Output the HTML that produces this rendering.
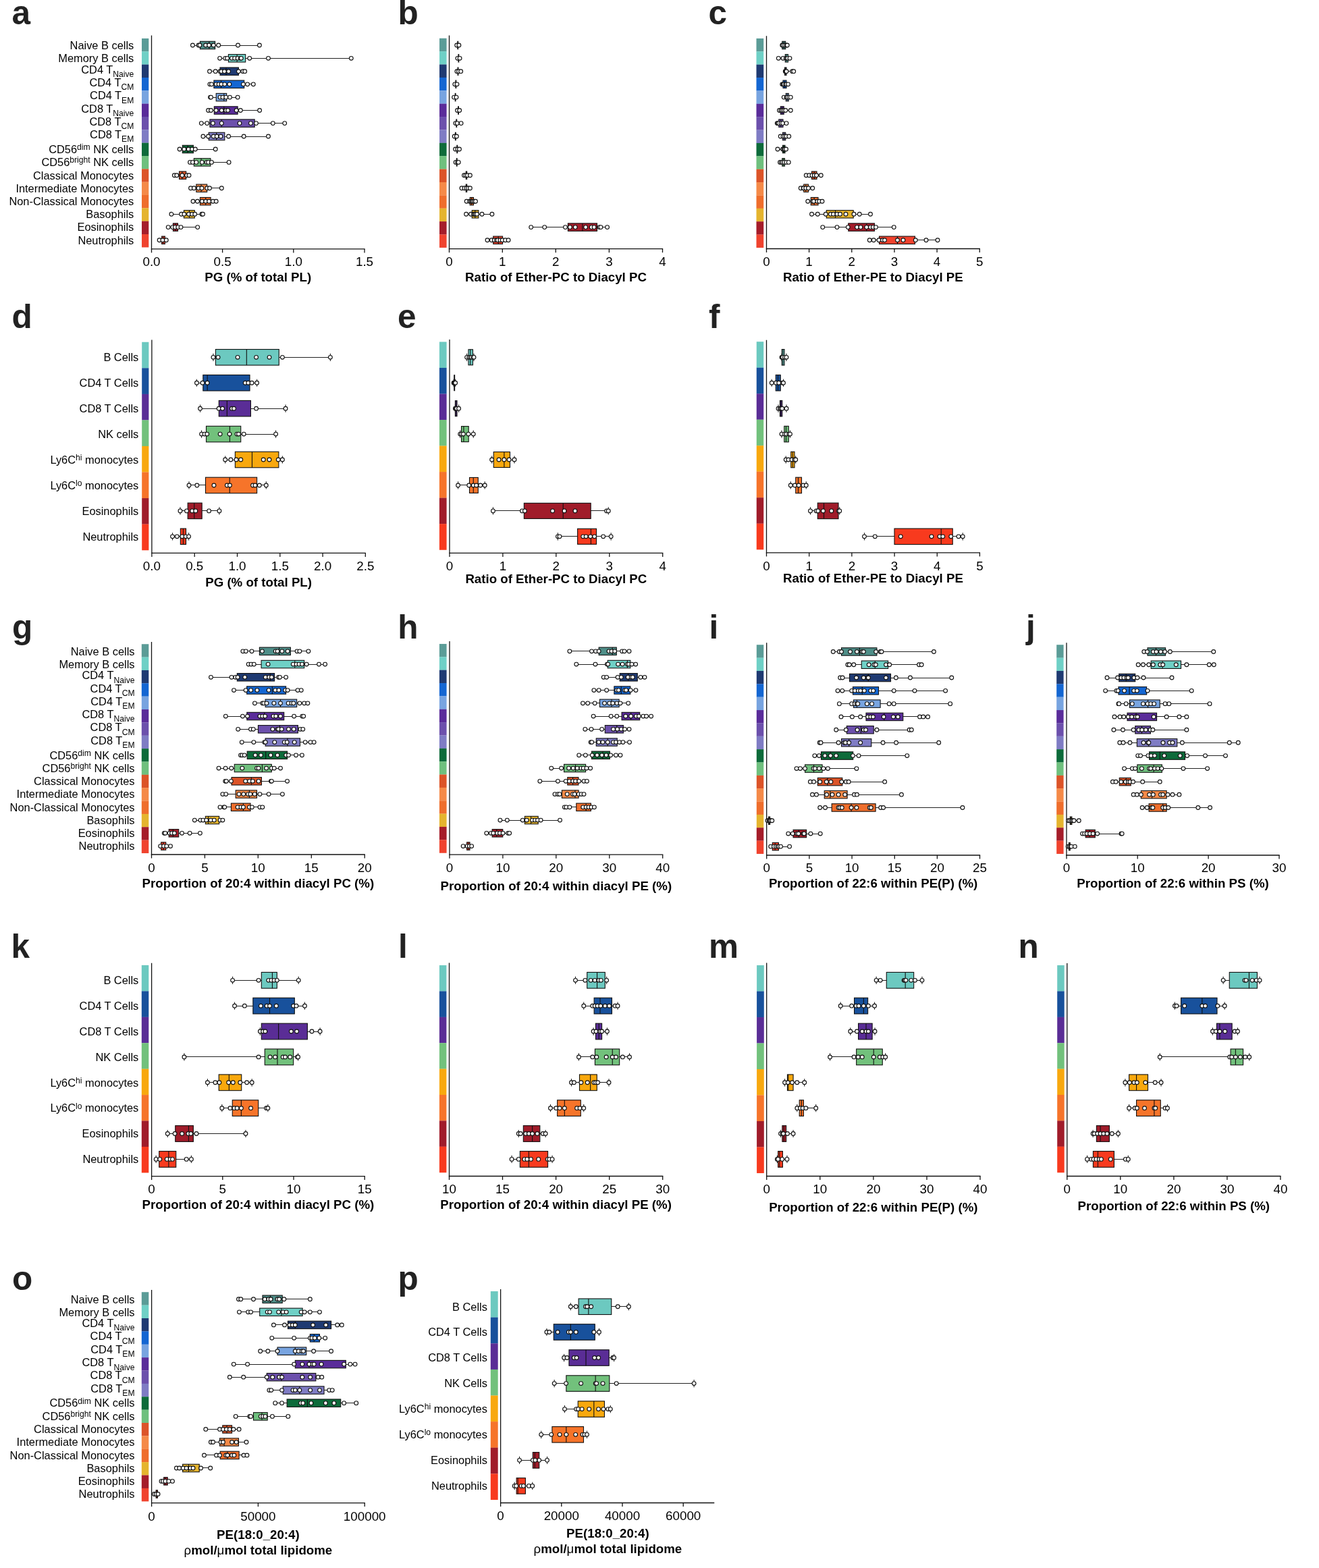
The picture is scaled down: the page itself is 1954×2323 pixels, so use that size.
<!DOCTYPE html><html><head><meta charset="utf-8"><title>Figure</title><style>html,body{margin:0;padding:0;background:#fff;}svg{display:block;}</style></head><body>
<svg width="1954" height="2323" viewBox="0 0 1954 2323" font-family='"Liberation Sans", Arial, Helvetica, sans-serif' fill="#000">
<rect width="1954" height="2323" fill="#fff"/>
<text x="17.50" y="36.20" font-size="49.5" font-weight="bold" fill="#222">a</text>
<rect x="210.00" y="56.95" width="10.30" height="19.44" fill="#5b9c97"/>
<rect x="210.00" y="76.29" width="10.30" height="19.44" fill="#6fd0c6"/>
<rect x="210.00" y="95.62" width="10.30" height="19.44" fill="#1f3a72"/>
<rect x="210.00" y="114.96" width="10.30" height="19.44" fill="#1466d2"/>
<rect x="210.00" y="134.30" width="10.30" height="19.44" fill="#78a4e0"/>
<rect x="210.00" y="153.64" width="10.30" height="19.44" fill="#5a2c9a"/>
<rect x="210.00" y="172.97" width="10.30" height="19.44" fill="#6c50ac"/>
<rect x="210.00" y="192.31" width="10.30" height="19.44" fill="#7f7cc4"/>
<rect x="210.00" y="211.65" width="10.30" height="19.44" fill="#0d6b3a"/>
<rect x="210.00" y="230.99" width="10.30" height="19.44" fill="#6fc07e"/>
<rect x="210.00" y="250.32" width="10.30" height="19.44" fill="#dc5428"/>
<rect x="210.00" y="269.66" width="10.30" height="19.44" fill="#f58a48"/>
<rect x="210.00" y="289.00" width="10.30" height="19.44" fill="#ef6e2c"/>
<rect x="210.00" y="308.34" width="10.30" height="19.44" fill="#e5b42e"/>
<rect x="210.00" y="327.67" width="10.30" height="19.44" fill="#a51d2a"/>
<rect x="210.00" y="347.01" width="10.30" height="19.44" fill="#f0432e"/>
<line x1="224.50" y1="52.50" x2="224.50" y2="369.55" stroke="#111" stroke-width="1.3"/>
<line x1="223.85" y1="368.90" x2="540.65" y2="368.90" stroke="#111" stroke-width="1.3"/>
<line x1="224.50" y1="368.90" x2="224.50" y2="374.40" stroke="#111" stroke-width="1.3"/>
<text x="224.50" y="394.30" font-size="18.8" text-anchor="middle">0.0</text>
<line x1="329.60" y1="368.90" x2="329.60" y2="374.40" stroke="#111" stroke-width="1.3"/>
<text x="329.60" y="394.30" font-size="18.8" text-anchor="middle">0.5</text>
<line x1="434.80" y1="368.90" x2="434.80" y2="374.40" stroke="#111" stroke-width="1.3"/>
<text x="434.80" y="394.30" font-size="18.8" text-anchor="middle">1.0</text>
<line x1="540.00" y1="368.90" x2="540.00" y2="374.40" stroke="#111" stroke-width="1.3"/>
<text x="540.00" y="394.30" font-size="18.8" text-anchor="middle">1.5</text>
<text x="382.25" y="416.70" font-size="18.7" font-weight="bold" text-anchor="middle">PG (% of total PL)</text>
<text x="198.30" y="72.80" font-size="16.40" text-anchor="end"><tspan>Naive B cells</tspan></text>
<text x="198.30" y="92.10" font-size="16.40" text-anchor="end"><tspan>Memory B cells</tspan></text>
<text x="198.30" y="108.70" font-size="16.40" text-anchor="end"><tspan>CD4 T</tspan><tspan font-size="12.14" dy="5.41">Naive</tspan></text>
<text x="198.30" y="127.80" font-size="16.40" text-anchor="end"><tspan>CD4 T</tspan><tspan font-size="12.14" dy="5.41">CM</tspan></text>
<text x="198.30" y="147.10" font-size="16.40" text-anchor="end"><tspan>CD4 T</tspan><tspan font-size="12.14" dy="5.41">EM</tspan></text>
<text x="198.30" y="166.50" font-size="16.40" text-anchor="end"><tspan>CD8 T</tspan><tspan font-size="12.14" dy="5.41">Naive</tspan></text>
<text x="198.30" y="185.60" font-size="16.40" text-anchor="end"><tspan>CD8 T</tspan><tspan font-size="12.14" dy="5.41">CM</tspan></text>
<text x="198.30" y="205.00" font-size="16.40" text-anchor="end"><tspan>CD8 T</tspan><tspan font-size="12.14" dy="5.41">EM</tspan></text>
<text x="198.30" y="226.80" font-size="16.40" text-anchor="end"><tspan>CD56</tspan><tspan font-size="12.14" dy="-4.92">dim</tspan><tspan dy="4.92"> NK cells</tspan></text>
<text x="198.30" y="246.20" font-size="16.40" text-anchor="end"><tspan>CD56</tspan><tspan font-size="12.14" dy="-4.92">bright</tspan><tspan dy="4.92"> NK cells</tspan></text>
<text x="198.30" y="265.50" font-size="16.40" text-anchor="end"><tspan>Classical Monocytes</tspan></text>
<text x="198.30" y="284.60" font-size="16.40" text-anchor="end"><tspan>Intermediate Monocytes</tspan></text>
<text x="198.30" y="304.00" font-size="16.40" text-anchor="end"><tspan>Non-Classical Monocytes</tspan></text>
<text x="198.30" y="323.10" font-size="16.40" text-anchor="end"><tspan>Basophils</tspan></text>
<text x="198.30" y="342.40" font-size="16.40" text-anchor="end"><tspan>Eosinophils</tspan></text>
<text x="198.30" y="361.60" font-size="16.40" text-anchor="end"><tspan>Neutrophils</tspan></text>
<line x1="285.40" y1="67.50" x2="384.40" y2="67.50" stroke="#222" stroke-width="1.1"/>
<rect x="296.40" y="61.30" width="22.20" height="11.40" fill="#4f8e88" stroke="#111" stroke-width="1.1"/>
<line x1="309.90" y1="61.30" x2="309.90" y2="72.70" stroke="#111" stroke-width="1.1"/>
<circle cx="285.40" cy="67.00" r="2.85" fill="#fff" stroke="#111" stroke-width="1.15"/>
<circle cx="294.10" cy="67.00" r="2.85" fill="#fff" stroke="#111" stroke-width="1.15"/>
<circle cx="296.00" cy="67.00" r="2.85" fill="#fff" stroke="#111" stroke-width="1.15"/>
<circle cx="304.70" cy="67.00" r="2.85" fill="#fff" stroke="#111" stroke-width="1.15"/>
<circle cx="309.60" cy="67.00" r="2.85" fill="#fff" stroke="#111" stroke-width="1.15"/>
<circle cx="316.30" cy="67.00" r="2.85" fill="#fff" stroke="#111" stroke-width="1.15"/>
<circle cx="323.70" cy="67.00" r="2.85" fill="#fff" stroke="#111" stroke-width="1.15"/>
<circle cx="352.50" cy="67.00" r="2.85" fill="#fff" stroke="#111" stroke-width="1.15"/>
<circle cx="384.40" cy="67.00" r="2.85" fill="#fff" stroke="#111" stroke-width="1.15"/>
<line x1="325.60" y1="86.50" x2="520.30" y2="86.50" stroke="#222" stroke-width="1.1"/>
<rect x="338.40" y="80.60" width="25.30" height="11.40" fill="#6fd0c6" stroke="#111" stroke-width="1.1"/>
<line x1="351.10" y1="80.60" x2="351.10" y2="92.00" stroke="#111" stroke-width="1.1"/>
<circle cx="325.60" cy="86.30" r="2.85" fill="#fff" stroke="#111" stroke-width="1.15"/>
<circle cx="333.70" cy="86.30" r="2.85" fill="#fff" stroke="#111" stroke-width="1.15"/>
<circle cx="336.60" cy="86.30" r="2.85" fill="#fff" stroke="#111" stroke-width="1.15"/>
<circle cx="343.40" cy="86.30" r="2.85" fill="#fff" stroke="#111" stroke-width="1.15"/>
<circle cx="347.60" cy="86.30" r="2.85" fill="#fff" stroke="#111" stroke-width="1.15"/>
<circle cx="352.10" cy="86.30" r="2.85" fill="#fff" stroke="#111" stroke-width="1.15"/>
<circle cx="356.30" cy="86.30" r="2.85" fill="#fff" stroke="#111" stroke-width="1.15"/>
<circle cx="357.30" cy="86.30" r="2.85" fill="#fff" stroke="#111" stroke-width="1.15"/>
<circle cx="369.70" cy="86.30" r="2.85" fill="#fff" stroke="#111" stroke-width="1.15"/>
<circle cx="397.50" cy="86.30" r="2.85" fill="#fff" stroke="#111" stroke-width="1.15"/>
<circle cx="520.30" cy="86.30" r="2.85" fill="#fff" stroke="#111" stroke-width="1.15"/>
<line x1="310.50" y1="105.50" x2="362.70" y2="105.50" stroke="#222" stroke-width="1.1"/>
<rect x="326.00" y="100.00" width="27.40" height="11.40" fill="#1f3a72" stroke="#111" stroke-width="1.1"/>
<line x1="335.00" y1="100.00" x2="335.00" y2="111.40" stroke="#111" stroke-width="1.1"/>
<circle cx="310.50" cy="105.70" r="2.85" fill="#fff" stroke="#111" stroke-width="1.15"/>
<circle cx="319.20" cy="105.70" r="2.85" fill="#fff" stroke="#111" stroke-width="1.15"/>
<circle cx="326.00" cy="105.70" r="2.85" fill="#fff" stroke="#111" stroke-width="1.15"/>
<circle cx="327.90" cy="105.70" r="2.85" fill="#fff" stroke="#111" stroke-width="1.15"/>
<circle cx="332.40" cy="105.70" r="2.85" fill="#fff" stroke="#111" stroke-width="1.15"/>
<circle cx="338.60" cy="105.70" r="2.85" fill="#fff" stroke="#111" stroke-width="1.15"/>
<circle cx="353.40" cy="105.70" r="2.85" fill="#fff" stroke="#111" stroke-width="1.15"/>
<circle cx="359.80" cy="105.70" r="2.85" fill="#fff" stroke="#111" stroke-width="1.15"/>
<circle cx="362.70" cy="105.70" r="2.85" fill="#fff" stroke="#111" stroke-width="1.15"/>
<line x1="310.90" y1="124.50" x2="375.30" y2="124.50" stroke="#222" stroke-width="1.1"/>
<rect x="316.90" y="119.10" width="44.80" height="11.40" fill="#1466d2" stroke="#111" stroke-width="1.1"/>
<line x1="327.50" y1="119.10" x2="327.50" y2="130.50" stroke="#111" stroke-width="1.1"/>
<circle cx="310.90" cy="124.80" r="2.85" fill="#fff" stroke="#111" stroke-width="1.15"/>
<circle cx="313.40" cy="124.80" r="2.85" fill="#fff" stroke="#111" stroke-width="1.15"/>
<circle cx="320.20" cy="124.80" r="2.85" fill="#fff" stroke="#111" stroke-width="1.15"/>
<circle cx="324.10" cy="124.80" r="2.85" fill="#fff" stroke="#111" stroke-width="1.15"/>
<circle cx="327.90" cy="124.80" r="2.85" fill="#fff" stroke="#111" stroke-width="1.15"/>
<circle cx="332.80" cy="124.80" r="2.85" fill="#fff" stroke="#111" stroke-width="1.15"/>
<circle cx="339.90" cy="124.80" r="2.85" fill="#fff" stroke="#111" stroke-width="1.15"/>
<circle cx="360.40" cy="124.80" r="2.85" fill="#fff" stroke="#111" stroke-width="1.15"/>
<circle cx="366.60" cy="124.80" r="2.85" fill="#fff" stroke="#111" stroke-width="1.15"/>
<circle cx="375.30" cy="124.80" r="2.85" fill="#fff" stroke="#111" stroke-width="1.15"/>
<line x1="311.50" y1="144.50" x2="352.10" y2="144.50" stroke="#222" stroke-width="1.1"/>
<rect x="320.20" y="138.40" width="15.50" height="11.40" fill="#78a4e0" stroke="#111" stroke-width="1.1"/>
<line x1="331.80" y1="138.40" x2="331.80" y2="149.80" stroke="#111" stroke-width="1.1"/>
<circle cx="311.50" cy="144.10" r="2.85" fill="#fff" stroke="#111" stroke-width="1.15"/>
<circle cx="312.50" cy="144.10" r="2.85" fill="#fff" stroke="#111" stroke-width="1.15"/>
<circle cx="326.00" cy="144.10" r="2.85" fill="#fff" stroke="#111" stroke-width="1.15"/>
<circle cx="329.90" cy="144.10" r="2.85" fill="#fff" stroke="#111" stroke-width="1.15"/>
<circle cx="334.70" cy="144.10" r="2.85" fill="#fff" stroke="#111" stroke-width="1.15"/>
<circle cx="340.50" cy="144.10" r="2.85" fill="#fff" stroke="#111" stroke-width="1.15"/>
<circle cx="352.10" cy="144.10" r="2.85" fill="#fff" stroke="#111" stroke-width="1.15"/>
<line x1="308.60" y1="163.50" x2="384.60" y2="163.50" stroke="#222" stroke-width="1.1"/>
<rect x="317.30" y="157.80" width="34.80" height="11.40" fill="#5a2c9a" stroke="#111" stroke-width="1.1"/>
<line x1="331.80" y1="157.80" x2="331.80" y2="169.20" stroke="#111" stroke-width="1.1"/>
<circle cx="308.60" cy="163.50" r="2.85" fill="#fff" stroke="#111" stroke-width="1.15"/>
<circle cx="312.50" cy="163.50" r="2.85" fill="#fff" stroke="#111" stroke-width="1.15"/>
<circle cx="320.20" cy="163.50" r="2.85" fill="#fff" stroke="#111" stroke-width="1.15"/>
<circle cx="328.30" cy="163.50" r="2.85" fill="#fff" stroke="#111" stroke-width="1.15"/>
<circle cx="334.70" cy="163.50" r="2.85" fill="#fff" stroke="#111" stroke-width="1.15"/>
<circle cx="337.60" cy="163.50" r="2.85" fill="#fff" stroke="#111" stroke-width="1.15"/>
<circle cx="350.20" cy="163.50" r="2.85" fill="#fff" stroke="#111" stroke-width="1.15"/>
<circle cx="356.30" cy="163.50" r="2.85" fill="#fff" stroke="#111" stroke-width="1.15"/>
<circle cx="384.60" cy="163.50" r="2.85" fill="#fff" stroke="#111" stroke-width="1.15"/>
<line x1="298.30" y1="182.50" x2="421.70" y2="182.50" stroke="#222" stroke-width="1.1"/>
<rect x="310.90" y="176.90" width="66.30" height="11.40" fill="#6c50ac" stroke="#111" stroke-width="1.1"/>
<line x1="328.30" y1="176.90" x2="328.30" y2="188.30" stroke="#111" stroke-width="1.1"/>
<circle cx="298.30" cy="182.60" r="2.85" fill="#fff" stroke="#111" stroke-width="1.15"/>
<circle cx="306.70" cy="182.60" r="2.85" fill="#fff" stroke="#111" stroke-width="1.15"/>
<circle cx="315.40" cy="182.60" r="2.85" fill="#fff" stroke="#111" stroke-width="1.15"/>
<circle cx="328.30" cy="182.60" r="2.85" fill="#fff" stroke="#111" stroke-width="1.15"/>
<circle cx="355.00" cy="182.60" r="2.85" fill="#fff" stroke="#111" stroke-width="1.15"/>
<circle cx="371.40" cy="182.60" r="2.85" fill="#fff" stroke="#111" stroke-width="1.15"/>
<circle cx="379.50" cy="182.60" r="2.85" fill="#fff" stroke="#111" stroke-width="1.15"/>
<circle cx="404.30" cy="182.60" r="2.85" fill="#fff" stroke="#111" stroke-width="1.15"/>
<circle cx="421.70" cy="182.60" r="2.85" fill="#fff" stroke="#111" stroke-width="1.15"/>
<line x1="300.90" y1="202.50" x2="397.50" y2="202.50" stroke="#222" stroke-width="1.1"/>
<rect x="309.20" y="196.30" width="23.60" height="11.40" fill="#7f7cc4" stroke="#111" stroke-width="1.1"/>
<line x1="320.60" y1="196.30" x2="320.60" y2="207.70" stroke="#111" stroke-width="1.1"/>
<circle cx="300.90" cy="202.00" r="2.85" fill="#fff" stroke="#111" stroke-width="1.15"/>
<circle cx="308.60" cy="202.00" r="2.85" fill="#fff" stroke="#111" stroke-width="1.15"/>
<circle cx="316.30" cy="202.00" r="2.85" fill="#fff" stroke="#111" stroke-width="1.15"/>
<circle cx="321.20" cy="202.00" r="2.85" fill="#fff" stroke="#111" stroke-width="1.15"/>
<circle cx="327.00" cy="202.00" r="2.85" fill="#fff" stroke="#111" stroke-width="1.15"/>
<circle cx="338.60" cy="202.00" r="2.85" fill="#fff" stroke="#111" stroke-width="1.15"/>
<circle cx="361.20" cy="202.00" r="2.85" fill="#fff" stroke="#111" stroke-width="1.15"/>
<circle cx="397.50" cy="202.00" r="2.85" fill="#fff" stroke="#111" stroke-width="1.15"/>
<line x1="266.10" y1="221.50" x2="319.20" y2="221.50" stroke="#222" stroke-width="1.1"/>
<rect x="270.30" y="215.30" width="16.10" height="11.40" fill="#0d6b3a" stroke="#111" stroke-width="1.1"/>
<line x1="278.00" y1="215.30" x2="278.00" y2="226.70" stroke="#111" stroke-width="1.1"/>
<circle cx="266.10" cy="221.00" r="2.85" fill="#fff" stroke="#111" stroke-width="1.15"/>
<circle cx="272.80" cy="221.00" r="2.85" fill="#fff" stroke="#111" stroke-width="1.15"/>
<circle cx="279.20" cy="221.00" r="2.85" fill="#fff" stroke="#111" stroke-width="1.15"/>
<circle cx="284.40" cy="221.00" r="2.85" fill="#fff" stroke="#111" stroke-width="1.15"/>
<circle cx="289.30" cy="221.00" r="2.85" fill="#fff" stroke="#111" stroke-width="1.15"/>
<circle cx="319.20" cy="221.00" r="2.85" fill="#fff" stroke="#111" stroke-width="1.15"/>
<line x1="281.50" y1="240.50" x2="339.10" y2="240.50" stroke="#222" stroke-width="1.1"/>
<rect x="287.30" y="234.70" width="24.60" height="11.40" fill="#6fc07e" stroke="#111" stroke-width="1.1"/>
<line x1="298.00" y1="234.70" x2="298.00" y2="246.10" stroke="#111" stroke-width="1.1"/>
<circle cx="281.50" cy="240.40" r="2.85" fill="#fff" stroke="#111" stroke-width="1.15"/>
<circle cx="285.40" cy="240.40" r="2.85" fill="#fff" stroke="#111" stroke-width="1.15"/>
<circle cx="290.80" cy="240.40" r="2.85" fill="#fff" stroke="#111" stroke-width="1.15"/>
<circle cx="299.30" cy="240.40" r="2.85" fill="#fff" stroke="#111" stroke-width="1.15"/>
<circle cx="306.10" cy="240.40" r="2.85" fill="#fff" stroke="#111" stroke-width="1.15"/>
<circle cx="308.60" cy="240.40" r="2.85" fill="#fff" stroke="#111" stroke-width="1.15"/>
<circle cx="313.40" cy="240.40" r="2.85" fill="#fff" stroke="#111" stroke-width="1.15"/>
<circle cx="339.10" cy="240.40" r="2.85" fill="#fff" stroke="#111" stroke-width="1.15"/>
<line x1="258.30" y1="259.50" x2="280.00" y2="259.50" stroke="#222" stroke-width="1.1"/>
<rect x="265.50" y="254.00" width="10.20" height="11.40" fill="#dc5428" stroke="#111" stroke-width="1.1"/>
<line x1="269.90" y1="254.00" x2="269.90" y2="265.40" stroke="#111" stroke-width="1.1"/>
<circle cx="258.30" cy="259.70" r="2.85" fill="#fff" stroke="#111" stroke-width="1.15"/>
<circle cx="261.80" cy="259.70" r="2.85" fill="#fff" stroke="#111" stroke-width="1.15"/>
<circle cx="269.90" cy="259.70" r="2.85" fill="#fff" stroke="#111" stroke-width="1.15"/>
<circle cx="276.70" cy="259.70" r="2.85" fill="#fff" stroke="#111" stroke-width="1.15"/>
<circle cx="280.00" cy="259.70" r="2.85" fill="#fff" stroke="#111" stroke-width="1.15"/>
<line x1="282.50" y1="278.50" x2="328.30" y2="278.50" stroke="#222" stroke-width="1.1"/>
<rect x="290.80" y="273.10" width="15.90" height="11.40" fill="#f58a48" stroke="#111" stroke-width="1.1"/>
<line x1="298.00" y1="273.10" x2="298.00" y2="284.50" stroke="#111" stroke-width="1.1"/>
<circle cx="282.50" cy="278.80" r="2.85" fill="#fff" stroke="#111" stroke-width="1.15"/>
<circle cx="287.30" cy="278.80" r="2.85" fill="#fff" stroke="#111" stroke-width="1.15"/>
<circle cx="294.10" cy="278.80" r="2.85" fill="#fff" stroke="#111" stroke-width="1.15"/>
<circle cx="298.90" cy="278.80" r="2.85" fill="#fff" stroke="#111" stroke-width="1.15"/>
<circle cx="306.70" cy="278.80" r="2.85" fill="#fff" stroke="#111" stroke-width="1.15"/>
<circle cx="310.50" cy="278.80" r="2.85" fill="#fff" stroke="#111" stroke-width="1.15"/>
<circle cx="328.30" cy="278.80" r="2.85" fill="#fff" stroke="#111" stroke-width="1.15"/>
<line x1="286.00" y1="298.50" x2="320.20" y2="298.50" stroke="#222" stroke-width="1.1"/>
<rect x="296.40" y="292.50" width="15.70" height="11.40" fill="#ef6e2c" stroke="#111" stroke-width="1.1"/>
<line x1="304.70" y1="292.50" x2="304.70" y2="303.90" stroke="#111" stroke-width="1.1"/>
<circle cx="286.00" cy="298.20" r="2.85" fill="#fff" stroke="#111" stroke-width="1.15"/>
<circle cx="292.50" cy="298.20" r="2.85" fill="#fff" stroke="#111" stroke-width="1.15"/>
<circle cx="299.30" cy="298.20" r="2.85" fill="#fff" stroke="#111" stroke-width="1.15"/>
<circle cx="304.70" cy="298.20" r="2.85" fill="#fff" stroke="#111" stroke-width="1.15"/>
<circle cx="309.60" cy="298.20" r="2.85" fill="#fff" stroke="#111" stroke-width="1.15"/>
<circle cx="315.40" cy="298.20" r="2.85" fill="#fff" stroke="#111" stroke-width="1.15"/>
<circle cx="320.20" cy="298.20" r="2.85" fill="#fff" stroke="#111" stroke-width="1.15"/>
<line x1="253.90" y1="317.50" x2="300.50" y2="317.50" stroke="#222" stroke-width="1.1"/>
<rect x="272.40" y="311.60" width="15.90" height="11.40" fill="#e5b42e" stroke="#111" stroke-width="1.1"/>
<line x1="280.60" y1="311.60" x2="280.60" y2="323.00" stroke="#111" stroke-width="1.1"/>
<circle cx="253.90" cy="317.30" r="2.85" fill="#fff" stroke="#111" stroke-width="1.15"/>
<circle cx="268.60" cy="317.30" r="2.85" fill="#fff" stroke="#111" stroke-width="1.15"/>
<circle cx="272.80" cy="317.30" r="2.85" fill="#fff" stroke="#111" stroke-width="1.15"/>
<circle cx="279.60" cy="317.30" r="2.85" fill="#fff" stroke="#111" stroke-width="1.15"/>
<circle cx="284.40" cy="317.30" r="2.85" fill="#fff" stroke="#111" stroke-width="1.15"/>
<circle cx="288.70" cy="317.30" r="2.85" fill="#fff" stroke="#111" stroke-width="1.15"/>
<circle cx="298.90" cy="317.30" r="2.85" fill="#fff" stroke="#111" stroke-width="1.15"/>
<circle cx="300.50" cy="317.30" r="2.85" fill="#fff" stroke="#111" stroke-width="1.15"/>
<line x1="249.20" y1="336.50" x2="292.70" y2="336.50" stroke="#222" stroke-width="1.1"/>
<rect x="256.40" y="330.90" width="7.10" height="11.40" fill="#a51d2a" stroke="#111" stroke-width="1.1"/>
<line x1="259.90" y1="330.90" x2="259.90" y2="342.30" stroke="#111" stroke-width="1.1"/>
<circle cx="249.20" cy="336.60" r="2.85" fill="#fff" stroke="#111" stroke-width="1.15"/>
<circle cx="255.80" cy="336.60" r="2.85" fill="#fff" stroke="#111" stroke-width="1.15"/>
<circle cx="259.30" cy="336.60" r="2.85" fill="#fff" stroke="#111" stroke-width="1.15"/>
<circle cx="263.70" cy="336.60" r="2.85" fill="#fff" stroke="#111" stroke-width="1.15"/>
<circle cx="268.00" cy="336.60" r="2.85" fill="#fff" stroke="#111" stroke-width="1.15"/>
<circle cx="292.70" cy="336.60" r="2.85" fill="#fff" stroke="#111" stroke-width="1.15"/>
<line x1="236.10" y1="355.50" x2="246.30" y2="355.50" stroke="#222" stroke-width="1.1"/>
<rect x="239.60" y="350.10" width="4.80" height="11.40" fill="#f0432e" stroke="#111" stroke-width="1.1"/>
<line x1="241.90" y1="350.10" x2="241.90" y2="361.50" stroke="#111" stroke-width="1.1"/>
<circle cx="236.10" cy="355.80" r="2.85" fill="#fff" stroke="#111" stroke-width="1.15"/>
<circle cx="240.90" cy="355.80" r="2.85" fill="#fff" stroke="#111" stroke-width="1.15"/>
<circle cx="246.30" cy="355.80" r="2.85" fill="#fff" stroke="#111" stroke-width="1.15"/>
<text x="589.40" y="36.20" font-size="49.5" font-weight="bold" fill="#222">b</text>
<rect x="651.00" y="56.75" width="10.60" height="19.48" fill="#5b9c97"/>
<rect x="651.00" y="76.13" width="10.60" height="19.48" fill="#6fd0c6"/>
<rect x="651.00" y="95.51" width="10.60" height="19.48" fill="#1f3a72"/>
<rect x="651.00" y="114.89" width="10.60" height="19.48" fill="#1466d2"/>
<rect x="651.00" y="134.27" width="10.60" height="19.48" fill="#78a4e0"/>
<rect x="651.00" y="153.66" width="10.60" height="19.48" fill="#5a2c9a"/>
<rect x="651.00" y="173.04" width="10.60" height="19.48" fill="#6c50ac"/>
<rect x="651.00" y="192.42" width="10.60" height="19.48" fill="#7f7cc4"/>
<rect x="651.00" y="211.80" width="10.60" height="19.48" fill="#0d6b3a"/>
<rect x="651.00" y="231.18" width="10.60" height="19.48" fill="#6fc07e"/>
<rect x="651.00" y="250.56" width="10.60" height="19.48" fill="#dc5428"/>
<rect x="651.00" y="269.94" width="10.60" height="19.48" fill="#f58a48"/>
<rect x="651.00" y="289.32" width="10.60" height="19.48" fill="#ef6e2c"/>
<rect x="651.00" y="308.71" width="10.60" height="19.48" fill="#e5b42e"/>
<rect x="651.00" y="328.09" width="10.60" height="19.48" fill="#a51d2a"/>
<rect x="651.00" y="347.47" width="10.60" height="19.48" fill="#f0432e"/>
<line x1="665.50" y1="52.50" x2="665.50" y2="369.35" stroke="#111" stroke-width="1.3"/>
<line x1="664.85" y1="368.70" x2="982.15" y2="368.70" stroke="#111" stroke-width="1.3"/>
<line x1="665.50" y1="368.70" x2="665.50" y2="374.20" stroke="#111" stroke-width="1.3"/>
<text x="665.50" y="394.30" font-size="18.8" text-anchor="middle">0</text>
<line x1="744.30" y1="368.70" x2="744.30" y2="374.20" stroke="#111" stroke-width="1.3"/>
<text x="744.30" y="394.30" font-size="18.8" text-anchor="middle">1</text>
<line x1="823.30" y1="368.70" x2="823.30" y2="374.20" stroke="#111" stroke-width="1.3"/>
<text x="823.30" y="394.30" font-size="18.8" text-anchor="middle">2</text>
<line x1="902.40" y1="368.70" x2="902.40" y2="374.20" stroke="#111" stroke-width="1.3"/>
<text x="902.40" y="394.30" font-size="18.8" text-anchor="middle">3</text>
<line x1="981.50" y1="368.70" x2="981.50" y2="374.20" stroke="#111" stroke-width="1.3"/>
<text x="981.50" y="394.30" font-size="18.8" text-anchor="middle">4</text>
<text x="823.50" y="416.70" font-size="18.7" font-weight="bold" text-anchor="middle">Ratio of Ether-PC to Diacyl PC</text>
<line x1="676.70" y1="67.50" x2="679.90" y2="67.50" stroke="#222" stroke-width="1.1"/>
<rect x="677.95" y="61.30" width="0.70" height="11.40" fill="#4f8e88" stroke="#111" stroke-width="1.1"/>
<line x1="678.30" y1="61.30" x2="678.30" y2="72.70" stroke="#111" stroke-width="1.1"/>
<circle cx="676.70" cy="67.00" r="2.85" fill="#fff" stroke="#111" stroke-width="1.15"/>
<circle cx="679.90" cy="67.00" r="2.85" fill="#fff" stroke="#111" stroke-width="1.15"/>
<line x1="677.90" y1="86.50" x2="681.10" y2="86.50" stroke="#222" stroke-width="1.1"/>
<rect x="679.05" y="80.60" width="0.70" height="11.40" fill="#6fd0c6" stroke="#111" stroke-width="1.1"/>
<line x1="679.40" y1="80.60" x2="679.40" y2="92.00" stroke="#111" stroke-width="1.1"/>
<circle cx="677.90" cy="86.30" r="2.85" fill="#fff" stroke="#111" stroke-width="1.15"/>
<circle cx="681.10" cy="86.30" r="2.85" fill="#fff" stroke="#111" stroke-width="1.15"/>
<line x1="676.90" y1="105.50" x2="682.70" y2="105.50" stroke="#222" stroke-width="1.1"/>
<rect x="678.15" y="100.00" width="0.70" height="11.40" fill="#1f3a72" stroke="#111" stroke-width="1.1"/>
<line x1="678.50" y1="100.00" x2="678.50" y2="111.40" stroke="#111" stroke-width="1.1"/>
<circle cx="676.90" cy="105.70" r="2.85" fill="#fff" stroke="#111" stroke-width="1.15"/>
<circle cx="679.50" cy="105.70" r="2.85" fill="#fff" stroke="#111" stroke-width="1.15"/>
<circle cx="682.70" cy="105.70" r="2.85" fill="#fff" stroke="#111" stroke-width="1.15"/>
<line x1="673.80" y1="124.50" x2="677.00" y2="124.50" stroke="#222" stroke-width="1.1"/>
<rect x="675.05" y="119.10" width="0.70" height="11.40" fill="#1466d2" stroke="#111" stroke-width="1.1"/>
<line x1="675.40" y1="119.10" x2="675.40" y2="130.50" stroke="#111" stroke-width="1.1"/>
<circle cx="673.80" cy="124.80" r="2.85" fill="#fff" stroke="#111" stroke-width="1.15"/>
<circle cx="677.00" cy="124.80" r="2.85" fill="#fff" stroke="#111" stroke-width="1.15"/>
<line x1="672.60" y1="144.50" x2="676.00" y2="144.50" stroke="#222" stroke-width="1.1"/>
<rect x="674.25" y="138.40" width="0.70" height="11.40" fill="#78a4e0" stroke="#111" stroke-width="1.1"/>
<line x1="674.60" y1="138.40" x2="674.60" y2="149.80" stroke="#111" stroke-width="1.1"/>
<circle cx="672.60" cy="144.10" r="2.85" fill="#fff" stroke="#111" stroke-width="1.15"/>
<circle cx="676.00" cy="144.10" r="2.85" fill="#fff" stroke="#111" stroke-width="1.15"/>
<line x1="677.50" y1="163.50" x2="680.70" y2="163.50" stroke="#222" stroke-width="1.1"/>
<rect x="678.75" y="157.80" width="0.70" height="11.40" fill="#5a2c9a" stroke="#111" stroke-width="1.1"/>
<line x1="679.10" y1="157.80" x2="679.10" y2="169.20" stroke="#111" stroke-width="1.1"/>
<circle cx="677.50" cy="163.50" r="2.85" fill="#fff" stroke="#111" stroke-width="1.15"/>
<circle cx="680.70" cy="163.50" r="2.85" fill="#fff" stroke="#111" stroke-width="1.15"/>
<line x1="674.80" y1="182.50" x2="683.10" y2="182.50" stroke="#222" stroke-width="1.1"/>
<rect x="675.95" y="176.90" width="0.70" height="11.40" fill="#6c50ac" stroke="#111" stroke-width="1.1"/>
<line x1="676.30" y1="176.90" x2="676.30" y2="188.30" stroke="#111" stroke-width="1.1"/>
<circle cx="674.80" cy="182.60" r="2.85" fill="#fff" stroke="#111" stroke-width="1.15"/>
<circle cx="677.30" cy="182.60" r="2.85" fill="#fff" stroke="#111" stroke-width="1.15"/>
<circle cx="683.10" cy="182.60" r="2.85" fill="#fff" stroke="#111" stroke-width="1.15"/>
<line x1="673.20" y1="202.50" x2="676.40" y2="202.50" stroke="#222" stroke-width="1.1"/>
<rect x="674.45" y="196.30" width="0.70" height="11.40" fill="#7f7cc4" stroke="#111" stroke-width="1.1"/>
<line x1="674.80" y1="196.30" x2="674.80" y2="207.70" stroke="#111" stroke-width="1.1"/>
<circle cx="673.20" cy="202.00" r="2.85" fill="#fff" stroke="#111" stroke-width="1.15"/>
<circle cx="676.40" cy="202.00" r="2.85" fill="#fff" stroke="#111" stroke-width="1.15"/>
<line x1="674.60" y1="221.50" x2="680.50" y2="221.50" stroke="#222" stroke-width="1.1"/>
<rect x="676.95" y="215.30" width="0.70" height="11.40" fill="#0d6b3a" stroke="#111" stroke-width="1.1"/>
<line x1="677.30" y1="215.30" x2="677.30" y2="226.70" stroke="#111" stroke-width="1.1"/>
<circle cx="674.60" cy="221.00" r="2.85" fill="#fff" stroke="#111" stroke-width="1.15"/>
<circle cx="677.80" cy="221.00" r="2.85" fill="#fff" stroke="#111" stroke-width="1.15"/>
<circle cx="680.50" cy="221.00" r="2.85" fill="#fff" stroke="#111" stroke-width="1.15"/>
<line x1="675.10" y1="240.50" x2="679.20" y2="240.50" stroke="#222" stroke-width="1.1"/>
<rect x="676.35" y="234.70" width="0.70" height="11.40" fill="#6fc07e" stroke="#111" stroke-width="1.1"/>
<line x1="676.70" y1="234.70" x2="676.70" y2="246.10" stroke="#111" stroke-width="1.1"/>
<circle cx="675.10" cy="240.40" r="2.85" fill="#fff" stroke="#111" stroke-width="1.15"/>
<circle cx="677.70" cy="240.40" r="2.85" fill="#fff" stroke="#111" stroke-width="1.15"/>
<circle cx="679.20" cy="240.40" r="2.85" fill="#fff" stroke="#111" stroke-width="1.15"/>
<line x1="687.50" y1="259.50" x2="696.40" y2="259.50" stroke="#222" stroke-width="1.1"/>
<rect x="690.30" y="254.00" width="1.40" height="11.40" fill="#dc5428" stroke="#111" stroke-width="1.1"/>
<line x1="691.00" y1="254.00" x2="691.00" y2="265.40" stroke="#111" stroke-width="1.1"/>
<circle cx="687.50" cy="259.70" r="2.85" fill="#fff" stroke="#111" stroke-width="1.15"/>
<circle cx="690.00" cy="259.70" r="2.85" fill="#fff" stroke="#111" stroke-width="1.15"/>
<circle cx="692.50" cy="259.70" r="2.85" fill="#fff" stroke="#111" stroke-width="1.15"/>
<circle cx="696.40" cy="259.70" r="2.85" fill="#fff" stroke="#111" stroke-width="1.15"/>
<line x1="684.00" y1="278.50" x2="696.40" y2="278.50" stroke="#222" stroke-width="1.1"/>
<rect x="690.30" y="273.10" width="1.40" height="11.40" fill="#f58a48" stroke="#111" stroke-width="1.1"/>
<line x1="691.00" y1="273.10" x2="691.00" y2="284.50" stroke="#111" stroke-width="1.1"/>
<circle cx="684.00" cy="278.80" r="2.85" fill="#fff" stroke="#111" stroke-width="1.15"/>
<circle cx="688.00" cy="278.80" r="2.85" fill="#fff" stroke="#111" stroke-width="1.15"/>
<circle cx="691.00" cy="278.80" r="2.85" fill="#fff" stroke="#111" stroke-width="1.15"/>
<circle cx="693.50" cy="278.80" r="2.85" fill="#fff" stroke="#111" stroke-width="1.15"/>
<circle cx="696.40" cy="278.80" r="2.85" fill="#fff" stroke="#111" stroke-width="1.15"/>
<line x1="691.20" y1="298.50" x2="704.50" y2="298.50" stroke="#222" stroke-width="1.1"/>
<rect x="696.20" y="292.50" width="5.30" height="11.40" fill="#ef6e2c" stroke="#111" stroke-width="1.1"/>
<line x1="698.60" y1="292.50" x2="698.60" y2="303.90" stroke="#111" stroke-width="1.1"/>
<circle cx="691.20" cy="298.20" r="2.85" fill="#fff" stroke="#111" stroke-width="1.15"/>
<circle cx="695.60" cy="298.20" r="2.85" fill="#fff" stroke="#111" stroke-width="1.15"/>
<circle cx="697.50" cy="298.20" r="2.85" fill="#fff" stroke="#111" stroke-width="1.15"/>
<circle cx="699.00" cy="298.20" r="2.85" fill="#fff" stroke="#111" stroke-width="1.15"/>
<circle cx="700.50" cy="298.20" r="2.85" fill="#fff" stroke="#111" stroke-width="1.15"/>
<circle cx="702.50" cy="298.20" r="2.85" fill="#fff" stroke="#111" stroke-width="1.15"/>
<circle cx="704.50" cy="298.20" r="2.85" fill="#fff" stroke="#111" stroke-width="1.15"/>
<line x1="690.60" y1="317.50" x2="728.90" y2="317.50" stroke="#222" stroke-width="1.1"/>
<rect x="699.20" y="311.60" width="9.70" height="11.40" fill="#e5b42e" stroke="#111" stroke-width="1.1"/>
<line x1="703.90" y1="311.60" x2="703.90" y2="323.00" stroke="#111" stroke-width="1.1"/>
<circle cx="690.60" cy="317.30" r="2.85" fill="#fff" stroke="#111" stroke-width="1.15"/>
<circle cx="697.60" cy="317.30" r="2.85" fill="#fff" stroke="#111" stroke-width="1.15"/>
<circle cx="701.50" cy="317.30" r="2.85" fill="#fff" stroke="#111" stroke-width="1.15"/>
<circle cx="702.90" cy="317.30" r="2.85" fill="#fff" stroke="#111" stroke-width="1.15"/>
<circle cx="704.50" cy="317.30" r="2.85" fill="#fff" stroke="#111" stroke-width="1.15"/>
<circle cx="706.50" cy="317.30" r="2.85" fill="#fff" stroke="#111" stroke-width="1.15"/>
<circle cx="714.00" cy="317.30" r="2.85" fill="#fff" stroke="#111" stroke-width="1.15"/>
<circle cx="728.90" cy="317.30" r="2.85" fill="#fff" stroke="#111" stroke-width="1.15"/>
<line x1="786.70" y1="336.50" x2="899.60" y2="336.50" stroke="#222" stroke-width="1.1"/>
<rect x="841.40" y="330.90" width="43.10" height="11.40" fill="#a51d2a" stroke="#111" stroke-width="1.1"/>
<line x1="862.90" y1="330.90" x2="862.90" y2="342.30" stroke="#111" stroke-width="1.1"/>
<circle cx="786.70" cy="336.60" r="2.85" fill="#fff" stroke="#111" stroke-width="1.15"/>
<circle cx="806.70" cy="336.60" r="2.85" fill="#fff" stroke="#111" stroke-width="1.15"/>
<circle cx="837.50" cy="336.60" r="2.85" fill="#fff" stroke="#111" stroke-width="1.15"/>
<circle cx="844.40" cy="336.60" r="2.85" fill="#fff" stroke="#111" stroke-width="1.15"/>
<circle cx="852.30" cy="336.60" r="2.85" fill="#fff" stroke="#111" stroke-width="1.15"/>
<circle cx="867.60" cy="336.60" r="2.85" fill="#fff" stroke="#111" stroke-width="1.15"/>
<circle cx="876.20" cy="336.60" r="2.85" fill="#fff" stroke="#111" stroke-width="1.15"/>
<circle cx="880.10" cy="336.60" r="2.85" fill="#fff" stroke="#111" stroke-width="1.15"/>
<circle cx="888.10" cy="336.60" r="2.85" fill="#fff" stroke="#111" stroke-width="1.15"/>
<circle cx="890.00" cy="336.60" r="2.85" fill="#fff" stroke="#111" stroke-width="1.15"/>
<circle cx="899.60" cy="336.60" r="2.85" fill="#fff" stroke="#111" stroke-width="1.15"/>
<line x1="722.00" y1="355.50" x2="753.10" y2="355.50" stroke="#222" stroke-width="1.1"/>
<rect x="730.70" y="350.10" width="13.90" height="11.40" fill="#f0432e" stroke="#111" stroke-width="1.1"/>
<line x1="738.30" y1="350.10" x2="738.30" y2="361.50" stroke="#111" stroke-width="1.1"/>
<circle cx="722.00" cy="355.80" r="2.85" fill="#fff" stroke="#111" stroke-width="1.15"/>
<circle cx="728.30" cy="355.80" r="2.85" fill="#fff" stroke="#111" stroke-width="1.15"/>
<circle cx="732.30" cy="355.80" r="2.85" fill="#fff" stroke="#111" stroke-width="1.15"/>
<circle cx="735.50" cy="355.80" r="2.85" fill="#fff" stroke="#111" stroke-width="1.15"/>
<circle cx="737.30" cy="355.80" r="2.85" fill="#fff" stroke="#111" stroke-width="1.15"/>
<circle cx="741.00" cy="355.80" r="2.85" fill="#fff" stroke="#111" stroke-width="1.15"/>
<circle cx="744.20" cy="355.80" r="2.85" fill="#fff" stroke="#111" stroke-width="1.15"/>
<circle cx="748.60" cy="355.80" r="2.85" fill="#fff" stroke="#111" stroke-width="1.15"/>
<circle cx="753.10" cy="355.80" r="2.85" fill="#fff" stroke="#111" stroke-width="1.15"/>
<text x="1049.50" y="36.20" font-size="49.5" font-weight="bold" fill="#222">c</text>
<rect x="1120.50" y="56.95" width="10.75" height="19.48" fill="#5b9c97"/>
<rect x="1120.50" y="76.33" width="10.75" height="19.48" fill="#6fd0c6"/>
<rect x="1120.50" y="95.70" width="10.75" height="19.48" fill="#1f3a72"/>
<rect x="1120.50" y="115.08" width="10.75" height="19.48" fill="#1466d2"/>
<rect x="1120.50" y="134.45" width="10.75" height="19.48" fill="#78a4e0"/>
<rect x="1120.50" y="153.82" width="10.75" height="19.48" fill="#5a2c9a"/>
<rect x="1120.50" y="173.20" width="10.75" height="19.48" fill="#6c50ac"/>
<rect x="1120.50" y="192.57" width="10.75" height="19.48" fill="#7f7cc4"/>
<rect x="1120.50" y="211.95" width="10.75" height="19.48" fill="#0d6b3a"/>
<rect x="1120.50" y="231.32" width="10.75" height="19.48" fill="#6fc07e"/>
<rect x="1120.50" y="250.70" width="10.75" height="19.48" fill="#dc5428"/>
<rect x="1120.50" y="270.07" width="10.75" height="19.48" fill="#f58a48"/>
<rect x="1120.50" y="289.45" width="10.75" height="19.48" fill="#ef6e2c"/>
<rect x="1120.50" y="308.82" width="10.75" height="19.48" fill="#e5b42e"/>
<rect x="1120.50" y="328.20" width="10.75" height="19.48" fill="#a51d2a"/>
<rect x="1120.50" y="347.57" width="10.75" height="19.48" fill="#f0432e"/>
<line x1="1135.50" y1="53.25" x2="1135.50" y2="369.15" stroke="#111" stroke-width="1.3"/>
<line x1="1134.85" y1="368.50" x2="1451.90" y2="368.50" stroke="#111" stroke-width="1.3"/>
<line x1="1135.50" y1="368.50" x2="1135.50" y2="374.00" stroke="#111" stroke-width="1.3"/>
<text x="1135.50" y="394.30" font-size="18.8" text-anchor="middle">0</text>
<line x1="1198.60" y1="368.50" x2="1198.60" y2="374.00" stroke="#111" stroke-width="1.3"/>
<text x="1198.60" y="394.30" font-size="18.8" text-anchor="middle">1</text>
<line x1="1261.80" y1="368.50" x2="1261.80" y2="374.00" stroke="#111" stroke-width="1.3"/>
<text x="1261.80" y="394.30" font-size="18.8" text-anchor="middle">2</text>
<line x1="1325.00" y1="368.50" x2="1325.00" y2="374.00" stroke="#111" stroke-width="1.3"/>
<text x="1325.00" y="394.30" font-size="18.8" text-anchor="middle">3</text>
<line x1="1388.10" y1="368.50" x2="1388.10" y2="374.00" stroke="#111" stroke-width="1.3"/>
<text x="1388.10" y="394.30" font-size="18.8" text-anchor="middle">4</text>
<line x1="1451.25" y1="368.50" x2="1451.25" y2="374.00" stroke="#111" stroke-width="1.3"/>
<text x="1451.25" y="394.30" font-size="18.8" text-anchor="middle">5</text>
<text x="1293.38" y="416.70" font-size="18.7" font-weight="bold" text-anchor="middle">Ratio of Ether-PE to Diacyl PE</text>
<line x1="1158.75" y1="67.50" x2="1166.25" y2="67.50" stroke="#222" stroke-width="1.1"/>
<rect x="1158.75" y="61.30" width="5.00" height="11.40" fill="#4f8e88" stroke="#111" stroke-width="1.1"/>
<line x1="1161.25" y1="61.30" x2="1161.25" y2="72.70" stroke="#111" stroke-width="1.1"/>
<circle cx="1158.75" cy="67.00" r="2.85" fill="#fff" stroke="#111" stroke-width="1.15"/>
<circle cx="1160.00" cy="67.00" r="2.85" fill="#fff" stroke="#111" stroke-width="1.15"/>
<circle cx="1162.50" cy="67.00" r="2.85" fill="#fff" stroke="#111" stroke-width="1.15"/>
<circle cx="1165.00" cy="67.00" r="2.85" fill="#fff" stroke="#111" stroke-width="1.15"/>
<circle cx="1166.25" cy="67.00" r="2.85" fill="#fff" stroke="#111" stroke-width="1.15"/>
<line x1="1153.25" y1="86.50" x2="1170.00" y2="86.50" stroke="#222" stroke-width="1.1"/>
<rect x="1163.25" y="80.60" width="4.25" height="11.40" fill="#6fd0c6" stroke="#111" stroke-width="1.1"/>
<line x1="1165.00" y1="80.60" x2="1165.00" y2="92.00" stroke="#111" stroke-width="1.1"/>
<circle cx="1153.25" cy="86.30" r="2.85" fill="#fff" stroke="#111" stroke-width="1.15"/>
<circle cx="1160.00" cy="86.30" r="2.85" fill="#fff" stroke="#111" stroke-width="1.15"/>
<circle cx="1164.25" cy="86.30" r="2.85" fill="#fff" stroke="#111" stroke-width="1.15"/>
<circle cx="1165.75" cy="86.30" r="2.85" fill="#fff" stroke="#111" stroke-width="1.15"/>
<circle cx="1166.75" cy="86.30" r="2.85" fill="#fff" stroke="#111" stroke-width="1.15"/>
<circle cx="1170.00" cy="86.30" r="2.85" fill="#fff" stroke="#111" stroke-width="1.15"/>
<line x1="1162.50" y1="105.50" x2="1175.75" y2="105.50" stroke="#222" stroke-width="1.1"/>
<rect x="1162.50" y="100.00" width="2.50" height="11.40" fill="#1f3a72" stroke="#111" stroke-width="1.1"/>
<line x1="1163.75" y1="100.00" x2="1163.75" y2="111.40" stroke="#111" stroke-width="1.1"/>
<circle cx="1163.25" cy="105.70" r="2.85" fill="#fff" stroke="#111" stroke-width="1.15"/>
<circle cx="1164.25" cy="105.70" r="2.85" fill="#fff" stroke="#111" stroke-width="1.15"/>
<circle cx="1165.00" cy="105.70" r="2.85" fill="#fff" stroke="#111" stroke-width="1.15"/>
<circle cx="1173.75" cy="105.70" r="2.85" fill="#fff" stroke="#111" stroke-width="1.15"/>
<circle cx="1175.75" cy="105.70" r="2.85" fill="#fff" stroke="#111" stroke-width="1.15"/>
<line x1="1158.75" y1="124.50" x2="1167.50" y2="124.50" stroke="#222" stroke-width="1.1"/>
<rect x="1160.00" y="119.10" width="5.00" height="11.40" fill="#1466d2" stroke="#111" stroke-width="1.1"/>
<line x1="1162.50" y1="119.10" x2="1162.50" y2="130.50" stroke="#111" stroke-width="1.1"/>
<circle cx="1158.75" cy="124.80" r="2.85" fill="#fff" stroke="#111" stroke-width="1.15"/>
<circle cx="1160.00" cy="124.80" r="2.85" fill="#fff" stroke="#111" stroke-width="1.15"/>
<circle cx="1161.25" cy="124.80" r="2.85" fill="#fff" stroke="#111" stroke-width="1.15"/>
<circle cx="1163.75" cy="124.80" r="2.85" fill="#fff" stroke="#111" stroke-width="1.15"/>
<circle cx="1165.00" cy="124.80" r="2.85" fill="#fff" stroke="#111" stroke-width="1.15"/>
<circle cx="1167.50" cy="124.80" r="2.85" fill="#fff" stroke="#111" stroke-width="1.15"/>
<line x1="1161.25" y1="144.50" x2="1171.25" y2="144.50" stroke="#222" stroke-width="1.1"/>
<rect x="1164.25" y="138.40" width="4.00" height="11.40" fill="#78a4e0" stroke="#111" stroke-width="1.1"/>
<line x1="1166.25" y1="138.40" x2="1166.25" y2="149.80" stroke="#111" stroke-width="1.1"/>
<circle cx="1161.25" cy="144.10" r="2.85" fill="#fff" stroke="#111" stroke-width="1.15"/>
<circle cx="1165.00" cy="144.10" r="2.85" fill="#fff" stroke="#111" stroke-width="1.15"/>
<circle cx="1166.25" cy="144.10" r="2.85" fill="#fff" stroke="#111" stroke-width="1.15"/>
<circle cx="1168.75" cy="144.10" r="2.85" fill="#fff" stroke="#111" stroke-width="1.15"/>
<circle cx="1171.25" cy="144.10" r="2.85" fill="#fff" stroke="#111" stroke-width="1.15"/>
<line x1="1154.50" y1="163.50" x2="1171.25" y2="163.50" stroke="#222" stroke-width="1.1"/>
<rect x="1156.25" y="157.80" width="5.00" height="11.40" fill="#5a2c9a" stroke="#111" stroke-width="1.1"/>
<line x1="1158.75" y1="157.80" x2="1158.75" y2="169.20" stroke="#111" stroke-width="1.1"/>
<circle cx="1154.50" cy="163.50" r="2.85" fill="#fff" stroke="#111" stroke-width="1.15"/>
<circle cx="1157.00" cy="163.50" r="2.85" fill="#fff" stroke="#111" stroke-width="1.15"/>
<circle cx="1159.00" cy="163.50" r="2.85" fill="#fff" stroke="#111" stroke-width="1.15"/>
<circle cx="1161.25" cy="163.50" r="2.85" fill="#fff" stroke="#111" stroke-width="1.15"/>
<circle cx="1163.75" cy="163.50" r="2.85" fill="#fff" stroke="#111" stroke-width="1.15"/>
<circle cx="1171.25" cy="163.50" r="2.85" fill="#fff" stroke="#111" stroke-width="1.15"/>
<line x1="1151.25" y1="182.50" x2="1165.00" y2="182.50" stroke="#222" stroke-width="1.1"/>
<rect x="1153.75" y="176.90" width="6.25" height="11.40" fill="#6c50ac" stroke="#111" stroke-width="1.1"/>
<line x1="1156.75" y1="176.90" x2="1156.75" y2="188.30" stroke="#111" stroke-width="1.1"/>
<circle cx="1151.25" cy="182.60" r="2.85" fill="#fff" stroke="#111" stroke-width="1.15"/>
<circle cx="1152.50" cy="182.60" r="2.85" fill="#fff" stroke="#111" stroke-width="1.15"/>
<circle cx="1153.75" cy="182.60" r="2.85" fill="#fff" stroke="#111" stroke-width="1.15"/>
<circle cx="1157.00" cy="182.60" r="2.85" fill="#fff" stroke="#111" stroke-width="1.15"/>
<circle cx="1159.50" cy="182.60" r="2.85" fill="#fff" stroke="#111" stroke-width="1.15"/>
<circle cx="1165.00" cy="182.60" r="2.85" fill="#fff" stroke="#111" stroke-width="1.15"/>
<line x1="1156.25" y1="202.50" x2="1168.75" y2="202.50" stroke="#222" stroke-width="1.1"/>
<rect x="1159.50" y="196.30" width="4.25" height="11.40" fill="#7f7cc4" stroke="#111" stroke-width="1.1"/>
<line x1="1161.75" y1="196.30" x2="1161.75" y2="207.70" stroke="#111" stroke-width="1.1"/>
<circle cx="1156.25" cy="202.00" r="2.85" fill="#fff" stroke="#111" stroke-width="1.15"/>
<circle cx="1160.00" cy="202.00" r="2.85" fill="#fff" stroke="#111" stroke-width="1.15"/>
<circle cx="1162.50" cy="202.00" r="2.85" fill="#fff" stroke="#111" stroke-width="1.15"/>
<circle cx="1165.00" cy="202.00" r="2.85" fill="#fff" stroke="#111" stroke-width="1.15"/>
<circle cx="1168.75" cy="202.00" r="2.85" fill="#fff" stroke="#111" stroke-width="1.15"/>
<line x1="1152.00" y1="221.50" x2="1164.50" y2="221.50" stroke="#222" stroke-width="1.1"/>
<rect x="1159.50" y="215.30" width="3.50" height="11.40" fill="#0d6b3a" stroke="#111" stroke-width="1.1"/>
<line x1="1161.25" y1="215.30" x2="1161.25" y2="226.70" stroke="#111" stroke-width="1.1"/>
<circle cx="1152.00" cy="221.00" r="2.85" fill="#fff" stroke="#111" stroke-width="1.15"/>
<circle cx="1159.50" cy="221.00" r="2.85" fill="#fff" stroke="#111" stroke-width="1.15"/>
<circle cx="1161.25" cy="221.00" r="2.85" fill="#fff" stroke="#111" stroke-width="1.15"/>
<circle cx="1162.50" cy="221.00" r="2.85" fill="#fff" stroke="#111" stroke-width="1.15"/>
<circle cx="1164.50" cy="221.00" r="2.85" fill="#fff" stroke="#111" stroke-width="1.15"/>
<line x1="1155.50" y1="240.50" x2="1168.25" y2="240.50" stroke="#222" stroke-width="1.1"/>
<rect x="1158.75" y="234.70" width="3.75" height="11.40" fill="#6fc07e" stroke="#111" stroke-width="1.1"/>
<line x1="1160.50" y1="234.70" x2="1160.50" y2="246.10" stroke="#111" stroke-width="1.1"/>
<circle cx="1155.50" cy="240.40" r="2.85" fill="#fff" stroke="#111" stroke-width="1.15"/>
<circle cx="1157.50" cy="240.40" r="2.85" fill="#fff" stroke="#111" stroke-width="1.15"/>
<circle cx="1159.50" cy="240.40" r="2.85" fill="#fff" stroke="#111" stroke-width="1.15"/>
<circle cx="1162.00" cy="240.40" r="2.85" fill="#fff" stroke="#111" stroke-width="1.15"/>
<circle cx="1165.00" cy="240.40" r="2.85" fill="#fff" stroke="#111" stroke-width="1.15"/>
<circle cx="1168.25" cy="240.40" r="2.85" fill="#fff" stroke="#111" stroke-width="1.15"/>
<line x1="1194.25" y1="259.50" x2="1216.25" y2="259.50" stroke="#222" stroke-width="1.1"/>
<rect x="1202.50" y="254.00" width="7.50" height="11.40" fill="#dc5428" stroke="#111" stroke-width="1.1"/>
<line x1="1206.25" y1="254.00" x2="1206.25" y2="265.40" stroke="#111" stroke-width="1.1"/>
<circle cx="1194.25" cy="259.70" r="2.85" fill="#fff" stroke="#111" stroke-width="1.15"/>
<circle cx="1198.75" cy="259.70" r="2.85" fill="#fff" stroke="#111" stroke-width="1.15"/>
<circle cx="1203.00" cy="259.70" r="2.85" fill="#fff" stroke="#111" stroke-width="1.15"/>
<circle cx="1206.25" cy="259.70" r="2.85" fill="#fff" stroke="#111" stroke-width="1.15"/>
<circle cx="1209.50" cy="259.70" r="2.85" fill="#fff" stroke="#111" stroke-width="1.15"/>
<circle cx="1216.25" cy="259.70" r="2.85" fill="#fff" stroke="#111" stroke-width="1.15"/>
<line x1="1186.25" y1="278.50" x2="1203.75" y2="278.50" stroke="#222" stroke-width="1.1"/>
<rect x="1190.75" y="273.10" width="6.75" height="11.40" fill="#f58a48" stroke="#111" stroke-width="1.1"/>
<line x1="1193.75" y1="273.10" x2="1193.75" y2="284.50" stroke="#111" stroke-width="1.1"/>
<circle cx="1186.25" cy="278.80" r="2.85" fill="#fff" stroke="#111" stroke-width="1.15"/>
<circle cx="1190.00" cy="278.80" r="2.85" fill="#fff" stroke="#111" stroke-width="1.15"/>
<circle cx="1190.50" cy="278.80" r="2.85" fill="#fff" stroke="#111" stroke-width="1.15"/>
<circle cx="1193.75" cy="278.80" r="2.85" fill="#fff" stroke="#111" stroke-width="1.15"/>
<circle cx="1197.50" cy="278.80" r="2.85" fill="#fff" stroke="#111" stroke-width="1.15"/>
<circle cx="1203.75" cy="278.80" r="2.85" fill="#fff" stroke="#111" stroke-width="1.15"/>
<line x1="1196.75" y1="298.50" x2="1218.00" y2="298.50" stroke="#222" stroke-width="1.1"/>
<rect x="1201.25" y="292.50" width="10.75" height="11.40" fill="#ef6e2c" stroke="#111" stroke-width="1.1"/>
<line x1="1206.25" y1="292.50" x2="1206.25" y2="303.90" stroke="#111" stroke-width="1.1"/>
<circle cx="1196.75" cy="298.20" r="2.85" fill="#fff" stroke="#111" stroke-width="1.15"/>
<circle cx="1203.75" cy="298.20" r="2.85" fill="#fff" stroke="#111" stroke-width="1.15"/>
<circle cx="1205.50" cy="298.20" r="2.85" fill="#fff" stroke="#111" stroke-width="1.15"/>
<circle cx="1210.75" cy="298.20" r="2.85" fill="#fff" stroke="#111" stroke-width="1.15"/>
<circle cx="1213.75" cy="298.20" r="2.85" fill="#fff" stroke="#111" stroke-width="1.15"/>
<circle cx="1218.00" cy="298.20" r="2.85" fill="#fff" stroke="#111" stroke-width="1.15"/>
<line x1="1202.50" y1="317.50" x2="1289.50" y2="317.50" stroke="#222" stroke-width="1.1"/>
<rect x="1224.25" y="311.60" width="40.00" height="11.40" fill="#e5b42e" stroke="#111" stroke-width="1.1"/>
<line x1="1237.50" y1="311.60" x2="1237.50" y2="323.00" stroke="#111" stroke-width="1.1"/>
<circle cx="1202.50" cy="317.30" r="2.85" fill="#fff" stroke="#111" stroke-width="1.15"/>
<circle cx="1211.25" cy="317.30" r="2.85" fill="#fff" stroke="#111" stroke-width="1.15"/>
<circle cx="1223.25" cy="317.30" r="2.85" fill="#fff" stroke="#111" stroke-width="1.15"/>
<circle cx="1230.50" cy="317.30" r="2.85" fill="#fff" stroke="#111" stroke-width="1.15"/>
<circle cx="1234.50" cy="317.30" r="2.85" fill="#fff" stroke="#111" stroke-width="1.15"/>
<circle cx="1240.00" cy="317.30" r="2.85" fill="#fff" stroke="#111" stroke-width="1.15"/>
<circle cx="1244.50" cy="317.30" r="2.85" fill="#fff" stroke="#111" stroke-width="1.15"/>
<circle cx="1253.00" cy="317.30" r="2.85" fill="#fff" stroke="#111" stroke-width="1.15"/>
<circle cx="1265.00" cy="317.30" r="2.85" fill="#fff" stroke="#111" stroke-width="1.15"/>
<circle cx="1273.25" cy="317.30" r="2.85" fill="#fff" stroke="#111" stroke-width="1.15"/>
<circle cx="1289.50" cy="317.30" r="2.85" fill="#fff" stroke="#111" stroke-width="1.15"/>
<line x1="1218.75" y1="336.50" x2="1324.25" y2="336.50" stroke="#222" stroke-width="1.1"/>
<rect x="1256.75" y="330.90" width="38.75" height="11.40" fill="#a51d2a" stroke="#111" stroke-width="1.1"/>
<line x1="1283.75" y1="330.90" x2="1283.75" y2="342.30" stroke="#111" stroke-width="1.1"/>
<circle cx="1218.75" cy="336.60" r="2.85" fill="#fff" stroke="#111" stroke-width="1.15"/>
<circle cx="1240.00" cy="336.60" r="2.85" fill="#fff" stroke="#111" stroke-width="1.15"/>
<circle cx="1256.25" cy="336.60" r="2.85" fill="#fff" stroke="#111" stroke-width="1.15"/>
<circle cx="1269.50" cy="336.60" r="2.85" fill="#fff" stroke="#111" stroke-width="1.15"/>
<circle cx="1275.00" cy="336.60" r="2.85" fill="#fff" stroke="#111" stroke-width="1.15"/>
<circle cx="1283.75" cy="336.60" r="2.85" fill="#fff" stroke="#111" stroke-width="1.15"/>
<circle cx="1289.50" cy="336.60" r="2.85" fill="#fff" stroke="#111" stroke-width="1.15"/>
<circle cx="1293.25" cy="336.60" r="2.85" fill="#fff" stroke="#111" stroke-width="1.15"/>
<circle cx="1297.50" cy="336.60" r="2.85" fill="#fff" stroke="#111" stroke-width="1.15"/>
<circle cx="1324.25" cy="336.60" r="2.85" fill="#fff" stroke="#111" stroke-width="1.15"/>
<line x1="1288.25" y1="355.50" x2="1389.00" y2="355.50" stroke="#222" stroke-width="1.1"/>
<rect x="1302.50" y="350.10" width="53.00" height="11.40" fill="#f0432e" stroke="#111" stroke-width="1.1"/>
<line x1="1329.50" y1="350.10" x2="1329.50" y2="361.50" stroke="#111" stroke-width="1.1"/>
<circle cx="1288.25" cy="355.80" r="2.85" fill="#fff" stroke="#111" stroke-width="1.15"/>
<circle cx="1294.25" cy="355.80" r="2.85" fill="#fff" stroke="#111" stroke-width="1.15"/>
<circle cx="1302.00" cy="355.80" r="2.85" fill="#fff" stroke="#111" stroke-width="1.15"/>
<circle cx="1307.50" cy="355.80" r="2.85" fill="#fff" stroke="#111" stroke-width="1.15"/>
<circle cx="1310.50" cy="355.80" r="2.85" fill="#fff" stroke="#111" stroke-width="1.15"/>
<circle cx="1329.50" cy="355.80" r="2.85" fill="#fff" stroke="#111" stroke-width="1.15"/>
<circle cx="1338.00" cy="355.80" r="2.85" fill="#fff" stroke="#111" stroke-width="1.15"/>
<circle cx="1356.25" cy="355.80" r="2.85" fill="#fff" stroke="#111" stroke-width="1.15"/>
<circle cx="1372.00" cy="355.80" r="2.85" fill="#fff" stroke="#111" stroke-width="1.15"/>
<circle cx="1389.00" cy="355.80" r="2.85" fill="#fff" stroke="#111" stroke-width="1.15"/>
<text x="17.60" y="485.50" font-size="49.5" font-weight="bold" fill="#222">d</text>
<rect x="210.20" y="506.75" width="10.20" height="38.65" fill="#6cc9c0"/>
<rect x="210.20" y="545.30" width="10.20" height="38.65" fill="#18519c"/>
<rect x="210.20" y="583.85" width="10.20" height="38.65" fill="#5a2d96"/>
<rect x="210.20" y="622.40" width="10.20" height="38.65" fill="#72c17c"/>
<rect x="210.20" y="660.95" width="10.20" height="38.65" fill="#f8a80e"/>
<rect x="210.20" y="699.50" width="10.20" height="38.65" fill="#f6742a"/>
<rect x="210.20" y="738.05" width="10.20" height="38.65" fill="#a01c2a"/>
<rect x="210.20" y="776.60" width="10.20" height="38.65" fill="#f83a1e"/>
<line x1="224.90" y1="503.60" x2="224.90" y2="820.05" stroke="#111" stroke-width="1.3"/>
<line x1="224.25" y1="819.40" x2="541.95" y2="819.40" stroke="#111" stroke-width="1.3"/>
<line x1="224.90" y1="819.40" x2="224.90" y2="824.90" stroke="#111" stroke-width="1.3"/>
<text x="224.90" y="845.00" font-size="18.8" text-anchor="middle">0.0</text>
<line x1="288.20" y1="819.40" x2="288.20" y2="824.90" stroke="#111" stroke-width="1.3"/>
<text x="288.20" y="845.00" font-size="18.8" text-anchor="middle">0.5</text>
<line x1="351.50" y1="819.40" x2="351.50" y2="824.90" stroke="#111" stroke-width="1.3"/>
<text x="351.50" y="845.00" font-size="18.8" text-anchor="middle">1.0</text>
<line x1="414.80" y1="819.40" x2="414.80" y2="824.90" stroke="#111" stroke-width="1.3"/>
<text x="414.80" y="845.00" font-size="18.8" text-anchor="middle">1.5</text>
<line x1="478.10" y1="819.40" x2="478.10" y2="824.90" stroke="#111" stroke-width="1.3"/>
<text x="478.10" y="845.00" font-size="18.8" text-anchor="middle">2.0</text>
<line x1="541.30" y1="819.40" x2="541.30" y2="824.90" stroke="#111" stroke-width="1.3"/>
<text x="541.30" y="845.00" font-size="18.8" text-anchor="middle">2.5</text>
<text x="383.10" y="868.50" font-size="18.7" font-weight="bold" text-anchor="middle">PG (% of total PL)</text>
<text x="205.30" y="535.10" font-size="16.40" text-anchor="end"><tspan>B Cells</tspan></text>
<text x="205.30" y="573.03" font-size="16.40" text-anchor="end"><tspan>CD4 T Cells</tspan></text>
<text x="205.30" y="610.96" font-size="16.40" text-anchor="end"><tspan>CD8 T Cells</tspan></text>
<text x="205.30" y="648.89" font-size="16.40" text-anchor="end"><tspan>NK cells</tspan></text>
<text x="205.30" y="686.82" font-size="16.40" text-anchor="end"><tspan>Ly6C</tspan><tspan font-size="12.14" dy="-4.92">hi</tspan><tspan dy="4.92"> monocytes</tspan></text>
<text x="205.30" y="724.75" font-size="16.40" text-anchor="end"><tspan>Ly6C</tspan><tspan font-size="12.14" dy="-4.92">lo</tspan><tspan dy="4.92"> monocytes</tspan></text>
<text x="205.30" y="762.68" font-size="16.40" text-anchor="end"><tspan>Eosinophils</tspan></text>
<text x="205.30" y="800.61" font-size="16.40" text-anchor="end"><tspan>Neutrophils</tspan></text>
<line x1="315.92" y1="529.50" x2="489.39" y2="529.50" stroke="#222" stroke-width="1.1"/>
<line x1="315.92" y1="523.70" x2="315.92" y2="534.90" stroke="#222" stroke-width="1.1"/>
<line x1="489.39" y1="523.70" x2="489.39" y2="534.90" stroke="#222" stroke-width="1.1"/>
<rect x="319.39" y="517.55" width="93.88" height="23.50" fill="#6cc9c0" stroke="#111" stroke-width="1.1"/>
<line x1="365.31" y1="517.55" x2="365.31" y2="541.05" stroke="#111" stroke-width="1.1"/>
<circle cx="315.92" cy="529.30" r="2.85" fill="#fff" stroke="#111" stroke-width="1.15"/>
<circle cx="323.06" cy="529.30" r="2.85" fill="#fff" stroke="#111" stroke-width="1.15"/>
<circle cx="352.04" cy="529.30" r="2.85" fill="#fff" stroke="#111" stroke-width="1.15"/>
<circle cx="379.59" cy="529.30" r="2.85" fill="#fff" stroke="#111" stroke-width="1.15"/>
<circle cx="398.98" cy="529.30" r="2.85" fill="#fff" stroke="#111" stroke-width="1.15"/>
<circle cx="418.37" cy="529.30" r="2.85" fill="#fff" stroke="#111" stroke-width="1.15"/>
<circle cx="489.39" cy="529.30" r="2.85" fill="#fff" stroke="#111" stroke-width="1.15"/>
<line x1="291.43" y1="567.50" x2="380.61" y2="567.50" stroke="#222" stroke-width="1.1"/>
<line x1="291.43" y1="561.63" x2="291.43" y2="572.83" stroke="#222" stroke-width="1.1"/>
<line x1="380.61" y1="561.63" x2="380.61" y2="572.83" stroke="#222" stroke-width="1.1"/>
<rect x="300.82" y="555.48" width="69.18" height="23.50" fill="#18519c" stroke="#111" stroke-width="1.1"/>
<line x1="307.14" y1="555.48" x2="307.14" y2="578.98" stroke="#111" stroke-width="1.1"/>
<circle cx="291.43" cy="567.23" r="2.85" fill="#fff" stroke="#111" stroke-width="1.15"/>
<circle cx="300.00" cy="567.23" r="2.85" fill="#fff" stroke="#111" stroke-width="1.15"/>
<circle cx="307.14" cy="567.23" r="2.85" fill="#fff" stroke="#111" stroke-width="1.15"/>
<circle cx="363.27" cy="567.23" r="2.85" fill="#fff" stroke="#111" stroke-width="1.15"/>
<circle cx="367.76" cy="567.23" r="2.85" fill="#fff" stroke="#111" stroke-width="1.15"/>
<circle cx="373.06" cy="567.23" r="2.85" fill="#fff" stroke="#111" stroke-width="1.15"/>
<circle cx="380.61" cy="567.23" r="2.85" fill="#fff" stroke="#111" stroke-width="1.15"/>
<line x1="296.53" y1="605.50" x2="423.06" y2="605.50" stroke="#222" stroke-width="1.1"/>
<line x1="296.53" y1="599.56" x2="296.53" y2="610.76" stroke="#222" stroke-width="1.1"/>
<line x1="423.06" y1="599.56" x2="423.06" y2="610.76" stroke="#222" stroke-width="1.1"/>
<rect x="324.29" y="593.41" width="47.14" height="23.50" fill="#5a2d96" stroke="#111" stroke-width="1.1"/>
<line x1="336.33" y1="593.41" x2="336.33" y2="616.91" stroke="#111" stroke-width="1.1"/>
<circle cx="296.53" cy="605.16" r="2.85" fill="#fff" stroke="#111" stroke-width="1.15"/>
<circle cx="324.08" cy="605.16" r="2.85" fill="#fff" stroke="#111" stroke-width="1.15"/>
<circle cx="329.59" cy="605.16" r="2.85" fill="#fff" stroke="#111" stroke-width="1.15"/>
<circle cx="343.47" cy="605.16" r="2.85" fill="#fff" stroke="#111" stroke-width="1.15"/>
<circle cx="346.53" cy="605.16" r="2.85" fill="#fff" stroke="#111" stroke-width="1.15"/>
<circle cx="379.59" cy="605.16" r="2.85" fill="#fff" stroke="#111" stroke-width="1.15"/>
<circle cx="423.06" cy="605.16" r="2.85" fill="#fff" stroke="#111" stroke-width="1.15"/>
<line x1="298.57" y1="643.50" x2="408.57" y2="643.50" stroke="#222" stroke-width="1.1"/>
<line x1="298.57" y1="637.49" x2="298.57" y2="648.69" stroke="#222" stroke-width="1.1"/>
<line x1="408.57" y1="637.49" x2="408.57" y2="648.69" stroke="#222" stroke-width="1.1"/>
<rect x="305.51" y="631.34" width="51.22" height="23.50" fill="#72c17c" stroke="#111" stroke-width="1.1"/>
<line x1="340.41" y1="631.34" x2="340.41" y2="654.84" stroke="#111" stroke-width="1.1"/>
<circle cx="298.57" cy="643.09" r="2.85" fill="#fff" stroke="#111" stroke-width="1.15"/>
<circle cx="303.06" cy="643.09" r="2.85" fill="#fff" stroke="#111" stroke-width="1.15"/>
<circle cx="306.73" cy="643.09" r="2.85" fill="#fff" stroke="#111" stroke-width="1.15"/>
<circle cx="326.12" cy="643.09" r="2.85" fill="#fff" stroke="#111" stroke-width="1.15"/>
<circle cx="340.00" cy="643.09" r="2.85" fill="#fff" stroke="#111" stroke-width="1.15"/>
<circle cx="351.02" cy="643.09" r="2.85" fill="#fff" stroke="#111" stroke-width="1.15"/>
<circle cx="353.47" cy="643.09" r="2.85" fill="#fff" stroke="#111" stroke-width="1.15"/>
<circle cx="361.22" cy="643.09" r="2.85" fill="#fff" stroke="#111" stroke-width="1.15"/>
<circle cx="408.57" cy="643.09" r="2.85" fill="#fff" stroke="#111" stroke-width="1.15"/>
<line x1="333.67" y1="681.50" x2="418.37" y2="681.50" stroke="#222" stroke-width="1.1"/>
<line x1="333.67" y1="675.42" x2="333.67" y2="686.62" stroke="#222" stroke-width="1.1"/>
<line x1="418.37" y1="675.42" x2="418.37" y2="686.62" stroke="#222" stroke-width="1.1"/>
<rect x="348.37" y="669.27" width="64.49" height="23.50" fill="#f8a80e" stroke="#111" stroke-width="1.1"/>
<line x1="373.47" y1="669.27" x2="373.47" y2="692.77" stroke="#111" stroke-width="1.1"/>
<circle cx="333.67" cy="681.02" r="2.85" fill="#fff" stroke="#111" stroke-width="1.15"/>
<circle cx="341.84" cy="681.02" r="2.85" fill="#fff" stroke="#111" stroke-width="1.15"/>
<circle cx="350.00" cy="681.02" r="2.85" fill="#fff" stroke="#111" stroke-width="1.15"/>
<circle cx="356.73" cy="681.02" r="2.85" fill="#fff" stroke="#111" stroke-width="1.15"/>
<circle cx="390.20" cy="681.02" r="2.85" fill="#fff" stroke="#111" stroke-width="1.15"/>
<circle cx="398.98" cy="681.02" r="2.85" fill="#fff" stroke="#111" stroke-width="1.15"/>
<circle cx="412.24" cy="681.02" r="2.85" fill="#fff" stroke="#111" stroke-width="1.15"/>
<circle cx="418.37" cy="681.02" r="2.85" fill="#fff" stroke="#111" stroke-width="1.15"/>
<line x1="280.00" y1="718.50" x2="394.29" y2="718.50" stroke="#222" stroke-width="1.1"/>
<line x1="280.00" y1="713.35" x2="280.00" y2="724.55" stroke="#222" stroke-width="1.1"/>
<line x1="394.29" y1="713.35" x2="394.29" y2="724.55" stroke="#222" stroke-width="1.1"/>
<rect x="304.49" y="707.20" width="76.12" height="23.50" fill="#f6742a" stroke="#111" stroke-width="1.1"/>
<line x1="340.20" y1="707.20" x2="340.20" y2="730.70" stroke="#111" stroke-width="1.1"/>
<circle cx="280.00" cy="718.95" r="2.85" fill="#fff" stroke="#111" stroke-width="1.15"/>
<circle cx="291.84" cy="718.95" r="2.85" fill="#fff" stroke="#111" stroke-width="1.15"/>
<circle cx="316.94" cy="718.95" r="2.85" fill="#fff" stroke="#111" stroke-width="1.15"/>
<circle cx="336.33" cy="718.95" r="2.85" fill="#fff" stroke="#111" stroke-width="1.15"/>
<circle cx="340.41" cy="718.95" r="2.85" fill="#fff" stroke="#111" stroke-width="1.15"/>
<circle cx="374.49" cy="718.95" r="2.85" fill="#fff" stroke="#111" stroke-width="1.15"/>
<circle cx="377.96" cy="718.95" r="2.85" fill="#fff" stroke="#111" stroke-width="1.15"/>
<circle cx="384.29" cy="718.95" r="2.85" fill="#fff" stroke="#111" stroke-width="1.15"/>
<circle cx="394.29" cy="718.95" r="2.85" fill="#fff" stroke="#111" stroke-width="1.15"/>
<line x1="266.94" y1="756.50" x2="324.90" y2="756.50" stroke="#222" stroke-width="1.1"/>
<line x1="266.94" y1="751.28" x2="266.94" y2="762.48" stroke="#222" stroke-width="1.1"/>
<line x1="324.90" y1="751.28" x2="324.90" y2="762.48" stroke="#222" stroke-width="1.1"/>
<rect x="278.16" y="745.13" width="21.02" height="23.50" fill="#a01c2a" stroke="#111" stroke-width="1.1"/>
<line x1="287.76" y1="745.13" x2="287.76" y2="768.63" stroke="#111" stroke-width="1.1"/>
<circle cx="266.94" cy="756.88" r="2.85" fill="#fff" stroke="#111" stroke-width="1.15"/>
<circle cx="276.53" cy="756.88" r="2.85" fill="#fff" stroke="#111" stroke-width="1.15"/>
<circle cx="284.69" cy="756.88" r="2.85" fill="#fff" stroke="#111" stroke-width="1.15"/>
<circle cx="289.80" cy="756.88" r="2.85" fill="#fff" stroke="#111" stroke-width="1.15"/>
<circle cx="309.59" cy="756.88" r="2.85" fill="#fff" stroke="#111" stroke-width="1.15"/>
<circle cx="324.90" cy="756.88" r="2.85" fill="#fff" stroke="#111" stroke-width="1.15"/>
<line x1="255.51" y1="794.50" x2="279.59" y2="794.50" stroke="#222" stroke-width="1.1"/>
<line x1="255.51" y1="789.21" x2="255.51" y2="800.41" stroke="#222" stroke-width="1.1"/>
<line x1="279.59" y1="789.21" x2="279.59" y2="800.41" stroke="#222" stroke-width="1.1"/>
<rect x="267.35" y="783.06" width="8.16" height="23.50" fill="#f83a1e" stroke="#111" stroke-width="1.1"/>
<line x1="271.43" y1="783.06" x2="271.43" y2="806.56" stroke="#111" stroke-width="1.1"/>
<circle cx="255.51" cy="794.81" r="2.85" fill="#fff" stroke="#111" stroke-width="1.15"/>
<circle cx="262.24" cy="794.81" r="2.85" fill="#fff" stroke="#111" stroke-width="1.15"/>
<circle cx="269.80" cy="794.81" r="2.85" fill="#fff" stroke="#111" stroke-width="1.15"/>
<circle cx="275.10" cy="794.81" r="2.85" fill="#fff" stroke="#111" stroke-width="1.15"/>
<circle cx="279.59" cy="794.81" r="2.85" fill="#fff" stroke="#111" stroke-width="1.15"/>
<text x="589.00" y="485.50" font-size="49.5" font-weight="bold" fill="#222">e</text>
<rect x="650.90" y="506.45" width="10.70" height="38.63" fill="#6cc9c0"/>
<rect x="650.90" y="544.98" width="10.70" height="38.63" fill="#18519c"/>
<rect x="650.90" y="583.50" width="10.70" height="38.63" fill="#5a2d96"/>
<rect x="650.90" y="622.03" width="10.70" height="38.63" fill="#72c17c"/>
<rect x="650.90" y="660.55" width="10.70" height="38.63" fill="#f8a80e"/>
<rect x="650.90" y="699.08" width="10.70" height="38.63" fill="#f6742a"/>
<rect x="650.90" y="737.60" width="10.70" height="38.63" fill="#a01c2a"/>
<rect x="650.90" y="776.13" width="10.70" height="38.63" fill="#f83a1e"/>
<line x1="666.00" y1="503.10" x2="666.00" y2="820.05" stroke="#111" stroke-width="1.3"/>
<line x1="665.35" y1="819.40" x2="982.35" y2="819.40" stroke="#111" stroke-width="1.3"/>
<line x1="666.00" y1="819.40" x2="666.00" y2="824.90" stroke="#111" stroke-width="1.3"/>
<text x="666.00" y="845.00" font-size="18.8" text-anchor="middle">0</text>
<line x1="744.90" y1="819.40" x2="744.90" y2="824.90" stroke="#111" stroke-width="1.3"/>
<text x="744.90" y="845.00" font-size="18.8" text-anchor="middle">1</text>
<line x1="823.80" y1="819.40" x2="823.80" y2="824.90" stroke="#111" stroke-width="1.3"/>
<text x="823.80" y="845.00" font-size="18.8" text-anchor="middle">2</text>
<line x1="902.80" y1="819.40" x2="902.80" y2="824.90" stroke="#111" stroke-width="1.3"/>
<text x="902.80" y="845.00" font-size="18.8" text-anchor="middle">3</text>
<line x1="981.70" y1="819.40" x2="981.70" y2="824.90" stroke="#111" stroke-width="1.3"/>
<text x="981.70" y="845.00" font-size="18.8" text-anchor="middle">4</text>
<text x="823.85" y="863.70" font-size="18.7" font-weight="bold" text-anchor="middle">Ratio of Ether-PC to Diacyl PC</text>
<line x1="691.60" y1="529.50" x2="702.03" y2="529.50" stroke="#222" stroke-width="1.1"/>
<line x1="691.60" y1="523.70" x2="691.60" y2="534.90" stroke="#222" stroke-width="1.1"/>
<line x1="702.03" y1="523.70" x2="702.03" y2="534.90" stroke="#222" stroke-width="1.1"/>
<rect x="693.95" y="517.80" width="6.52" height="23.00" fill="#6cc9c0" stroke="#111" stroke-width="1.1"/>
<line x1="696.82" y1="517.80" x2="696.82" y2="540.80" stroke="#111" stroke-width="1.1"/>
<circle cx="691.60" cy="529.30" r="2.85" fill="#fff" stroke="#111" stroke-width="1.15"/>
<circle cx="694.73" cy="529.30" r="2.85" fill="#fff" stroke="#111" stroke-width="1.15"/>
<circle cx="696.82" cy="529.30" r="2.85" fill="#fff" stroke="#111" stroke-width="1.15"/>
<circle cx="698.64" cy="529.30" r="2.85" fill="#fff" stroke="#111" stroke-width="1.15"/>
<circle cx="701.25" cy="529.30" r="2.85" fill="#fff" stroke="#111" stroke-width="1.15"/>
<circle cx="702.03" cy="529.30" r="2.85" fill="#fff" stroke="#111" stroke-width="1.15"/>
<line x1="672.05" y1="567.50" x2="674.65" y2="567.50" stroke="#222" stroke-width="1.1"/>
<line x1="672.05" y1="561.63" x2="672.05" y2="572.83" stroke="#222" stroke-width="1.1"/>
<line x1="674.65" y1="561.63" x2="674.65" y2="572.83" stroke="#222" stroke-width="1.1"/>
<rect x="672.83" y="555.73" width="0.78" height="23.00" fill="#18519c" stroke="#111" stroke-width="1.1"/>
<line x1="673.22" y1="555.73" x2="673.22" y2="578.73" stroke="#111" stroke-width="1.1"/>
<circle cx="672.05" cy="567.23" r="2.85" fill="#fff" stroke="#111" stroke-width="1.15"/>
<circle cx="673.09" cy="567.23" r="2.85" fill="#fff" stroke="#111" stroke-width="1.15"/>
<circle cx="674.13" cy="567.23" r="2.85" fill="#fff" stroke="#111" stroke-width="1.15"/>
<circle cx="674.65" cy="567.23" r="2.85" fill="#fff" stroke="#111" stroke-width="1.15"/>
<line x1="674.39" y1="605.50" x2="679.61" y2="605.50" stroke="#222" stroke-width="1.1"/>
<line x1="674.39" y1="599.56" x2="674.39" y2="610.76" stroke="#222" stroke-width="1.1"/>
<line x1="679.61" y1="599.56" x2="679.61" y2="610.76" stroke="#222" stroke-width="1.1"/>
<rect x="674.39" y="593.66" width="2.61" height="23.00" fill="#5a2d96" stroke="#111" stroke-width="1.1"/>
<line x1="675.96" y1="593.66" x2="675.96" y2="616.66" stroke="#111" stroke-width="1.1"/>
<circle cx="674.39" cy="605.16" r="2.85" fill="#fff" stroke="#111" stroke-width="1.15"/>
<circle cx="675.44" cy="605.16" r="2.85" fill="#fff" stroke="#111" stroke-width="1.15"/>
<circle cx="676.48" cy="605.16" r="2.85" fill="#fff" stroke="#111" stroke-width="1.15"/>
<circle cx="679.61" cy="605.16" r="2.85" fill="#fff" stroke="#111" stroke-width="1.15"/>
<line x1="681.69" y1="643.50" x2="701.25" y2="643.50" stroke="#222" stroke-width="1.1"/>
<line x1="681.69" y1="637.49" x2="681.69" y2="648.69" stroke="#222" stroke-width="1.1"/>
<line x1="701.25" y1="637.49" x2="701.25" y2="648.69" stroke="#222" stroke-width="1.1"/>
<rect x="683.52" y="631.59" width="10.69" height="23.00" fill="#72c17c" stroke="#111" stroke-width="1.1"/>
<line x1="686.91" y1="631.59" x2="686.91" y2="654.59" stroke="#111" stroke-width="1.1"/>
<circle cx="681.69" cy="643.09" r="2.85" fill="#fff" stroke="#111" stroke-width="1.15"/>
<circle cx="683.78" cy="643.09" r="2.85" fill="#fff" stroke="#111" stroke-width="1.15"/>
<circle cx="686.39" cy="643.09" r="2.85" fill="#fff" stroke="#111" stroke-width="1.15"/>
<circle cx="693.95" cy="643.09" r="2.85" fill="#fff" stroke="#111" stroke-width="1.15"/>
<circle cx="701.25" cy="643.09" r="2.85" fill="#fff" stroke="#111" stroke-width="1.15"/>
<line x1="728.63" y1="681.50" x2="762.01" y2="681.50" stroke="#222" stroke-width="1.1"/>
<line x1="728.63" y1="675.42" x2="728.63" y2="686.62" stroke="#222" stroke-width="1.1"/>
<line x1="762.01" y1="675.42" x2="762.01" y2="686.62" stroke="#222" stroke-width="1.1"/>
<rect x="731.24" y="669.52" width="24.25" height="23.00" fill="#f8a80e" stroke="#111" stroke-width="1.1"/>
<line x1="746.88" y1="669.52" x2="746.88" y2="692.52" stroke="#111" stroke-width="1.1"/>
<circle cx="728.63" cy="681.02" r="2.85" fill="#fff" stroke="#111" stroke-width="1.15"/>
<circle cx="739.06" cy="681.02" r="2.85" fill="#fff" stroke="#111" stroke-width="1.15"/>
<circle cx="746.88" cy="681.02" r="2.85" fill="#fff" stroke="#111" stroke-width="1.15"/>
<circle cx="754.19" cy="681.02" r="2.85" fill="#fff" stroke="#111" stroke-width="1.15"/>
<circle cx="762.01" cy="681.02" r="2.85" fill="#fff" stroke="#111" stroke-width="1.15"/>
<line x1="678.57" y1="718.50" x2="718.20" y2="718.50" stroke="#222" stroke-width="1.1"/>
<line x1="678.57" y1="713.35" x2="678.57" y2="724.55" stroke="#222" stroke-width="1.1"/>
<line x1="718.20" y1="713.35" x2="718.20" y2="724.55" stroke="#222" stroke-width="1.1"/>
<rect x="695.51" y="707.45" width="12.78" height="23.00" fill="#f6742a" stroke="#111" stroke-width="1.1"/>
<line x1="701.25" y1="707.45" x2="701.25" y2="730.45" stroke="#111" stroke-width="1.1"/>
<circle cx="678.57" cy="718.95" r="2.85" fill="#fff" stroke="#111" stroke-width="1.15"/>
<circle cx="694.73" cy="718.95" r="2.85" fill="#fff" stroke="#111" stroke-width="1.15"/>
<circle cx="701.25" cy="718.95" r="2.85" fill="#fff" stroke="#111" stroke-width="1.15"/>
<circle cx="705.68" cy="718.95" r="2.85" fill="#fff" stroke="#111" stroke-width="1.15"/>
<circle cx="711.68" cy="718.95" r="2.85" fill="#fff" stroke="#111" stroke-width="1.15"/>
<circle cx="718.20" cy="718.95" r="2.85" fill="#fff" stroke="#111" stroke-width="1.15"/>
<line x1="730.46" y1="756.50" x2="901.25" y2="756.50" stroke="#222" stroke-width="1.1"/>
<line x1="730.46" y1="751.28" x2="730.46" y2="762.48" stroke="#222" stroke-width="1.1"/>
<line x1="901.25" y1="751.28" x2="901.25" y2="762.48" stroke="#222" stroke-width="1.1"/>
<rect x="776.35" y="745.38" width="98.83" height="23.00" fill="#a01c2a" stroke="#111" stroke-width="1.1"/>
<line x1="834.24" y1="745.38" x2="834.24" y2="768.38" stroke="#111" stroke-width="1.1"/>
<circle cx="730.46" cy="756.88" r="2.85" fill="#fff" stroke="#111" stroke-width="1.15"/>
<circle cx="773.48" cy="756.88" r="2.85" fill="#fff" stroke="#111" stroke-width="1.15"/>
<circle cx="777.39" cy="756.88" r="2.85" fill="#fff" stroke="#111" stroke-width="1.15"/>
<circle cx="818.59" cy="756.88" r="2.85" fill="#fff" stroke="#111" stroke-width="1.15"/>
<circle cx="836.06" cy="756.88" r="2.85" fill="#fff" stroke="#111" stroke-width="1.15"/>
<circle cx="851.97" cy="756.88" r="2.85" fill="#fff" stroke="#111" stroke-width="1.15"/>
<circle cx="898.64" cy="756.88" r="2.85" fill="#fff" stroke="#111" stroke-width="1.15"/>
<circle cx="901.25" cy="756.88" r="2.85" fill="#fff" stroke="#111" stroke-width="1.15"/>
<line x1="826.41" y1="794.50" x2="905.16" y2="794.50" stroke="#222" stroke-width="1.1"/>
<line x1="826.41" y1="789.21" x2="826.41" y2="800.41" stroke="#222" stroke-width="1.1"/>
<line x1="905.16" y1="789.21" x2="905.16" y2="800.41" stroke="#222" stroke-width="1.1"/>
<rect x="855.62" y="783.31" width="27.90" height="23.00" fill="#f83a1e" stroke="#111" stroke-width="1.1"/>
<line x1="875.44" y1="783.31" x2="875.44" y2="806.31" stroke="#111" stroke-width="1.1"/>
<circle cx="826.41" cy="794.81" r="2.85" fill="#fff" stroke="#111" stroke-width="1.15"/>
<circle cx="829.02" cy="794.81" r="2.85" fill="#fff" stroke="#111" stroke-width="1.15"/>
<circle cx="863.70" cy="794.81" r="2.85" fill="#fff" stroke="#111" stroke-width="1.15"/>
<circle cx="868.14" cy="794.81" r="2.85" fill="#fff" stroke="#111" stroke-width="1.15"/>
<circle cx="874.65" cy="794.81" r="2.85" fill="#fff" stroke="#111" stroke-width="1.15"/>
<circle cx="880.65" cy="794.81" r="2.85" fill="#fff" stroke="#111" stroke-width="1.15"/>
<circle cx="893.69" cy="794.81" r="2.85" fill="#fff" stroke="#111" stroke-width="1.15"/>
<circle cx="905.16" cy="794.81" r="2.85" fill="#fff" stroke="#111" stroke-width="1.15"/>
<text x="1050.00" y="485.50" font-size="49.5" font-weight="bold" fill="#222">f</text>
<rect x="1120.75" y="506.20" width="10.50" height="38.60" fill="#6cc9c0"/>
<rect x="1120.75" y="544.70" width="10.50" height="38.60" fill="#18519c"/>
<rect x="1120.75" y="583.20" width="10.50" height="38.60" fill="#5a2d96"/>
<rect x="1120.75" y="621.70" width="10.50" height="38.60" fill="#72c17c"/>
<rect x="1120.75" y="660.20" width="10.50" height="38.60" fill="#f8a80e"/>
<rect x="1120.75" y="698.70" width="10.50" height="38.60" fill="#f6742a"/>
<rect x="1120.75" y="737.20" width="10.50" height="38.60" fill="#a01c2a"/>
<rect x="1120.75" y="775.70" width="10.50" height="38.60" fill="#f83a1e"/>
<line x1="1135.50" y1="503.75" x2="1135.50" y2="819.55" stroke="#111" stroke-width="1.3"/>
<line x1="1134.85" y1="818.90" x2="1452.05" y2="818.90" stroke="#111" stroke-width="1.3"/>
<line x1="1135.50" y1="818.90" x2="1135.50" y2="824.40" stroke="#111" stroke-width="1.3"/>
<text x="1135.50" y="845.00" font-size="18.8" text-anchor="middle">0</text>
<line x1="1198.70" y1="818.90" x2="1198.70" y2="824.40" stroke="#111" stroke-width="1.3"/>
<text x="1198.70" y="845.00" font-size="18.8" text-anchor="middle">1</text>
<line x1="1261.90" y1="818.90" x2="1261.90" y2="824.40" stroke="#111" stroke-width="1.3"/>
<text x="1261.90" y="845.00" font-size="18.8" text-anchor="middle">2</text>
<line x1="1325.10" y1="818.90" x2="1325.10" y2="824.40" stroke="#111" stroke-width="1.3"/>
<text x="1325.10" y="845.00" font-size="18.8" text-anchor="middle">3</text>
<line x1="1388.30" y1="818.90" x2="1388.30" y2="824.40" stroke="#111" stroke-width="1.3"/>
<text x="1388.30" y="845.00" font-size="18.8" text-anchor="middle">4</text>
<line x1="1451.40" y1="818.90" x2="1451.40" y2="824.40" stroke="#111" stroke-width="1.3"/>
<text x="1451.40" y="845.00" font-size="18.8" text-anchor="middle">5</text>
<text x="1293.45" y="862.90" font-size="18.7" font-weight="bold" text-anchor="middle">Ratio of Ether-PE to Diacyl PE</text>
<line x1="1158.00" y1="529.50" x2="1165.00" y2="529.50" stroke="#222" stroke-width="1.1"/>
<line x1="1158.00" y1="523.70" x2="1158.00" y2="534.90" stroke="#222" stroke-width="1.1"/>
<line x1="1165.00" y1="523.70" x2="1165.00" y2="534.90" stroke="#222" stroke-width="1.1"/>
<rect x="1158.25" y="517.55" width="3.75" height="23.50" fill="#6cc9c0" stroke="#111" stroke-width="1.1"/>
<line x1="1160.00" y1="517.55" x2="1160.00" y2="541.05" stroke="#111" stroke-width="1.1"/>
<circle cx="1158.00" cy="529.30" r="2.85" fill="#fff" stroke="#111" stroke-width="1.15"/>
<circle cx="1159.00" cy="529.30" r="2.85" fill="#fff" stroke="#111" stroke-width="1.15"/>
<circle cx="1159.50" cy="529.30" r="2.85" fill="#fff" stroke="#111" stroke-width="1.15"/>
<circle cx="1162.50" cy="529.30" r="2.85" fill="#fff" stroke="#111" stroke-width="1.15"/>
<circle cx="1165.00" cy="529.30" r="2.85" fill="#fff" stroke="#111" stroke-width="1.15"/>
<line x1="1143.25" y1="567.50" x2="1160.50" y2="567.50" stroke="#222" stroke-width="1.1"/>
<line x1="1143.25" y1="561.63" x2="1143.25" y2="572.83" stroke="#222" stroke-width="1.1"/>
<line x1="1160.50" y1="561.63" x2="1160.50" y2="572.83" stroke="#222" stroke-width="1.1"/>
<rect x="1149.25" y="555.48" width="7.00" height="23.50" fill="#18519c" stroke="#111" stroke-width="1.1"/>
<line x1="1152.50" y1="555.48" x2="1152.50" y2="578.98" stroke="#111" stroke-width="1.1"/>
<circle cx="1143.25" cy="567.23" r="2.85" fill="#fff" stroke="#111" stroke-width="1.15"/>
<circle cx="1149.50" cy="567.23" r="2.85" fill="#fff" stroke="#111" stroke-width="1.15"/>
<circle cx="1153.75" cy="567.23" r="2.85" fill="#fff" stroke="#111" stroke-width="1.15"/>
<circle cx="1159.50" cy="567.23" r="2.85" fill="#fff" stroke="#111" stroke-width="1.15"/>
<circle cx="1160.50" cy="567.23" r="2.85" fill="#fff" stroke="#111" stroke-width="1.15"/>
<line x1="1153.00" y1="605.50" x2="1165.00" y2="605.50" stroke="#222" stroke-width="1.1"/>
<line x1="1153.00" y1="599.56" x2="1153.00" y2="610.76" stroke="#222" stroke-width="1.1"/>
<line x1="1165.00" y1="599.56" x2="1165.00" y2="610.76" stroke="#222" stroke-width="1.1"/>
<rect x="1155.50" y="593.41" width="3.25" height="23.50" fill="#5a2d96" stroke="#111" stroke-width="1.1"/>
<line x1="1157.00" y1="593.41" x2="1157.00" y2="616.91" stroke="#111" stroke-width="1.1"/>
<circle cx="1153.00" cy="605.16" r="2.85" fill="#fff" stroke="#111" stroke-width="1.15"/>
<circle cx="1155.50" cy="605.16" r="2.85" fill="#fff" stroke="#111" stroke-width="1.15"/>
<circle cx="1157.00" cy="605.16" r="2.85" fill="#fff" stroke="#111" stroke-width="1.15"/>
<circle cx="1158.75" cy="605.16" r="2.85" fill="#fff" stroke="#111" stroke-width="1.15"/>
<circle cx="1165.00" cy="605.16" r="2.85" fill="#fff" stroke="#111" stroke-width="1.15"/>
<line x1="1158.00" y1="643.50" x2="1170.50" y2="643.50" stroke="#222" stroke-width="1.1"/>
<line x1="1158.00" y1="637.49" x2="1158.00" y2="648.69" stroke="#222" stroke-width="1.1"/>
<line x1="1170.50" y1="637.49" x2="1170.50" y2="648.69" stroke="#222" stroke-width="1.1"/>
<rect x="1161.75" y="631.34" width="6.50" height="23.50" fill="#72c17c" stroke="#111" stroke-width="1.1"/>
<line x1="1164.50" y1="631.34" x2="1164.50" y2="654.84" stroke="#111" stroke-width="1.1"/>
<circle cx="1158.00" cy="643.09" r="2.85" fill="#fff" stroke="#111" stroke-width="1.15"/>
<circle cx="1162.50" cy="643.09" r="2.85" fill="#fff" stroke="#111" stroke-width="1.15"/>
<circle cx="1165.00" cy="643.09" r="2.85" fill="#fff" stroke="#111" stroke-width="1.15"/>
<circle cx="1168.75" cy="643.09" r="2.85" fill="#fff" stroke="#111" stroke-width="1.15"/>
<circle cx="1170.50" cy="643.09" r="2.85" fill="#fff" stroke="#111" stroke-width="1.15"/>
<line x1="1164.25" y1="681.50" x2="1178.75" y2="681.50" stroke="#222" stroke-width="1.1"/>
<line x1="1164.25" y1="675.42" x2="1164.25" y2="686.62" stroke="#222" stroke-width="1.1"/>
<line x1="1178.75" y1="675.42" x2="1178.75" y2="686.62" stroke="#222" stroke-width="1.1"/>
<rect x="1171.75" y="669.27" width="5.25" height="23.50" fill="#f8a80e" stroke="#111" stroke-width="1.1"/>
<line x1="1174.25" y1="669.27" x2="1174.25" y2="692.77" stroke="#111" stroke-width="1.1"/>
<circle cx="1164.25" cy="681.02" r="2.85" fill="#fff" stroke="#111" stroke-width="1.15"/>
<circle cx="1168.00" cy="681.02" r="2.85" fill="#fff" stroke="#111" stroke-width="1.15"/>
<circle cx="1173.00" cy="681.02" r="2.85" fill="#fff" stroke="#111" stroke-width="1.15"/>
<circle cx="1177.00" cy="681.02" r="2.85" fill="#fff" stroke="#111" stroke-width="1.15"/>
<circle cx="1178.75" cy="681.02" r="2.85" fill="#fff" stroke="#111" stroke-width="1.15"/>
<line x1="1171.25" y1="718.50" x2="1194.25" y2="718.50" stroke="#222" stroke-width="1.1"/>
<line x1="1171.25" y1="713.35" x2="1171.25" y2="724.55" stroke="#222" stroke-width="1.1"/>
<line x1="1194.25" y1="713.35" x2="1194.25" y2="724.55" stroke="#222" stroke-width="1.1"/>
<rect x="1178.75" y="707.20" width="8.75" height="23.50" fill="#f6742a" stroke="#111" stroke-width="1.1"/>
<line x1="1182.50" y1="707.20" x2="1182.50" y2="730.70" stroke="#111" stroke-width="1.1"/>
<circle cx="1171.25" cy="718.95" r="2.85" fill="#fff" stroke="#111" stroke-width="1.15"/>
<circle cx="1177.50" cy="718.95" r="2.85" fill="#fff" stroke="#111" stroke-width="1.15"/>
<circle cx="1183.25" cy="718.95" r="2.85" fill="#fff" stroke="#111" stroke-width="1.15"/>
<circle cx="1190.00" cy="718.95" r="2.85" fill="#fff" stroke="#111" stroke-width="1.15"/>
<circle cx="1194.25" cy="718.95" r="2.85" fill="#fff" stroke="#111" stroke-width="1.15"/>
<line x1="1200.50" y1="756.50" x2="1243.75" y2="756.50" stroke="#222" stroke-width="1.1"/>
<line x1="1200.50" y1="751.28" x2="1200.50" y2="762.48" stroke="#222" stroke-width="1.1"/>
<line x1="1243.75" y1="751.28" x2="1243.75" y2="762.48" stroke="#222" stroke-width="1.1"/>
<rect x="1211.25" y="745.13" width="30.75" height="23.50" fill="#a01c2a" stroke="#111" stroke-width="1.1"/>
<line x1="1220.50" y1="745.13" x2="1220.50" y2="768.63" stroke="#111" stroke-width="1.1"/>
<circle cx="1200.50" cy="756.88" r="2.85" fill="#fff" stroke="#111" stroke-width="1.15"/>
<circle cx="1209.25" cy="756.88" r="2.85" fill="#fff" stroke="#111" stroke-width="1.15"/>
<circle cx="1211.75" cy="756.88" r="2.85" fill="#fff" stroke="#111" stroke-width="1.15"/>
<circle cx="1219.50" cy="756.88" r="2.85" fill="#fff" stroke="#111" stroke-width="1.15"/>
<circle cx="1231.75" cy="756.88" r="2.85" fill="#fff" stroke="#111" stroke-width="1.15"/>
<circle cx="1242.50" cy="756.88" r="2.85" fill="#fff" stroke="#111" stroke-width="1.15"/>
<circle cx="1243.75" cy="756.88" r="2.85" fill="#fff" stroke="#111" stroke-width="1.15"/>
<line x1="1280.50" y1="794.50" x2="1426.25" y2="794.50" stroke="#222" stroke-width="1.1"/>
<line x1="1280.50" y1="789.21" x2="1280.50" y2="800.41" stroke="#222" stroke-width="1.1"/>
<line x1="1426.25" y1="789.21" x2="1426.25" y2="800.41" stroke="#222" stroke-width="1.1"/>
<rect x="1325.00" y="783.06" width="86.25" height="23.50" fill="#f83a1e" stroke="#111" stroke-width="1.1"/>
<line x1="1394.25" y1="783.06" x2="1394.25" y2="806.56" stroke="#111" stroke-width="1.1"/>
<circle cx="1280.50" cy="794.81" r="2.85" fill="#fff" stroke="#111" stroke-width="1.15"/>
<circle cx="1296.25" cy="794.81" r="2.85" fill="#fff" stroke="#111" stroke-width="1.15"/>
<circle cx="1334.25" cy="794.81" r="2.85" fill="#fff" stroke="#111" stroke-width="1.15"/>
<circle cx="1380.00" cy="794.81" r="2.85" fill="#fff" stroke="#111" stroke-width="1.15"/>
<circle cx="1392.00" cy="794.81" r="2.85" fill="#fff" stroke="#111" stroke-width="1.15"/>
<circle cx="1396.75" cy="794.81" r="2.85" fill="#fff" stroke="#111" stroke-width="1.15"/>
<circle cx="1408.75" cy="794.81" r="2.85" fill="#fff" stroke="#111" stroke-width="1.15"/>
<circle cx="1420.00" cy="794.81" r="2.85" fill="#fff" stroke="#111" stroke-width="1.15"/>
<circle cx="1426.25" cy="794.81" r="2.85" fill="#fff" stroke="#111" stroke-width="1.15"/>
<text x="17.90" y="945.60" font-size="49.5" font-weight="bold" fill="#222">g</text>
<rect x="209.80" y="954.25" width="10.50" height="19.46" fill="#5b9c97"/>
<rect x="209.80" y="973.61" width="10.50" height="19.46" fill="#6fd0c6"/>
<rect x="209.80" y="992.96" width="10.50" height="19.46" fill="#1f3a72"/>
<rect x="209.80" y="1012.32" width="10.50" height="19.46" fill="#1466d2"/>
<rect x="209.80" y="1031.67" width="10.50" height="19.46" fill="#78a4e0"/>
<rect x="209.80" y="1051.03" width="10.50" height="19.46" fill="#5a2c9a"/>
<rect x="209.80" y="1070.39" width="10.50" height="19.46" fill="#6c50ac"/>
<rect x="209.80" y="1089.74" width="10.50" height="19.46" fill="#7f7cc4"/>
<rect x="209.80" y="1109.10" width="10.50" height="19.46" fill="#0d6b3a"/>
<rect x="209.80" y="1128.46" width="10.50" height="19.46" fill="#6fc07e"/>
<rect x="209.80" y="1147.81" width="10.50" height="19.46" fill="#dc5428"/>
<rect x="209.80" y="1167.17" width="10.50" height="19.46" fill="#f58a48"/>
<rect x="209.80" y="1186.53" width="10.50" height="19.46" fill="#ef6e2c"/>
<rect x="209.80" y="1205.88" width="10.50" height="19.46" fill="#e5b42e"/>
<rect x="209.80" y="1225.24" width="10.50" height="19.46" fill="#a51d2a"/>
<rect x="209.80" y="1244.59" width="10.50" height="19.46" fill="#f0432e"/>
<line x1="224.50" y1="951.00" x2="224.50" y2="1266.65" stroke="#111" stroke-width="1.3"/>
<line x1="223.85" y1="1266.00" x2="540.85" y2="1266.00" stroke="#111" stroke-width="1.3"/>
<line x1="224.50" y1="1266.00" x2="224.50" y2="1271.50" stroke="#111" stroke-width="1.3"/>
<text x="224.50" y="1292.30" font-size="18.8" text-anchor="middle">0</text>
<line x1="303.40" y1="1266.00" x2="303.40" y2="1271.50" stroke="#111" stroke-width="1.3"/>
<text x="303.40" y="1292.30" font-size="18.8" text-anchor="middle">5</text>
<line x1="382.30" y1="1266.00" x2="382.30" y2="1271.50" stroke="#111" stroke-width="1.3"/>
<text x="382.30" y="1292.30" font-size="18.8" text-anchor="middle">10</text>
<line x1="461.30" y1="1266.00" x2="461.30" y2="1271.50" stroke="#111" stroke-width="1.3"/>
<text x="461.30" y="1292.30" font-size="18.8" text-anchor="middle">15</text>
<line x1="540.20" y1="1266.00" x2="540.20" y2="1271.50" stroke="#111" stroke-width="1.3"/>
<text x="540.20" y="1292.30" font-size="18.8" text-anchor="middle">20</text>
<text x="382.35" y="1314.50" font-size="18.7" font-weight="bold" text-anchor="middle">Proportion of 20:4 within diacyl PC (%)</text>
<text x="199.50" y="970.60" font-size="16.40" text-anchor="end"><tspan>Naive B cells</tspan></text>
<text x="199.50" y="989.85" font-size="16.40" text-anchor="end"><tspan>Memory B cells</tspan></text>
<text x="199.50" y="1006.30" font-size="16.40" text-anchor="end"><tspan>CD4 T</tspan><tspan font-size="12.14" dy="5.41">Naive</tspan></text>
<text x="199.50" y="1025.55" font-size="16.40" text-anchor="end"><tspan>CD4 T</tspan><tspan font-size="12.14" dy="5.41">CM</tspan></text>
<text x="199.50" y="1044.80" font-size="16.40" text-anchor="end"><tspan>CD4 T</tspan><tspan font-size="12.14" dy="5.41">EM</tspan></text>
<text x="199.50" y="1064.05" font-size="16.40" text-anchor="end"><tspan>CD8 T</tspan><tspan font-size="12.14" dy="5.41">Naive</tspan></text>
<text x="199.50" y="1083.30" font-size="16.40" text-anchor="end"><tspan>CD8 T</tspan><tspan font-size="12.14" dy="5.41">CM</tspan></text>
<text x="199.50" y="1102.55" font-size="16.40" text-anchor="end"><tspan>CD8 T</tspan><tspan font-size="12.14" dy="5.41">EM</tspan></text>
<text x="199.50" y="1124.60" font-size="16.40" text-anchor="end"><tspan>CD56</tspan><tspan font-size="12.14" dy="-4.92">dim</tspan><tspan dy="4.92"> NK cells</tspan></text>
<text x="199.50" y="1143.85" font-size="16.40" text-anchor="end"><tspan>CD56</tspan><tspan font-size="12.14" dy="-4.92">bright</tspan><tspan dy="4.92"> NK cells</tspan></text>
<text x="199.50" y="1163.10" font-size="16.40" text-anchor="end"><tspan>Classical Monocytes</tspan></text>
<text x="199.50" y="1182.35" font-size="16.40" text-anchor="end"><tspan>Intermediate Monocytes</tspan></text>
<text x="199.50" y="1201.60" font-size="16.40" text-anchor="end"><tspan>Non-Classical Monocytes</tspan></text>
<text x="199.50" y="1220.85" font-size="16.40" text-anchor="end"><tspan>Basophils</tspan></text>
<text x="199.50" y="1240.10" font-size="16.40" text-anchor="end"><tspan>Eosinophils</tspan></text>
<text x="199.50" y="1259.35" font-size="16.40" text-anchor="end"><tspan>Neutrophils</tspan></text>
<line x1="359.82" y1="964.50" x2="456.86" y2="964.50" stroke="#222" stroke-width="1.1"/>
<rect x="384.37" y="959.10" width="46.01" height="11.40" fill="#4f8e88" stroke="#111" stroke-width="1.1"/>
<line x1="413.56" y1="959.10" x2="413.56" y2="970.50" stroke="#111" stroke-width="1.1"/>
<circle cx="359.82" cy="964.80" r="2.85" fill="#fff" stroke="#111" stroke-width="1.15"/>
<circle cx="364.26" cy="964.80" r="2.85" fill="#fff" stroke="#111" stroke-width="1.15"/>
<circle cx="372.96" cy="964.80" r="2.85" fill="#fff" stroke="#111" stroke-width="1.15"/>
<circle cx="388.43" cy="964.80" r="2.85" fill="#fff" stroke="#111" stroke-width="1.15"/>
<circle cx="408.14" cy="964.80" r="2.85" fill="#fff" stroke="#111" stroke-width="1.15"/>
<circle cx="411.04" cy="964.80" r="2.85" fill="#fff" stroke="#111" stroke-width="1.15"/>
<circle cx="417.81" cy="964.80" r="2.85" fill="#fff" stroke="#111" stroke-width="1.15"/>
<circle cx="426.12" cy="964.80" r="2.85" fill="#fff" stroke="#111" stroke-width="1.15"/>
<circle cx="440.04" cy="964.80" r="2.85" fill="#fff" stroke="#111" stroke-width="1.15"/>
<circle cx="443.91" cy="964.80" r="2.85" fill="#fff" stroke="#111" stroke-width="1.15"/>
<circle cx="456.86" cy="964.80" r="2.85" fill="#fff" stroke="#111" stroke-width="1.15"/>
<line x1="368.13" y1="984.50" x2="481.60" y2="984.50" stroke="#222" stroke-width="1.1"/>
<rect x="387.07" y="978.35" width="63.60" height="11.40" fill="#6fd0c6" stroke="#111" stroke-width="1.1"/>
<line x1="436.75" y1="978.35" x2="436.75" y2="989.75" stroke="#111" stroke-width="1.1"/>
<circle cx="368.13" cy="984.05" r="2.85" fill="#fff" stroke="#111" stroke-width="1.15"/>
<circle cx="371.99" cy="984.05" r="2.85" fill="#fff" stroke="#111" stroke-width="1.15"/>
<circle cx="376.25" cy="984.05" r="2.85" fill="#fff" stroke="#111" stroke-width="1.15"/>
<circle cx="397.13" cy="984.05" r="2.85" fill="#fff" stroke="#111" stroke-width="1.15"/>
<circle cx="434.24" cy="984.05" r="2.85" fill="#fff" stroke="#111" stroke-width="1.15"/>
<circle cx="439.07" cy="984.05" r="2.85" fill="#fff" stroke="#111" stroke-width="1.15"/>
<circle cx="442.94" cy="984.05" r="2.85" fill="#fff" stroke="#111" stroke-width="1.15"/>
<circle cx="447.39" cy="984.05" r="2.85" fill="#fff" stroke="#111" stroke-width="1.15"/>
<circle cx="454.15" cy="984.05" r="2.85" fill="#fff" stroke="#111" stroke-width="1.15"/>
<circle cx="472.52" cy="984.05" r="2.85" fill="#fff" stroke="#111" stroke-width="1.15"/>
<circle cx="481.60" cy="984.05" r="2.85" fill="#fff" stroke="#111" stroke-width="1.15"/>
<line x1="312.46" y1="1003.50" x2="423.61" y2="1003.50" stroke="#222" stroke-width="1.1"/>
<rect x="351.31" y="997.60" width="55.29" height="11.40" fill="#1f3a72" stroke="#111" stroke-width="1.1"/>
<line x1="400.41" y1="997.60" x2="400.41" y2="1009.00" stroke="#111" stroke-width="1.1"/>
<circle cx="312.46" cy="1003.30" r="2.85" fill="#fff" stroke="#111" stroke-width="1.15"/>
<circle cx="343.00" cy="1003.30" r="2.85" fill="#fff" stroke="#111" stroke-width="1.15"/>
<circle cx="348.80" cy="1003.30" r="2.85" fill="#fff" stroke="#111" stroke-width="1.15"/>
<circle cx="352.08" cy="1003.30" r="2.85" fill="#fff" stroke="#111" stroke-width="1.15"/>
<circle cx="362.72" cy="1003.30" r="2.85" fill="#fff" stroke="#111" stroke-width="1.15"/>
<circle cx="393.26" cy="1003.30" r="2.85" fill="#fff" stroke="#111" stroke-width="1.15"/>
<circle cx="398.48" cy="1003.30" r="2.85" fill="#fff" stroke="#111" stroke-width="1.15"/>
<circle cx="402.34" cy="1003.30" r="2.85" fill="#fff" stroke="#111" stroke-width="1.15"/>
<circle cx="412.59" cy="1003.30" r="2.85" fill="#fff" stroke="#111" stroke-width="1.15"/>
<circle cx="414.52" cy="1003.30" r="2.85" fill="#fff" stroke="#111" stroke-width="1.15"/>
<circle cx="423.61" cy="1003.30" r="2.85" fill="#fff" stroke="#111" stroke-width="1.15"/>
<line x1="346.48" y1="1022.50" x2="446.23" y2="1022.50" stroke="#222" stroke-width="1.1"/>
<rect x="365.62" y="1016.85" width="57.99" height="11.40" fill="#1466d2" stroke="#111" stroke-width="1.1"/>
<line x1="403.31" y1="1016.85" x2="403.31" y2="1028.25" stroke="#111" stroke-width="1.1"/>
<circle cx="346.48" cy="1022.55" r="2.85" fill="#fff" stroke="#111" stroke-width="1.15"/>
<circle cx="364.07" cy="1022.55" r="2.85" fill="#fff" stroke="#111" stroke-width="1.15"/>
<circle cx="371.61" cy="1022.55" r="2.85" fill="#fff" stroke="#111" stroke-width="1.15"/>
<circle cx="380.89" cy="1022.55" r="2.85" fill="#fff" stroke="#111" stroke-width="1.15"/>
<circle cx="398.09" cy="1022.55" r="2.85" fill="#fff" stroke="#111" stroke-width="1.15"/>
<circle cx="407.76" cy="1022.55" r="2.85" fill="#fff" stroke="#111" stroke-width="1.15"/>
<circle cx="412.98" cy="1022.55" r="2.85" fill="#fff" stroke="#111" stroke-width="1.15"/>
<circle cx="422.64" cy="1022.55" r="2.85" fill="#fff" stroke="#111" stroke-width="1.15"/>
<circle cx="426.12" cy="1022.55" r="2.85" fill="#fff" stroke="#111" stroke-width="1.15"/>
<circle cx="441.01" cy="1022.55" r="2.85" fill="#fff" stroke="#111" stroke-width="1.15"/>
<circle cx="446.23" cy="1022.55" r="2.85" fill="#fff" stroke="#111" stroke-width="1.15"/>
<line x1="377.41" y1="1041.50" x2="455.89" y2="1041.50" stroke="#222" stroke-width="1.1"/>
<rect x="393.07" y="1036.10" width="46.59" height="11.40" fill="#78a4e0" stroke="#111" stroke-width="1.1"/>
<line x1="415.49" y1="1036.10" x2="415.49" y2="1047.50" stroke="#111" stroke-width="1.1"/>
<circle cx="377.41" cy="1041.80" r="2.85" fill="#fff" stroke="#111" stroke-width="1.15"/>
<circle cx="388.81" cy="1041.80" r="2.85" fill="#fff" stroke="#111" stroke-width="1.15"/>
<circle cx="390.75" cy="1041.80" r="2.85" fill="#fff" stroke="#111" stroke-width="1.15"/>
<circle cx="395.00" cy="1041.80" r="2.85" fill="#fff" stroke="#111" stroke-width="1.15"/>
<circle cx="405.82" cy="1041.80" r="2.85" fill="#fff" stroke="#111" stroke-width="1.15"/>
<circle cx="415.49" cy="1041.80" r="2.85" fill="#fff" stroke="#111" stroke-width="1.15"/>
<circle cx="427.09" cy="1041.80" r="2.85" fill="#fff" stroke="#111" stroke-width="1.15"/>
<circle cx="431.92" cy="1041.80" r="2.85" fill="#fff" stroke="#111" stroke-width="1.15"/>
<circle cx="434.82" cy="1041.80" r="2.85" fill="#fff" stroke="#111" stroke-width="1.15"/>
<circle cx="443.91" cy="1041.80" r="2.85" fill="#fff" stroke="#111" stroke-width="1.15"/>
<circle cx="450.67" cy="1041.80" r="2.85" fill="#fff" stroke="#111" stroke-width="1.15"/>
<circle cx="455.89" cy="1041.80" r="2.85" fill="#fff" stroke="#111" stroke-width="1.15"/>
<line x1="334.30" y1="1061.50" x2="449.71" y2="1061.50" stroke="#222" stroke-width="1.1"/>
<rect x="365.81" y="1055.35" width="54.90" height="11.40" fill="#5a2c9a" stroke="#111" stroke-width="1.1"/>
<line x1="391.71" y1="1055.35" x2="391.71" y2="1066.75" stroke="#111" stroke-width="1.1"/>
<circle cx="334.30" cy="1061.05" r="2.85" fill="#fff" stroke="#111" stroke-width="1.15"/>
<circle cx="359.43" cy="1061.05" r="2.85" fill="#fff" stroke="#111" stroke-width="1.15"/>
<circle cx="366.58" cy="1061.05" r="2.85" fill="#fff" stroke="#111" stroke-width="1.15"/>
<circle cx="384.95" cy="1061.05" r="2.85" fill="#fff" stroke="#111" stroke-width="1.15"/>
<circle cx="388.81" cy="1061.05" r="2.85" fill="#fff" stroke="#111" stroke-width="1.15"/>
<circle cx="392.68" cy="1061.05" r="2.85" fill="#fff" stroke="#111" stroke-width="1.15"/>
<circle cx="404.86" cy="1061.05" r="2.85" fill="#fff" stroke="#111" stroke-width="1.15"/>
<circle cx="408.72" cy="1061.05" r="2.85" fill="#fff" stroke="#111" stroke-width="1.15"/>
<circle cx="415.49" cy="1061.05" r="2.85" fill="#fff" stroke="#111" stroke-width="1.15"/>
<circle cx="435.59" cy="1061.05" r="2.85" fill="#fff" stroke="#111" stroke-width="1.15"/>
<circle cx="447.77" cy="1061.05" r="2.85" fill="#fff" stroke="#111" stroke-width="1.15"/>
<circle cx="449.71" cy="1061.05" r="2.85" fill="#fff" stroke="#111" stroke-width="1.15"/>
<line x1="352.66" y1="1080.50" x2="448.74" y2="1080.50" stroke="#222" stroke-width="1.1"/>
<rect x="382.43" y="1074.60" width="58.96" height="11.40" fill="#6c50ac" stroke="#111" stroke-width="1.1"/>
<line x1="414.33" y1="1074.60" x2="414.33" y2="1086.00" stroke="#111" stroke-width="1.1"/>
<circle cx="352.66" cy="1080.30" r="2.85" fill="#fff" stroke="#111" stroke-width="1.15"/>
<circle cx="371.42" cy="1080.30" r="2.85" fill="#fff" stroke="#111" stroke-width="1.15"/>
<circle cx="375.28" cy="1080.30" r="2.85" fill="#fff" stroke="#111" stroke-width="1.15"/>
<circle cx="403.89" cy="1080.30" r="2.85" fill="#fff" stroke="#111" stroke-width="1.15"/>
<circle cx="411.04" cy="1080.30" r="2.85" fill="#fff" stroke="#111" stroke-width="1.15"/>
<circle cx="412.59" cy="1080.30" r="2.85" fill="#fff" stroke="#111" stroke-width="1.15"/>
<circle cx="417.23" cy="1080.30" r="2.85" fill="#fff" stroke="#111" stroke-width="1.15"/>
<circle cx="427.48" cy="1080.30" r="2.85" fill="#fff" stroke="#111" stroke-width="1.15"/>
<circle cx="435.21" cy="1080.30" r="2.85" fill="#fff" stroke="#111" stroke-width="1.15"/>
<circle cx="444.87" cy="1080.30" r="2.85" fill="#fff" stroke="#111" stroke-width="1.15"/>
<circle cx="448.74" cy="1080.30" r="2.85" fill="#fff" stroke="#111" stroke-width="1.15"/>
<line x1="358.27" y1="1099.50" x2="465.17" y2="1099.50" stroke="#222" stroke-width="1.1"/>
<rect x="393.07" y="1093.85" width="51.42" height="11.40" fill="#7f7cc4" stroke="#111" stroke-width="1.1"/>
<line x1="425.93" y1="1093.85" x2="425.93" y2="1105.25" stroke="#111" stroke-width="1.1"/>
<circle cx="358.27" cy="1099.55" r="2.85" fill="#fff" stroke="#111" stroke-width="1.15"/>
<circle cx="375.86" cy="1099.55" r="2.85" fill="#fff" stroke="#111" stroke-width="1.15"/>
<circle cx="391.71" cy="1099.55" r="2.85" fill="#fff" stroke="#111" stroke-width="1.15"/>
<circle cx="393.26" cy="1099.55" r="2.85" fill="#fff" stroke="#111" stroke-width="1.15"/>
<circle cx="406.79" cy="1099.55" r="2.85" fill="#fff" stroke="#111" stroke-width="1.15"/>
<circle cx="421.29" cy="1099.55" r="2.85" fill="#fff" stroke="#111" stroke-width="1.15"/>
<circle cx="425.16" cy="1099.55" r="2.85" fill="#fff" stroke="#111" stroke-width="1.15"/>
<circle cx="436.17" cy="1099.55" r="2.85" fill="#fff" stroke="#111" stroke-width="1.15"/>
<circle cx="452.22" cy="1099.55" r="2.85" fill="#fff" stroke="#111" stroke-width="1.15"/>
<circle cx="459.95" cy="1099.55" r="2.85" fill="#fff" stroke="#111" stroke-width="1.15"/>
<circle cx="465.17" cy="1099.55" r="2.85" fill="#fff" stroke="#111" stroke-width="1.15"/>
<line x1="356.53" y1="1118.50" x2="447.39" y2="1118.50" stroke="#222" stroke-width="1.1"/>
<rect x="366.20" y="1113.10" width="59.35" height="11.40" fill="#0d6b3a" stroke="#111" stroke-width="1.1"/>
<line x1="393.65" y1="1113.10" x2="393.65" y2="1124.50" stroke="#111" stroke-width="1.1"/>
<circle cx="356.53" cy="1118.80" r="2.85" fill="#fff" stroke="#111" stroke-width="1.15"/>
<circle cx="358.85" cy="1118.80" r="2.85" fill="#fff" stroke="#111" stroke-width="1.15"/>
<circle cx="362.14" cy="1118.80" r="2.85" fill="#fff" stroke="#111" stroke-width="1.15"/>
<circle cx="378.18" cy="1118.80" r="2.85" fill="#fff" stroke="#111" stroke-width="1.15"/>
<circle cx="386.49" cy="1118.80" r="2.85" fill="#fff" stroke="#111" stroke-width="1.15"/>
<circle cx="400.99" cy="1118.80" r="2.85" fill="#fff" stroke="#111" stroke-width="1.15"/>
<circle cx="411.04" cy="1118.80" r="2.85" fill="#fff" stroke="#111" stroke-width="1.15"/>
<circle cx="423.61" cy="1118.80" r="2.85" fill="#fff" stroke="#111" stroke-width="1.15"/>
<circle cx="427.48" cy="1118.80" r="2.85" fill="#fff" stroke="#111" stroke-width="1.15"/>
<circle cx="438.49" cy="1118.80" r="2.85" fill="#fff" stroke="#111" stroke-width="1.15"/>
<circle cx="447.39" cy="1118.80" r="2.85" fill="#fff" stroke="#111" stroke-width="1.15"/>
<line x1="324.05" y1="1138.50" x2="415.49" y2="1138.50" stroke="#222" stroke-width="1.1"/>
<rect x="347.25" y="1132.35" width="55.09" height="11.40" fill="#6fc07e" stroke="#111" stroke-width="1.1"/>
<line x1="388.43" y1="1132.35" x2="388.43" y2="1143.75" stroke="#111" stroke-width="1.1"/>
<circle cx="324.05" cy="1138.05" r="2.85" fill="#fff" stroke="#111" stroke-width="1.15"/>
<circle cx="334.11" cy="1138.05" r="2.85" fill="#fff" stroke="#111" stroke-width="1.15"/>
<circle cx="342.80" cy="1138.05" r="2.85" fill="#fff" stroke="#111" stroke-width="1.15"/>
<circle cx="358.85" cy="1138.05" r="2.85" fill="#fff" stroke="#111" stroke-width="1.15"/>
<circle cx="380.50" cy="1138.05" r="2.85" fill="#fff" stroke="#111" stroke-width="1.15"/>
<circle cx="383.01" cy="1138.05" r="2.85" fill="#fff" stroke="#111" stroke-width="1.15"/>
<circle cx="394.61" cy="1138.05" r="2.85" fill="#fff" stroke="#111" stroke-width="1.15"/>
<circle cx="402.34" cy="1138.05" r="2.85" fill="#fff" stroke="#111" stroke-width="1.15"/>
<circle cx="406.21" cy="1138.05" r="2.85" fill="#fff" stroke="#111" stroke-width="1.15"/>
<circle cx="415.49" cy="1138.05" r="2.85" fill="#fff" stroke="#111" stroke-width="1.15"/>
<line x1="333.72" y1="1157.50" x2="425.54" y2="1157.50" stroke="#222" stroke-width="1.1"/>
<rect x="343.00" y="1151.60" width="44.46" height="11.40" fill="#dc5428" stroke="#111" stroke-width="1.1"/>
<line x1="372.38" y1="1151.60" x2="372.38" y2="1163.00" stroke="#111" stroke-width="1.1"/>
<circle cx="333.72" cy="1157.30" r="2.85" fill="#fff" stroke="#111" stroke-width="1.15"/>
<circle cx="335.27" cy="1157.30" r="2.85" fill="#fff" stroke="#111" stroke-width="1.15"/>
<circle cx="342.42" cy="1157.30" r="2.85" fill="#fff" stroke="#111" stroke-width="1.15"/>
<circle cx="363.68" cy="1157.30" r="2.85" fill="#fff" stroke="#111" stroke-width="1.15"/>
<circle cx="369.48" cy="1157.30" r="2.85" fill="#fff" stroke="#111" stroke-width="1.15"/>
<circle cx="374.31" cy="1157.30" r="2.85" fill="#fff" stroke="#111" stroke-width="1.15"/>
<circle cx="383.01" cy="1157.30" r="2.85" fill="#fff" stroke="#111" stroke-width="1.15"/>
<circle cx="401.38" cy="1157.30" r="2.85" fill="#fff" stroke="#111" stroke-width="1.15"/>
<circle cx="402.34" cy="1157.30" r="2.85" fill="#fff" stroke="#111" stroke-width="1.15"/>
<circle cx="425.54" cy="1157.30" r="2.85" fill="#fff" stroke="#111" stroke-width="1.15"/>
<line x1="329.85" y1="1176.50" x2="418.39" y2="1176.50" stroke="#222" stroke-width="1.1"/>
<rect x="349.18" y="1170.85" width="31.32" height="11.40" fill="#f58a48" stroke="#111" stroke-width="1.1"/>
<line x1="369.48" y1="1170.85" x2="369.48" y2="1182.25" stroke="#111" stroke-width="1.1"/>
<circle cx="329.85" cy="1176.55" r="2.85" fill="#fff" stroke="#111" stroke-width="1.15"/>
<circle cx="334.69" cy="1176.55" r="2.85" fill="#fff" stroke="#111" stroke-width="1.15"/>
<circle cx="354.02" cy="1176.55" r="2.85" fill="#fff" stroke="#111" stroke-width="1.15"/>
<circle cx="360.78" cy="1176.55" r="2.85" fill="#fff" stroke="#111" stroke-width="1.15"/>
<circle cx="367.55" cy="1176.55" r="2.85" fill="#fff" stroke="#111" stroke-width="1.15"/>
<circle cx="370.84" cy="1176.55" r="2.85" fill="#fff" stroke="#111" stroke-width="1.15"/>
<circle cx="377.21" cy="1176.55" r="2.85" fill="#fff" stroke="#111" stroke-width="1.15"/>
<circle cx="384.95" cy="1176.55" r="2.85" fill="#fff" stroke="#111" stroke-width="1.15"/>
<circle cx="398.09" cy="1176.55" r="2.85" fill="#fff" stroke="#111" stroke-width="1.15"/>
<circle cx="418.39" cy="1176.55" r="2.85" fill="#fff" stroke="#111" stroke-width="1.15"/>
<line x1="325.99" y1="1195.50" x2="388.81" y2="1195.50" stroke="#222" stroke-width="1.1"/>
<rect x="342.42" y="1190.10" width="28.61" height="11.40" fill="#ef6e2c" stroke="#111" stroke-width="1.1"/>
<line x1="360.40" y1="1190.10" x2="360.40" y2="1201.50" stroke="#111" stroke-width="1.1"/>
<circle cx="325.99" cy="1195.80" r="2.85" fill="#fff" stroke="#111" stroke-width="1.15"/>
<circle cx="331.79" cy="1195.80" r="2.85" fill="#fff" stroke="#111" stroke-width="1.15"/>
<circle cx="332.75" cy="1195.80" r="2.85" fill="#fff" stroke="#111" stroke-width="1.15"/>
<circle cx="352.08" cy="1195.80" r="2.85" fill="#fff" stroke="#111" stroke-width="1.15"/>
<circle cx="356.92" cy="1195.80" r="2.85" fill="#fff" stroke="#111" stroke-width="1.15"/>
<circle cx="360.40" cy="1195.80" r="2.85" fill="#fff" stroke="#111" stroke-width="1.15"/>
<circle cx="369.48" cy="1195.80" r="2.85" fill="#fff" stroke="#111" stroke-width="1.15"/>
<circle cx="373.35" cy="1195.80" r="2.85" fill="#fff" stroke="#111" stroke-width="1.15"/>
<circle cx="384.95" cy="1195.80" r="2.85" fill="#fff" stroke="#111" stroke-width="1.15"/>
<circle cx="388.81" cy="1195.80" r="2.85" fill="#fff" stroke="#111" stroke-width="1.15"/>
<line x1="288.29" y1="1215.50" x2="329.85" y2="1215.50" stroke="#222" stroke-width="1.1"/>
<rect x="304.34" y="1209.35" width="20.30" height="11.40" fill="#e5b42e" stroke="#111" stroke-width="1.1"/>
<line x1="308.59" y1="1209.35" x2="308.59" y2="1220.75" stroke="#111" stroke-width="1.1"/>
<circle cx="288.29" cy="1215.05" r="2.85" fill="#fff" stroke="#111" stroke-width="1.15"/>
<circle cx="296.99" cy="1215.05" r="2.85" fill="#fff" stroke="#111" stroke-width="1.15"/>
<circle cx="300.86" cy="1215.05" r="2.85" fill="#fff" stroke="#111" stroke-width="1.15"/>
<circle cx="305.69" cy="1215.05" r="2.85" fill="#fff" stroke="#111" stroke-width="1.15"/>
<circle cx="312.07" cy="1215.05" r="2.85" fill="#fff" stroke="#111" stroke-width="1.15"/>
<circle cx="317.29" cy="1215.05" r="2.85" fill="#fff" stroke="#111" stroke-width="1.15"/>
<circle cx="325.99" cy="1215.05" r="2.85" fill="#fff" stroke="#111" stroke-width="1.15"/>
<circle cx="329.85" cy="1215.05" r="2.85" fill="#fff" stroke="#111" stroke-width="1.15"/>
<line x1="243.25" y1="1234.50" x2="296.41" y2="1234.50" stroke="#222" stroke-width="1.1"/>
<rect x="250.21" y="1228.60" width="14.50" height="11.40" fill="#a51d2a" stroke="#111" stroke-width="1.1"/>
<line x1="256.39" y1="1228.60" x2="256.39" y2="1240.00" stroke="#111" stroke-width="1.1"/>
<circle cx="243.25" cy="1234.30" r="2.85" fill="#fff" stroke="#111" stroke-width="1.15"/>
<circle cx="244.80" cy="1234.30" r="2.85" fill="#fff" stroke="#111" stroke-width="1.15"/>
<circle cx="251.18" cy="1234.30" r="2.85" fill="#fff" stroke="#111" stroke-width="1.15"/>
<circle cx="254.46" cy="1234.30" r="2.85" fill="#fff" stroke="#111" stroke-width="1.15"/>
<circle cx="258.33" cy="1234.30" r="2.85" fill="#fff" stroke="#111" stroke-width="1.15"/>
<circle cx="269.54" cy="1234.30" r="2.85" fill="#fff" stroke="#111" stroke-width="1.15"/>
<circle cx="281.14" cy="1234.30" r="2.85" fill="#fff" stroke="#111" stroke-width="1.15"/>
<circle cx="296.41" cy="1234.30" r="2.85" fill="#fff" stroke="#111" stroke-width="1.15"/>
<line x1="237.64" y1="1253.50" x2="252.53" y2="1253.50" stroke="#222" stroke-width="1.1"/>
<rect x="238.61" y="1247.85" width="7.15" height="11.40" fill="#f0432e" stroke="#111" stroke-width="1.1"/>
<line x1="241.90" y1="1247.85" x2="241.90" y2="1259.25" stroke="#111" stroke-width="1.1"/>
<circle cx="237.64" cy="1253.55" r="2.85" fill="#fff" stroke="#111" stroke-width="1.15"/>
<circle cx="242.48" cy="1253.55" r="2.85" fill="#fff" stroke="#111" stroke-width="1.15"/>
<circle cx="246.73" cy="1253.55" r="2.85" fill="#fff" stroke="#111" stroke-width="1.15"/>
<circle cx="252.53" cy="1253.55" r="2.85" fill="#fff" stroke="#111" stroke-width="1.15"/>
<text x="589.20" y="945.60" font-size="49.5" font-weight="bold" fill="#222">h</text>
<rect x="650.90" y="953.95" width="10.70" height="19.46" fill="#5b9c97"/>
<rect x="650.90" y="973.31" width="10.70" height="19.46" fill="#6fd0c6"/>
<rect x="650.90" y="992.66" width="10.70" height="19.46" fill="#1f3a72"/>
<rect x="650.90" y="1012.02" width="10.70" height="19.46" fill="#1466d2"/>
<rect x="650.90" y="1031.38" width="10.70" height="19.46" fill="#78a4e0"/>
<rect x="650.90" y="1050.73" width="10.70" height="19.46" fill="#5a2c9a"/>
<rect x="650.90" y="1070.09" width="10.70" height="19.46" fill="#6c50ac"/>
<rect x="650.90" y="1089.44" width="10.70" height="19.46" fill="#7f7cc4"/>
<rect x="650.90" y="1108.80" width="10.70" height="19.46" fill="#0d6b3a"/>
<rect x="650.90" y="1128.16" width="10.70" height="19.46" fill="#6fc07e"/>
<rect x="650.90" y="1147.51" width="10.70" height="19.46" fill="#dc5428"/>
<rect x="650.90" y="1166.87" width="10.70" height="19.46" fill="#f58a48"/>
<rect x="650.90" y="1186.23" width="10.70" height="19.46" fill="#ef6e2c"/>
<rect x="650.90" y="1205.58" width="10.70" height="19.46" fill="#e5b42e"/>
<rect x="650.90" y="1224.94" width="10.70" height="19.46" fill="#a51d2a"/>
<rect x="650.90" y="1244.29" width="10.70" height="19.46" fill="#f0432e"/>
<line x1="666.00" y1="950.00" x2="666.00" y2="1266.85" stroke="#111" stroke-width="1.3"/>
<line x1="665.35" y1="1266.20" x2="982.35" y2="1266.20" stroke="#111" stroke-width="1.3"/>
<line x1="666.00" y1="1266.20" x2="666.00" y2="1271.70" stroke="#111" stroke-width="1.3"/>
<text x="666.00" y="1292.30" font-size="18.8" text-anchor="middle">0</text>
<line x1="744.90" y1="1266.20" x2="744.90" y2="1271.70" stroke="#111" stroke-width="1.3"/>
<text x="744.90" y="1292.30" font-size="18.8" text-anchor="middle">10</text>
<line x1="823.80" y1="1266.20" x2="823.80" y2="1271.70" stroke="#111" stroke-width="1.3"/>
<text x="823.80" y="1292.30" font-size="18.8" text-anchor="middle">20</text>
<line x1="902.80" y1="1266.20" x2="902.80" y2="1271.70" stroke="#111" stroke-width="1.3"/>
<text x="902.80" y="1292.30" font-size="18.8" text-anchor="middle">30</text>
<line x1="981.70" y1="1266.20" x2="981.70" y2="1271.70" stroke="#111" stroke-width="1.3"/>
<text x="981.70" y="1292.30" font-size="18.8" text-anchor="middle">40</text>
<text x="823.85" y="1319.10" font-size="18.7" font-weight="bold" text-anchor="middle">Proportion of 20:4 within diacyl PE (%)</text>
<line x1="843.89" y1="964.50" x2="932.02" y2="964.50" stroke="#222" stroke-width="1.1"/>
<rect x="887.17" y="959.10" width="26.08" height="11.40" fill="#4f8e88" stroke="#111" stroke-width="1.1"/>
<line x1="907.25" y1="959.10" x2="907.25" y2="970.50" stroke="#111" stroke-width="1.1"/>
<circle cx="843.89" cy="964.80" r="2.85" fill="#fff" stroke="#111" stroke-width="1.15"/>
<circle cx="876.48" cy="964.80" r="2.85" fill="#fff" stroke="#111" stroke-width="1.15"/>
<circle cx="882.48" cy="964.80" r="2.85" fill="#fff" stroke="#111" stroke-width="1.15"/>
<circle cx="887.17" cy="964.80" r="2.85" fill="#fff" stroke="#111" stroke-width="1.15"/>
<circle cx="902.03" cy="964.80" r="2.85" fill="#fff" stroke="#111" stroke-width="1.15"/>
<circle cx="905.95" cy="964.80" r="2.85" fill="#fff" stroke="#111" stroke-width="1.15"/>
<circle cx="910.64" cy="964.80" r="2.85" fill="#fff" stroke="#111" stroke-width="1.15"/>
<circle cx="921.59" cy="964.80" r="2.85" fill="#fff" stroke="#111" stroke-width="1.15"/>
<circle cx="924.98" cy="964.80" r="2.85" fill="#fff" stroke="#111" stroke-width="1.15"/>
<circle cx="932.02" cy="964.80" r="2.85" fill="#fff" stroke="#111" stroke-width="1.15"/>
<line x1="853.79" y1="984.50" x2="941.67" y2="984.50" stroke="#222" stroke-width="1.1"/>
<rect x="900.21" y="978.35" width="33.64" height="11.40" fill="#6fd0c6" stroke="#111" stroke-width="1.1"/>
<line x1="929.41" y1="978.35" x2="929.41" y2="989.75" stroke="#111" stroke-width="1.1"/>
<circle cx="853.79" cy="984.05" r="2.85" fill="#fff" stroke="#111" stroke-width="1.15"/>
<circle cx="881.96" cy="984.05" r="2.85" fill="#fff" stroke="#111" stroke-width="1.15"/>
<circle cx="899.43" cy="984.05" r="2.85" fill="#fff" stroke="#111" stroke-width="1.15"/>
<circle cx="900.73" cy="984.05" r="2.85" fill="#fff" stroke="#111" stroke-width="1.15"/>
<circle cx="915.59" cy="984.05" r="2.85" fill="#fff" stroke="#111" stroke-width="1.15"/>
<circle cx="922.11" cy="984.05" r="2.85" fill="#fff" stroke="#111" stroke-width="1.15"/>
<circle cx="929.41" cy="984.05" r="2.85" fill="#fff" stroke="#111" stroke-width="1.15"/>
<circle cx="931.50" cy="984.05" r="2.85" fill="#fff" stroke="#111" stroke-width="1.15"/>
<circle cx="935.93" cy="984.05" r="2.85" fill="#fff" stroke="#111" stroke-width="1.15"/>
<circle cx="941.67" cy="984.05" r="2.85" fill="#fff" stroke="#111" stroke-width="1.15"/>
<line x1="894.21" y1="1003.50" x2="954.97" y2="1003.50" stroke="#222" stroke-width="1.1"/>
<rect x="918.20" y="997.60" width="26.08" height="11.40" fill="#1f3a72" stroke="#111" stroke-width="1.1"/>
<line x1="930.72" y1="997.60" x2="930.72" y2="1009.00" stroke="#111" stroke-width="1.1"/>
<circle cx="894.21" cy="1003.30" r="2.85" fill="#fff" stroke="#111" stroke-width="1.15"/>
<circle cx="898.64" cy="1003.30" r="2.85" fill="#fff" stroke="#111" stroke-width="1.15"/>
<circle cx="915.07" cy="1003.30" r="2.85" fill="#fff" stroke="#111" stroke-width="1.15"/>
<circle cx="920.29" cy="1003.30" r="2.85" fill="#fff" stroke="#111" stroke-width="1.15"/>
<circle cx="930.20" cy="1003.30" r="2.85" fill="#fff" stroke="#111" stroke-width="1.15"/>
<circle cx="935.15" cy="1003.30" r="2.85" fill="#fff" stroke="#111" stroke-width="1.15"/>
<circle cx="937.24" cy="1003.30" r="2.85" fill="#fff" stroke="#111" stroke-width="1.15"/>
<circle cx="948.97" cy="1003.30" r="2.85" fill="#fff" stroke="#111" stroke-width="1.15"/>
<circle cx="954.97" cy="1003.30" r="2.85" fill="#fff" stroke="#111" stroke-width="1.15"/>
<line x1="879.87" y1="1022.50" x2="941.93" y2="1022.50" stroke="#222" stroke-width="1.1"/>
<rect x="909.86" y="1016.85" width="23.99" height="11.40" fill="#1466d2" stroke="#111" stroke-width="1.1"/>
<line x1="920.29" y1="1016.85" x2="920.29" y2="1028.25" stroke="#111" stroke-width="1.1"/>
<circle cx="879.87" cy="1022.55" r="2.85" fill="#fff" stroke="#111" stroke-width="1.15"/>
<circle cx="887.17" cy="1022.55" r="2.85" fill="#fff" stroke="#111" stroke-width="1.15"/>
<circle cx="898.64" cy="1022.55" r="2.85" fill="#fff" stroke="#111" stroke-width="1.15"/>
<circle cx="913.77" cy="1022.55" r="2.85" fill="#fff" stroke="#111" stroke-width="1.15"/>
<circle cx="916.38" cy="1022.55" r="2.85" fill="#fff" stroke="#111" stroke-width="1.15"/>
<circle cx="925.50" cy="1022.55" r="2.85" fill="#fff" stroke="#111" stroke-width="1.15"/>
<circle cx="927.59" cy="1022.55" r="2.85" fill="#fff" stroke="#111" stroke-width="1.15"/>
<circle cx="934.11" cy="1022.55" r="2.85" fill="#fff" stroke="#111" stroke-width="1.15"/>
<circle cx="941.93" cy="1022.55" r="2.85" fill="#fff" stroke="#111" stroke-width="1.15"/>
<line x1="863.44" y1="1041.50" x2="930.72" y2="1041.50" stroke="#222" stroke-width="1.1"/>
<rect x="888.47" y="1036.10" width="28.68" height="11.40" fill="#78a4e0" stroke="#111" stroke-width="1.1"/>
<line x1="905.95" y1="1036.10" x2="905.95" y2="1047.50" stroke="#111" stroke-width="1.1"/>
<circle cx="863.44" cy="1041.80" r="2.85" fill="#fff" stroke="#111" stroke-width="1.15"/>
<circle cx="870.74" cy="1041.80" r="2.85" fill="#fff" stroke="#111" stroke-width="1.15"/>
<circle cx="881.17" cy="1041.80" r="2.85" fill="#fff" stroke="#111" stroke-width="1.15"/>
<circle cx="895.51" cy="1041.80" r="2.85" fill="#fff" stroke="#111" stroke-width="1.15"/>
<circle cx="902.82" cy="1041.80" r="2.85" fill="#fff" stroke="#111" stroke-width="1.15"/>
<circle cx="907.77" cy="1041.80" r="2.85" fill="#fff" stroke="#111" stroke-width="1.15"/>
<circle cx="913.77" cy="1041.80" r="2.85" fill="#fff" stroke="#111" stroke-width="1.15"/>
<circle cx="918.98" cy="1041.80" r="2.85" fill="#fff" stroke="#111" stroke-width="1.15"/>
<circle cx="930.72" cy="1041.80" r="2.85" fill="#fff" stroke="#111" stroke-width="1.15"/>
<line x1="879.09" y1="1061.50" x2="964.62" y2="1061.50" stroke="#222" stroke-width="1.1"/>
<rect x="921.07" y="1055.35" width="26.60" height="11.40" fill="#5a2c9a" stroke="#111" stroke-width="1.1"/>
<line x1="934.63" y1="1055.35" x2="934.63" y2="1066.75" stroke="#111" stroke-width="1.1"/>
<circle cx="879.09" cy="1061.05" r="2.85" fill="#fff" stroke="#111" stroke-width="1.15"/>
<circle cx="905.16" cy="1061.05" r="2.85" fill="#fff" stroke="#111" stroke-width="1.15"/>
<circle cx="913.77" cy="1061.05" r="2.85" fill="#fff" stroke="#111" stroke-width="1.15"/>
<circle cx="926.81" cy="1061.05" r="2.85" fill="#fff" stroke="#111" stroke-width="1.15"/>
<circle cx="934.63" cy="1061.05" r="2.85" fill="#fff" stroke="#111" stroke-width="1.15"/>
<circle cx="942.45" cy="1061.05" r="2.85" fill="#fff" stroke="#111" stroke-width="1.15"/>
<circle cx="946.36" cy="1061.05" r="2.85" fill="#fff" stroke="#111" stroke-width="1.15"/>
<circle cx="952.88" cy="1061.05" r="2.85" fill="#fff" stroke="#111" stroke-width="1.15"/>
<circle cx="957.57" cy="1061.05" r="2.85" fill="#fff" stroke="#111" stroke-width="1.15"/>
<circle cx="964.62" cy="1061.05" r="2.85" fill="#fff" stroke="#111" stroke-width="1.15"/>
<line x1="866.83" y1="1080.50" x2="932.02" y2="1080.50" stroke="#222" stroke-width="1.1"/>
<rect x="896.30" y="1074.60" width="27.12" height="11.40" fill="#6c50ac" stroke="#111" stroke-width="1.1"/>
<line x1="913.77" y1="1074.60" x2="913.77" y2="1086.00" stroke="#111" stroke-width="1.1"/>
<circle cx="866.83" cy="1080.30" r="2.85" fill="#fff" stroke="#111" stroke-width="1.15"/>
<circle cx="875.96" cy="1080.30" r="2.85" fill="#fff" stroke="#111" stroke-width="1.15"/>
<circle cx="891.60" cy="1080.30" r="2.85" fill="#fff" stroke="#111" stroke-width="1.15"/>
<circle cx="908.55" cy="1080.30" r="2.85" fill="#fff" stroke="#111" stroke-width="1.15"/>
<circle cx="914.55" cy="1080.30" r="2.85" fill="#fff" stroke="#111" stroke-width="1.15"/>
<circle cx="920.29" cy="1080.30" r="2.85" fill="#fff" stroke="#111" stroke-width="1.15"/>
<circle cx="925.50" cy="1080.30" r="2.85" fill="#fff" stroke="#111" stroke-width="1.15"/>
<circle cx="932.02" cy="1080.30" r="2.85" fill="#fff" stroke="#111" stroke-width="1.15"/>
<line x1="875.18" y1="1099.50" x2="932.54" y2="1099.50" stroke="#222" stroke-width="1.1"/>
<rect x="883.26" y="1093.85" width="31.03" height="11.40" fill="#7f7cc4" stroke="#111" stroke-width="1.1"/>
<line x1="900.21" y1="1093.85" x2="900.21" y2="1105.25" stroke="#111" stroke-width="1.1"/>
<circle cx="875.18" cy="1099.55" r="2.85" fill="#fff" stroke="#111" stroke-width="1.15"/>
<circle cx="876.74" cy="1099.55" r="2.85" fill="#fff" stroke="#111" stroke-width="1.15"/>
<circle cx="886.91" cy="1099.55" r="2.85" fill="#fff" stroke="#111" stroke-width="1.15"/>
<circle cx="892.91" cy="1099.55" r="2.85" fill="#fff" stroke="#111" stroke-width="1.15"/>
<circle cx="900.21" cy="1099.55" r="2.85" fill="#fff" stroke="#111" stroke-width="1.15"/>
<circle cx="908.55" cy="1099.55" r="2.85" fill="#fff" stroke="#111" stroke-width="1.15"/>
<circle cx="912.46" cy="1099.55" r="2.85" fill="#fff" stroke="#111" stroke-width="1.15"/>
<circle cx="917.68" cy="1099.55" r="2.85" fill="#fff" stroke="#111" stroke-width="1.15"/>
<circle cx="922.89" cy="1099.55" r="2.85" fill="#fff" stroke="#111" stroke-width="1.15"/>
<circle cx="932.54" cy="1099.55" r="2.85" fill="#fff" stroke="#111" stroke-width="1.15"/>
<line x1="857.71" y1="1118.50" x2="918.98" y2="1118.50" stroke="#222" stroke-width="1.1"/>
<rect x="876.48" y="1113.10" width="26.86" height="11.40" fill="#0d6b3a" stroke="#111" stroke-width="1.1"/>
<line x1="892.91" y1="1113.10" x2="892.91" y2="1124.50" stroke="#111" stroke-width="1.1"/>
<circle cx="857.71" cy="1118.80" r="2.85" fill="#fff" stroke="#111" stroke-width="1.15"/>
<circle cx="867.35" cy="1118.80" r="2.85" fill="#fff" stroke="#111" stroke-width="1.15"/>
<circle cx="877.26" cy="1118.80" r="2.85" fill="#fff" stroke="#111" stroke-width="1.15"/>
<circle cx="884.56" cy="1118.80" r="2.85" fill="#fff" stroke="#111" stroke-width="1.15"/>
<circle cx="891.60" cy="1118.80" r="2.85" fill="#fff" stroke="#111" stroke-width="1.15"/>
<circle cx="898.12" cy="1118.80" r="2.85" fill="#fff" stroke="#111" stroke-width="1.15"/>
<circle cx="904.64" cy="1118.80" r="2.85" fill="#fff" stroke="#111" stroke-width="1.15"/>
<circle cx="912.46" cy="1118.80" r="2.85" fill="#fff" stroke="#111" stroke-width="1.15"/>
<circle cx="918.98" cy="1118.80" r="2.85" fill="#fff" stroke="#111" stroke-width="1.15"/>
<line x1="816.77" y1="1138.50" x2="874.65" y2="1138.50" stroke="#222" stroke-width="1.1"/>
<rect x="835.54" y="1132.35" width="32.07" height="11.40" fill="#6fc07e" stroke="#111" stroke-width="1.1"/>
<line x1="852.49" y1="1132.35" x2="852.49" y2="1143.75" stroke="#111" stroke-width="1.1"/>
<circle cx="816.77" cy="1138.05" r="2.85" fill="#fff" stroke="#111" stroke-width="1.15"/>
<circle cx="831.63" cy="1138.05" r="2.85" fill="#fff" stroke="#111" stroke-width="1.15"/>
<circle cx="842.58" cy="1138.05" r="2.85" fill="#fff" stroke="#111" stroke-width="1.15"/>
<circle cx="849.10" cy="1138.05" r="2.85" fill="#fff" stroke="#111" stroke-width="1.15"/>
<circle cx="855.10" cy="1138.05" r="2.85" fill="#fff" stroke="#111" stroke-width="1.15"/>
<circle cx="860.83" cy="1138.05" r="2.85" fill="#fff" stroke="#111" stroke-width="1.15"/>
<circle cx="864.22" cy="1138.05" r="2.85" fill="#fff" stroke="#111" stroke-width="1.15"/>
<circle cx="868.92" cy="1138.05" r="2.85" fill="#fff" stroke="#111" stroke-width="1.15"/>
<circle cx="874.65" cy="1138.05" r="2.85" fill="#fff" stroke="#111" stroke-width="1.15"/>
<line x1="799.82" y1="1157.50" x2="869.44" y2="1157.50" stroke="#222" stroke-width="1.1"/>
<rect x="840.76" y="1151.60" width="16.17" height="11.40" fill="#dc5428" stroke="#111" stroke-width="1.1"/>
<line x1="848.58" y1="1151.60" x2="848.58" y2="1163.00" stroke="#111" stroke-width="1.1"/>
<circle cx="799.82" cy="1157.30" r="2.85" fill="#fff" stroke="#111" stroke-width="1.15"/>
<circle cx="826.41" cy="1157.30" r="2.85" fill="#fff" stroke="#111" stroke-width="1.15"/>
<circle cx="838.15" cy="1157.30" r="2.85" fill="#fff" stroke="#111" stroke-width="1.15"/>
<circle cx="843.36" cy="1157.30" r="2.85" fill="#fff" stroke="#111" stroke-width="1.15"/>
<circle cx="848.58" cy="1157.30" r="2.85" fill="#fff" stroke="#111" stroke-width="1.15"/>
<circle cx="852.49" cy="1157.30" r="2.85" fill="#fff" stroke="#111" stroke-width="1.15"/>
<circle cx="857.71" cy="1157.30" r="2.85" fill="#fff" stroke="#111" stroke-width="1.15"/>
<circle cx="865.01" cy="1157.30" r="2.85" fill="#fff" stroke="#111" stroke-width="1.15"/>
<circle cx="869.44" cy="1157.30" r="2.85" fill="#fff" stroke="#111" stroke-width="1.15"/>
<line x1="821.98" y1="1176.50" x2="865.01" y2="1176.50" stroke="#222" stroke-width="1.1"/>
<rect x="832.41" y="1170.85" width="24.77" height="11.40" fill="#f58a48" stroke="#111" stroke-width="1.1"/>
<line x1="851.97" y1="1170.85" x2="851.97" y2="1182.25" stroke="#111" stroke-width="1.1"/>
<circle cx="821.98" cy="1176.55" r="2.85" fill="#fff" stroke="#111" stroke-width="1.15"/>
<circle cx="826.41" cy="1176.55" r="2.85" fill="#fff" stroke="#111" stroke-width="1.15"/>
<circle cx="829.02" cy="1176.55" r="2.85" fill="#fff" stroke="#111" stroke-width="1.15"/>
<circle cx="840.23" cy="1176.55" r="2.85" fill="#fff" stroke="#111" stroke-width="1.15"/>
<circle cx="848.58" cy="1176.55" r="2.85" fill="#fff" stroke="#111" stroke-width="1.15"/>
<circle cx="851.19" cy="1176.55" r="2.85" fill="#fff" stroke="#111" stroke-width="1.15"/>
<circle cx="857.18" cy="1176.55" r="2.85" fill="#fff" stroke="#111" stroke-width="1.15"/>
<circle cx="861.10" cy="1176.55" r="2.85" fill="#fff" stroke="#111" stroke-width="1.15"/>
<circle cx="865.01" cy="1176.55" r="2.85" fill="#fff" stroke="#111" stroke-width="1.15"/>
<line x1="836.32" y1="1195.50" x2="880.39" y2="1195.50" stroke="#222" stroke-width="1.1"/>
<rect x="853.79" y="1190.10" width="21.64" height="11.40" fill="#ef6e2c" stroke="#111" stroke-width="1.1"/>
<line x1="868.14" y1="1190.10" x2="868.14" y2="1201.50" stroke="#111" stroke-width="1.1"/>
<circle cx="836.32" cy="1195.80" r="2.85" fill="#fff" stroke="#111" stroke-width="1.15"/>
<circle cx="838.93" cy="1195.80" r="2.85" fill="#fff" stroke="#111" stroke-width="1.15"/>
<circle cx="843.89" cy="1195.80" r="2.85" fill="#fff" stroke="#111" stroke-width="1.15"/>
<circle cx="863.70" cy="1195.80" r="2.85" fill="#fff" stroke="#111" stroke-width="1.15"/>
<circle cx="868.14" cy="1195.80" r="2.85" fill="#fff" stroke="#111" stroke-width="1.15"/>
<circle cx="872.05" cy="1195.80" r="2.85" fill="#fff" stroke="#111" stroke-width="1.15"/>
<circle cx="875.96" cy="1195.80" r="2.85" fill="#fff" stroke="#111" stroke-width="1.15"/>
<circle cx="880.39" cy="1195.80" r="2.85" fill="#fff" stroke="#111" stroke-width="1.15"/>
<line x1="740.89" y1="1215.50" x2="829.54" y2="1215.50" stroke="#222" stroke-width="1.1"/>
<rect x="777.39" y="1209.35" width="19.82" height="11.40" fill="#e5b42e" stroke="#111" stroke-width="1.1"/>
<line x1="786.52" y1="1209.35" x2="786.52" y2="1220.75" stroke="#111" stroke-width="1.1"/>
<circle cx="740.89" cy="1215.05" r="2.85" fill="#fff" stroke="#111" stroke-width="1.15"/>
<circle cx="751.32" cy="1215.05" r="2.85" fill="#fff" stroke="#111" stroke-width="1.15"/>
<circle cx="774.26" cy="1215.05" r="2.85" fill="#fff" stroke="#111" stroke-width="1.15"/>
<circle cx="779.48" cy="1215.05" r="2.85" fill="#fff" stroke="#111" stroke-width="1.15"/>
<circle cx="780.26" cy="1215.05" r="2.85" fill="#fff" stroke="#111" stroke-width="1.15"/>
<circle cx="788.60" cy="1215.05" r="2.85" fill="#fff" stroke="#111" stroke-width="1.15"/>
<circle cx="792.52" cy="1215.05" r="2.85" fill="#fff" stroke="#111" stroke-width="1.15"/>
<circle cx="796.43" cy="1215.05" r="2.85" fill="#fff" stroke="#111" stroke-width="1.15"/>
<circle cx="801.12" cy="1215.05" r="2.85" fill="#fff" stroke="#111" stroke-width="1.15"/>
<circle cx="829.54" cy="1215.05" r="2.85" fill="#fff" stroke="#111" stroke-width="1.15"/>
<line x1="720.81" y1="1234.50" x2="754.71" y2="1234.50" stroke="#222" stroke-width="1.1"/>
<rect x="729.15" y="1228.60" width="15.65" height="11.40" fill="#a51d2a" stroke="#111" stroke-width="1.1"/>
<line x1="735.67" y1="1228.60" x2="735.67" y2="1240.00" stroke="#111" stroke-width="1.1"/>
<circle cx="720.81" cy="1234.30" r="2.85" fill="#fff" stroke="#111" stroke-width="1.15"/>
<circle cx="727.33" cy="1234.30" r="2.85" fill="#fff" stroke="#111" stroke-width="1.15"/>
<circle cx="730.72" cy="1234.30" r="2.85" fill="#fff" stroke="#111" stroke-width="1.15"/>
<circle cx="736.45" cy="1234.30" r="2.85" fill="#fff" stroke="#111" stroke-width="1.15"/>
<circle cx="740.37" cy="1234.30" r="2.85" fill="#fff" stroke="#111" stroke-width="1.15"/>
<circle cx="745.06" cy="1234.30" r="2.85" fill="#fff" stroke="#111" stroke-width="1.15"/>
<circle cx="752.62" cy="1234.30" r="2.85" fill="#fff" stroke="#111" stroke-width="1.15"/>
<circle cx="754.71" cy="1234.30" r="2.85" fill="#fff" stroke="#111" stroke-width="1.15"/>
<line x1="686.13" y1="1253.50" x2="698.64" y2="1253.50" stroke="#222" stroke-width="1.1"/>
<rect x="691.60" y="1247.85" width="4.43" height="11.40" fill="#f0432e" stroke="#111" stroke-width="1.1"/>
<line x1="693.95" y1="1247.85" x2="693.95" y2="1259.25" stroke="#111" stroke-width="1.1"/>
<circle cx="686.13" cy="1253.55" r="2.85" fill="#fff" stroke="#111" stroke-width="1.15"/>
<circle cx="692.13" cy="1253.55" r="2.85" fill="#fff" stroke="#111" stroke-width="1.15"/>
<circle cx="695.25" cy="1253.55" r="2.85" fill="#fff" stroke="#111" stroke-width="1.15"/>
<circle cx="698.64" cy="1253.55" r="2.85" fill="#fff" stroke="#111" stroke-width="1.15"/>
<text x="1050.40" y="945.60" font-size="49.5" font-weight="bold" fill="#222">i</text>
<rect x="1120.80" y="955.25" width="10.50" height="19.46" fill="#5b9c97"/>
<rect x="1120.80" y="974.61" width="10.50" height="19.46" fill="#6fd0c6"/>
<rect x="1120.80" y="993.96" width="10.50" height="19.46" fill="#1f3a72"/>
<rect x="1120.80" y="1013.32" width="10.50" height="19.46" fill="#1466d2"/>
<rect x="1120.80" y="1032.67" width="10.50" height="19.46" fill="#78a4e0"/>
<rect x="1120.80" y="1052.03" width="10.50" height="19.46" fill="#5a2c9a"/>
<rect x="1120.80" y="1071.39" width="10.50" height="19.46" fill="#6c50ac"/>
<rect x="1120.80" y="1090.74" width="10.50" height="19.46" fill="#7f7cc4"/>
<rect x="1120.80" y="1110.10" width="10.50" height="19.46" fill="#0d6b3a"/>
<rect x="1120.80" y="1129.46" width="10.50" height="19.46" fill="#6fc07e"/>
<rect x="1120.80" y="1148.81" width="10.50" height="19.46" fill="#dc5428"/>
<rect x="1120.80" y="1168.17" width="10.50" height="19.46" fill="#f58a48"/>
<rect x="1120.80" y="1187.53" width="10.50" height="19.46" fill="#ef6e2c"/>
<rect x="1120.80" y="1206.88" width="10.50" height="19.46" fill="#e5b42e"/>
<rect x="1120.80" y="1226.24" width="10.50" height="19.46" fill="#a51d2a"/>
<rect x="1120.80" y="1245.59" width="10.50" height="19.46" fill="#f0432e"/>
<line x1="1135.70" y1="952.20" x2="1135.70" y2="1267.65" stroke="#111" stroke-width="1.3"/>
<line x1="1135.05" y1="1267.00" x2="1452.15" y2="1267.00" stroke="#111" stroke-width="1.3"/>
<line x1="1135.70" y1="1267.00" x2="1135.70" y2="1272.50" stroke="#111" stroke-width="1.3"/>
<text x="1135.70" y="1292.40" font-size="18.8" text-anchor="middle">0</text>
<line x1="1198.90" y1="1267.00" x2="1198.90" y2="1272.50" stroke="#111" stroke-width="1.3"/>
<text x="1198.90" y="1292.40" font-size="18.8" text-anchor="middle">5</text>
<line x1="1262.10" y1="1267.00" x2="1262.10" y2="1272.50" stroke="#111" stroke-width="1.3"/>
<text x="1262.10" y="1292.40" font-size="18.8" text-anchor="middle">10</text>
<line x1="1325.30" y1="1267.00" x2="1325.30" y2="1272.50" stroke="#111" stroke-width="1.3"/>
<text x="1325.30" y="1292.40" font-size="18.8" text-anchor="middle">15</text>
<line x1="1388.40" y1="1267.00" x2="1388.40" y2="1272.50" stroke="#111" stroke-width="1.3"/>
<text x="1388.40" y="1292.40" font-size="18.8" text-anchor="middle">20</text>
<line x1="1451.50" y1="1267.00" x2="1451.50" y2="1272.50" stroke="#111" stroke-width="1.3"/>
<text x="1451.50" y="1292.40" font-size="18.8" text-anchor="middle">25</text>
<text x="1293.60" y="1314.60" font-size="18.7" font-weight="bold" text-anchor="middle">Proportion of 22:6 within PE(P) (%)</text>
<line x1="1234.26" y1="965.50" x2="1383.42" y2="965.50" stroke="#222" stroke-width="1.1"/>
<rect x="1246.52" y="959.75" width="52.41" height="11.40" fill="#4f8e88" stroke="#111" stroke-width="1.1"/>
<line x1="1273.38" y1="959.75" x2="1273.38" y2="971.15" stroke="#111" stroke-width="1.1"/>
<circle cx="1234.26" cy="965.45" r="2.85" fill="#fff" stroke="#111" stroke-width="1.15"/>
<circle cx="1243.39" cy="965.45" r="2.85" fill="#fff" stroke="#111" stroke-width="1.15"/>
<circle cx="1246.52" cy="965.45" r="2.85" fill="#fff" stroke="#111" stroke-width="1.15"/>
<circle cx="1259.56" cy="965.45" r="2.85" fill="#fff" stroke="#111" stroke-width="1.15"/>
<circle cx="1269.47" cy="965.45" r="2.85" fill="#fff" stroke="#111" stroke-width="1.15"/>
<circle cx="1277.29" cy="965.45" r="2.85" fill="#fff" stroke="#111" stroke-width="1.15"/>
<circle cx="1279.37" cy="965.45" r="2.85" fill="#fff" stroke="#111" stroke-width="1.15"/>
<circle cx="1297.63" cy="965.45" r="2.85" fill="#fff" stroke="#111" stroke-width="1.15"/>
<circle cx="1304.15" cy="965.45" r="2.85" fill="#fff" stroke="#111" stroke-width="1.15"/>
<circle cx="1305.97" cy="965.45" r="2.85" fill="#fff" stroke="#111" stroke-width="1.15"/>
<circle cx="1383.42" cy="965.45" r="2.85" fill="#fff" stroke="#111" stroke-width="1.15"/>
<line x1="1255.91" y1="984.50" x2="1365.16" y2="984.50" stroke="#222" stroke-width="1.1"/>
<rect x="1276.25" y="979.05" width="39.37" height="11.40" fill="#6fd0c6" stroke="#111" stroke-width="1.1"/>
<line x1="1296.32" y1="979.05" x2="1296.32" y2="990.45" stroke="#111" stroke-width="1.1"/>
<circle cx="1255.91" cy="984.75" r="2.85" fill="#fff" stroke="#111" stroke-width="1.15"/>
<circle cx="1258.25" cy="984.75" r="2.85" fill="#fff" stroke="#111" stroke-width="1.15"/>
<circle cx="1264.77" cy="984.75" r="2.85" fill="#fff" stroke="#111" stroke-width="1.15"/>
<circle cx="1287.20" cy="984.75" r="2.85" fill="#fff" stroke="#111" stroke-width="1.15"/>
<circle cx="1295.02" cy="984.75" r="2.85" fill="#fff" stroke="#111" stroke-width="1.15"/>
<circle cx="1297.37" cy="984.75" r="2.85" fill="#fff" stroke="#111" stroke-width="1.15"/>
<circle cx="1312.49" cy="984.75" r="2.85" fill="#fff" stroke="#111" stroke-width="1.15"/>
<circle cx="1317.71" cy="984.75" r="2.85" fill="#fff" stroke="#111" stroke-width="1.15"/>
<circle cx="1361.51" cy="984.75" r="2.85" fill="#fff" stroke="#111" stroke-width="1.15"/>
<circle cx="1365.16" cy="984.75" r="2.85" fill="#fff" stroke="#111" stroke-width="1.15"/>
<line x1="1244.69" y1="1004.50" x2="1409.75" y2="1004.50" stroke="#222" stroke-width="1.1"/>
<rect x="1258.51" y="998.34" width="61.02" height="11.40" fill="#1f3a72" stroke="#111" stroke-width="1.1"/>
<line x1="1286.41" y1="998.34" x2="1286.41" y2="1009.74" stroke="#111" stroke-width="1.1"/>
<circle cx="1244.69" cy="1004.04" r="2.85" fill="#fff" stroke="#111" stroke-width="1.15"/>
<circle cx="1248.08" cy="1004.04" r="2.85" fill="#fff" stroke="#111" stroke-width="1.15"/>
<circle cx="1268.68" cy="1004.04" r="2.85" fill="#fff" stroke="#111" stroke-width="1.15"/>
<circle cx="1279.37" cy="1004.04" r="2.85" fill="#fff" stroke="#111" stroke-width="1.15"/>
<circle cx="1285.11" cy="1004.04" r="2.85" fill="#fff" stroke="#111" stroke-width="1.15"/>
<circle cx="1286.41" cy="1004.04" r="2.85" fill="#fff" stroke="#111" stroke-width="1.15"/>
<circle cx="1312.49" cy="1004.04" r="2.85" fill="#fff" stroke="#111" stroke-width="1.15"/>
<circle cx="1327.35" cy="1004.04" r="2.85" fill="#fff" stroke="#111" stroke-width="1.15"/>
<circle cx="1348.47" cy="1004.04" r="2.85" fill="#fff" stroke="#111" stroke-width="1.15"/>
<circle cx="1409.75" cy="1004.04" r="2.85" fill="#fff" stroke="#111" stroke-width="1.15"/>
<line x1="1241.04" y1="1023.50" x2="1400.63" y2="1023.50" stroke="#222" stroke-width="1.1"/>
<rect x="1263.47" y="1017.64" width="38.07" height="11.40" fill="#1466d2" stroke="#111" stroke-width="1.1"/>
<line x1="1277.29" y1="1017.64" x2="1277.29" y2="1029.04" stroke="#111" stroke-width="1.1"/>
<circle cx="1241.04" cy="1023.34" r="2.85" fill="#fff" stroke="#111" stroke-width="1.15"/>
<circle cx="1247.82" cy="1023.34" r="2.85" fill="#fff" stroke="#111" stroke-width="1.15"/>
<circle cx="1261.64" cy="1023.34" r="2.85" fill="#fff" stroke="#111" stroke-width="1.15"/>
<circle cx="1266.34" cy="1023.34" r="2.85" fill="#fff" stroke="#111" stroke-width="1.15"/>
<circle cx="1271.29" cy="1023.34" r="2.85" fill="#fff" stroke="#111" stroke-width="1.15"/>
<circle cx="1274.68" cy="1023.34" r="2.85" fill="#fff" stroke="#111" stroke-width="1.15"/>
<circle cx="1280.42" cy="1023.34" r="2.85" fill="#fff" stroke="#111" stroke-width="1.15"/>
<circle cx="1289.80" cy="1023.34" r="2.85" fill="#fff" stroke="#111" stroke-width="1.15"/>
<circle cx="1293.72" cy="1023.34" r="2.85" fill="#fff" stroke="#111" stroke-width="1.15"/>
<circle cx="1324.22" cy="1023.34" r="2.85" fill="#fff" stroke="#111" stroke-width="1.15"/>
<circle cx="1354.99" cy="1023.34" r="2.85" fill="#fff" stroke="#111" stroke-width="1.15"/>
<circle cx="1400.63" cy="1023.34" r="2.85" fill="#fff" stroke="#111" stroke-width="1.15"/>
<line x1="1243.39" y1="1042.50" x2="1407.67" y2="1042.50" stroke="#222" stroke-width="1.1"/>
<rect x="1264.51" y="1036.93" width="39.63" height="11.40" fill="#78a4e0" stroke="#111" stroke-width="1.1"/>
<line x1="1269.47" y1="1036.93" x2="1269.47" y2="1048.33" stroke="#111" stroke-width="1.1"/>
<circle cx="1243.39" cy="1042.63" r="2.85" fill="#fff" stroke="#111" stroke-width="1.15"/>
<circle cx="1261.64" cy="1042.63" r="2.85" fill="#fff" stroke="#111" stroke-width="1.15"/>
<circle cx="1266.34" cy="1042.63" r="2.85" fill="#fff" stroke="#111" stroke-width="1.15"/>
<circle cx="1269.47" cy="1042.63" r="2.85" fill="#fff" stroke="#111" stroke-width="1.15"/>
<circle cx="1270.77" cy="1042.63" r="2.85" fill="#fff" stroke="#111" stroke-width="1.15"/>
<circle cx="1284.33" cy="1042.63" r="2.85" fill="#fff" stroke="#111" stroke-width="1.15"/>
<circle cx="1291.63" cy="1042.63" r="2.85" fill="#fff" stroke="#111" stroke-width="1.15"/>
<circle cx="1317.18" cy="1042.63" r="2.85" fill="#fff" stroke="#111" stroke-width="1.15"/>
<circle cx="1324.22" cy="1042.63" r="2.85" fill="#fff" stroke="#111" stroke-width="1.15"/>
<circle cx="1407.67" cy="1042.63" r="2.85" fill="#fff" stroke="#111" stroke-width="1.15"/>
<line x1="1246.00" y1="1061.50" x2="1374.55" y2="1061.50" stroke="#222" stroke-width="1.1"/>
<rect x="1283.02" y="1056.23" width="54.76" height="11.40" fill="#5a2c9a" stroke="#111" stroke-width="1.1"/>
<line x1="1309.88" y1="1056.23" x2="1309.88" y2="1067.63" stroke="#111" stroke-width="1.1"/>
<circle cx="1246.00" cy="1061.93" r="2.85" fill="#fff" stroke="#111" stroke-width="1.15"/>
<circle cx="1262.43" cy="1061.93" r="2.85" fill="#fff" stroke="#111" stroke-width="1.15"/>
<circle cx="1274.68" cy="1061.93" r="2.85" fill="#fff" stroke="#111" stroke-width="1.15"/>
<circle cx="1285.63" cy="1061.93" r="2.85" fill="#fff" stroke="#111" stroke-width="1.15"/>
<circle cx="1289.80" cy="1061.93" r="2.85" fill="#fff" stroke="#111" stroke-width="1.15"/>
<circle cx="1293.46" cy="1061.93" r="2.85" fill="#fff" stroke="#111" stroke-width="1.15"/>
<circle cx="1309.10" cy="1061.93" r="2.85" fill="#fff" stroke="#111" stroke-width="1.15"/>
<circle cx="1323.44" cy="1061.93" r="2.85" fill="#fff" stroke="#111" stroke-width="1.15"/>
<circle cx="1330.22" cy="1061.93" r="2.85" fill="#fff" stroke="#111" stroke-width="1.15"/>
<circle cx="1362.56" cy="1061.93" r="2.85" fill="#fff" stroke="#111" stroke-width="1.15"/>
<circle cx="1367.77" cy="1061.93" r="2.85" fill="#fff" stroke="#111" stroke-width="1.15"/>
<circle cx="1374.55" cy="1061.93" r="2.85" fill="#fff" stroke="#111" stroke-width="1.15"/>
<line x1="1238.70" y1="1081.50" x2="1350.30" y2="1081.50" stroke="#222" stroke-width="1.1"/>
<rect x="1254.34" y="1075.53" width="39.90" height="11.40" fill="#6c50ac" stroke="#111" stroke-width="1.1"/>
<line x1="1275.46" y1="1075.53" x2="1275.46" y2="1086.93" stroke="#111" stroke-width="1.1"/>
<circle cx="1238.70" cy="1081.23" r="2.85" fill="#fff" stroke="#111" stroke-width="1.15"/>
<circle cx="1253.30" cy="1081.23" r="2.85" fill="#fff" stroke="#111" stroke-width="1.15"/>
<circle cx="1269.99" cy="1081.23" r="2.85" fill="#fff" stroke="#111" stroke-width="1.15"/>
<circle cx="1279.37" cy="1081.23" r="2.85" fill="#fff" stroke="#111" stroke-width="1.15"/>
<circle cx="1282.50" cy="1081.23" r="2.85" fill="#fff" stroke="#111" stroke-width="1.15"/>
<circle cx="1298.93" cy="1081.23" r="2.85" fill="#fff" stroke="#111" stroke-width="1.15"/>
<circle cx="1347.17" cy="1081.23" r="2.85" fill="#fff" stroke="#111" stroke-width="1.15"/>
<circle cx="1350.30" cy="1081.23" r="2.85" fill="#fff" stroke="#111" stroke-width="1.15"/>
<line x1="1214.19" y1="1100.50" x2="1390.72" y2="1100.50" stroke="#222" stroke-width="1.1"/>
<rect x="1246.52" y="1094.56" width="44.33" height="11.40" fill="#7f7cc4" stroke="#111" stroke-width="1.1"/>
<line x1="1257.73" y1="1094.56" x2="1257.73" y2="1105.96" stroke="#111" stroke-width="1.1"/>
<circle cx="1214.19" cy="1100.26" r="2.85" fill="#fff" stroke="#111" stroke-width="1.15"/>
<circle cx="1216.01" cy="1100.26" r="2.85" fill="#fff" stroke="#111" stroke-width="1.15"/>
<circle cx="1242.09" cy="1100.26" r="2.85" fill="#fff" stroke="#111" stroke-width="1.15"/>
<circle cx="1250.69" cy="1100.26" r="2.85" fill="#fff" stroke="#111" stroke-width="1.15"/>
<circle cx="1252.52" cy="1100.26" r="2.85" fill="#fff" stroke="#111" stroke-width="1.15"/>
<circle cx="1257.73" cy="1100.26" r="2.85" fill="#fff" stroke="#111" stroke-width="1.15"/>
<circle cx="1274.68" cy="1100.26" r="2.85" fill="#fff" stroke="#111" stroke-width="1.15"/>
<circle cx="1308.06" cy="1100.26" r="2.85" fill="#fff" stroke="#111" stroke-width="1.15"/>
<circle cx="1327.61" cy="1100.26" r="2.85" fill="#fff" stroke="#111" stroke-width="1.15"/>
<circle cx="1390.72" cy="1100.26" r="2.85" fill="#fff" stroke="#111" stroke-width="1.15"/>
<line x1="1206.88" y1="1119.50" x2="1343.78" y2="1119.50" stroke="#222" stroke-width="1.1"/>
<rect x="1216.53" y="1113.86" width="47.20" height="11.40" fill="#0d6b3a" stroke="#111" stroke-width="1.1"/>
<line x1="1230.35" y1="1113.86" x2="1230.35" y2="1125.26" stroke="#111" stroke-width="1.1"/>
<circle cx="1206.88" cy="1119.56" r="2.85" fill="#fff" stroke="#111" stroke-width="1.15"/>
<circle cx="1213.40" cy="1119.56" r="2.85" fill="#fff" stroke="#111" stroke-width="1.15"/>
<circle cx="1222.01" cy="1119.56" r="2.85" fill="#fff" stroke="#111" stroke-width="1.15"/>
<circle cx="1230.35" cy="1119.56" r="2.85" fill="#fff" stroke="#111" stroke-width="1.15"/>
<circle cx="1238.70" cy="1119.56" r="2.85" fill="#fff" stroke="#111" stroke-width="1.15"/>
<circle cx="1263.47" cy="1119.56" r="2.85" fill="#fff" stroke="#111" stroke-width="1.15"/>
<circle cx="1272.07" cy="1119.56" r="2.85" fill="#fff" stroke="#111" stroke-width="1.15"/>
<circle cx="1343.78" cy="1119.56" r="2.85" fill="#fff" stroke="#111" stroke-width="1.15"/>
<line x1="1180.03" y1="1138.50" x2="1268.94" y2="1138.50" stroke="#222" stroke-width="1.1"/>
<rect x="1192.54" y="1132.89" width="25.55" height="11.40" fill="#6fc07e" stroke="#111" stroke-width="1.1"/>
<line x1="1205.58" y1="1132.89" x2="1205.58" y2="1144.29" stroke="#111" stroke-width="1.1"/>
<circle cx="1180.03" cy="1138.59" r="2.85" fill="#fff" stroke="#111" stroke-width="1.15"/>
<circle cx="1185.50" cy="1138.59" r="2.85" fill="#fff" stroke="#111" stroke-width="1.15"/>
<circle cx="1192.54" cy="1138.59" r="2.85" fill="#fff" stroke="#111" stroke-width="1.15"/>
<circle cx="1205.06" cy="1138.59" r="2.85" fill="#fff" stroke="#111" stroke-width="1.15"/>
<circle cx="1207.41" cy="1138.59" r="2.85" fill="#fff" stroke="#111" stroke-width="1.15"/>
<circle cx="1213.40" cy="1138.59" r="2.85" fill="#fff" stroke="#111" stroke-width="1.15"/>
<circle cx="1219.92" cy="1138.59" r="2.85" fill="#fff" stroke="#111" stroke-width="1.15"/>
<circle cx="1226.44" cy="1138.59" r="2.85" fill="#fff" stroke="#111" stroke-width="1.15"/>
<circle cx="1268.94" cy="1138.59" r="2.85" fill="#fff" stroke="#111" stroke-width="1.15"/>
<line x1="1200.37" y1="1158.50" x2="1310.66" y2="1158.50" stroke="#222" stroke-width="1.1"/>
<rect x="1211.32" y="1152.45" width="36.51" height="11.40" fill="#dc5428" stroke="#111" stroke-width="1.1"/>
<line x1="1225.92" y1="1152.45" x2="1225.92" y2="1163.85" stroke="#111" stroke-width="1.1"/>
<circle cx="1200.37" cy="1158.15" r="2.85" fill="#fff" stroke="#111" stroke-width="1.15"/>
<circle cx="1205.58" cy="1158.15" r="2.85" fill="#fff" stroke="#111" stroke-width="1.15"/>
<circle cx="1214.71" cy="1158.15" r="2.85" fill="#fff" stroke="#111" stroke-width="1.15"/>
<circle cx="1224.35" cy="1158.15" r="2.85" fill="#fff" stroke="#111" stroke-width="1.15"/>
<circle cx="1230.87" cy="1158.15" r="2.85" fill="#fff" stroke="#111" stroke-width="1.15"/>
<circle cx="1246.78" cy="1158.15" r="2.85" fill="#fff" stroke="#111" stroke-width="1.15"/>
<circle cx="1253.30" cy="1158.15" r="2.85" fill="#fff" stroke="#111" stroke-width="1.15"/>
<circle cx="1257.21" cy="1158.15" r="2.85" fill="#fff" stroke="#111" stroke-width="1.15"/>
<circle cx="1310.66" cy="1158.15" r="2.85" fill="#fff" stroke="#111" stroke-width="1.15"/>
<line x1="1203.49" y1="1177.50" x2="1335.44" y2="1177.50" stroke="#222" stroke-width="1.1"/>
<rect x="1221.23" y="1171.48" width="33.90" height="11.40" fill="#f58a48" stroke="#111" stroke-width="1.1"/>
<line x1="1229.83" y1="1171.48" x2="1229.83" y2="1182.88" stroke="#111" stroke-width="1.1"/>
<circle cx="1203.49" cy="1177.18" r="2.85" fill="#fff" stroke="#111" stroke-width="1.15"/>
<circle cx="1209.49" cy="1177.18" r="2.85" fill="#fff" stroke="#111" stroke-width="1.15"/>
<circle cx="1224.62" cy="1177.18" r="2.85" fill="#fff" stroke="#111" stroke-width="1.15"/>
<circle cx="1232.96" cy="1177.18" r="2.85" fill="#fff" stroke="#111" stroke-width="1.15"/>
<circle cx="1242.09" cy="1177.18" r="2.85" fill="#fff" stroke="#111" stroke-width="1.15"/>
<circle cx="1251.73" cy="1177.18" r="2.85" fill="#fff" stroke="#111" stroke-width="1.15"/>
<circle cx="1265.55" cy="1177.18" r="2.85" fill="#fff" stroke="#111" stroke-width="1.15"/>
<circle cx="1269.47" cy="1177.18" r="2.85" fill="#fff" stroke="#111" stroke-width="1.15"/>
<circle cx="1335.44" cy="1177.18" r="2.85" fill="#fff" stroke="#111" stroke-width="1.15"/>
<line x1="1214.71" y1="1196.50" x2="1425.92" y2="1196.50" stroke="#222" stroke-width="1.1"/>
<rect x="1232.18" y="1190.78" width="64.93" height="11.40" fill="#ef6e2c" stroke="#111" stroke-width="1.1"/>
<line x1="1261.12" y1="1190.78" x2="1261.12" y2="1202.18" stroke="#111" stroke-width="1.1"/>
<circle cx="1214.71" cy="1196.48" r="2.85" fill="#fff" stroke="#111" stroke-width="1.15"/>
<circle cx="1222.53" cy="1196.48" r="2.85" fill="#fff" stroke="#111" stroke-width="1.15"/>
<circle cx="1242.09" cy="1196.48" r="2.85" fill="#fff" stroke="#111" stroke-width="1.15"/>
<circle cx="1244.17" cy="1196.48" r="2.85" fill="#fff" stroke="#111" stroke-width="1.15"/>
<circle cx="1247.30" cy="1196.48" r="2.85" fill="#fff" stroke="#111" stroke-width="1.15"/>
<circle cx="1261.12" cy="1196.48" r="2.85" fill="#fff" stroke="#111" stroke-width="1.15"/>
<circle cx="1268.94" cy="1196.48" r="2.85" fill="#fff" stroke="#111" stroke-width="1.15"/>
<circle cx="1288.24" cy="1196.48" r="2.85" fill="#fff" stroke="#111" stroke-width="1.15"/>
<circle cx="1290.33" cy="1196.48" r="2.85" fill="#fff" stroke="#111" stroke-width="1.15"/>
<circle cx="1304.67" cy="1196.48" r="2.85" fill="#fff" stroke="#111" stroke-width="1.15"/>
<circle cx="1308.58" cy="1196.48" r="2.85" fill="#fff" stroke="#111" stroke-width="1.15"/>
<circle cx="1425.92" cy="1196.48" r="2.85" fill="#fff" stroke="#111" stroke-width="1.15"/>
<line x1="1137.00" y1="1215.50" x2="1143.78" y2="1215.50" stroke="#222" stroke-width="1.1"/>
<rect x="1138.57" y="1210.08" width="2.09" height="11.40" fill="#e5b42e" stroke="#111" stroke-width="1.1"/>
<line x1="1139.61" y1="1210.08" x2="1139.61" y2="1221.48" stroke="#111" stroke-width="1.1"/>
<circle cx="1137.00" cy="1215.78" r="2.85" fill="#fff" stroke="#111" stroke-width="1.15"/>
<circle cx="1139.09" cy="1215.78" r="2.85" fill="#fff" stroke="#111" stroke-width="1.15"/>
<circle cx="1140.39" cy="1215.78" r="2.85" fill="#fff" stroke="#111" stroke-width="1.15"/>
<circle cx="1141.69" cy="1215.78" r="2.85" fill="#fff" stroke="#111" stroke-width="1.15"/>
<circle cx="1143.78" cy="1215.78" r="2.85" fill="#fff" stroke="#111" stroke-width="1.15"/>
<line x1="1167.77" y1="1235.50" x2="1215.23" y2="1235.50" stroke="#222" stroke-width="1.1"/>
<rect x="1175.07" y="1229.37" width="19.56" height="11.40" fill="#a51d2a" stroke="#111" stroke-width="1.1"/>
<line x1="1183.42" y1="1229.37" x2="1183.42" y2="1240.77" stroke="#111" stroke-width="1.1"/>
<circle cx="1167.77" cy="1235.07" r="2.85" fill="#fff" stroke="#111" stroke-width="1.15"/>
<circle cx="1174.29" cy="1235.07" r="2.85" fill="#fff" stroke="#111" stroke-width="1.15"/>
<circle cx="1180.81" cy="1235.07" r="2.85" fill="#fff" stroke="#111" stroke-width="1.15"/>
<circle cx="1182.89" cy="1235.07" r="2.85" fill="#fff" stroke="#111" stroke-width="1.15"/>
<circle cx="1189.93" cy="1235.07" r="2.85" fill="#fff" stroke="#111" stroke-width="1.15"/>
<circle cx="1191.24" cy="1235.07" r="2.85" fill="#fff" stroke="#111" stroke-width="1.15"/>
<circle cx="1200.89" cy="1235.07" r="2.85" fill="#fff" stroke="#111" stroke-width="1.15"/>
<circle cx="1215.23" cy="1235.07" r="2.85" fill="#fff" stroke="#111" stroke-width="1.15"/>
<line x1="1141.69" y1="1254.50" x2="1169.60" y2="1254.50" stroke="#222" stroke-width="1.1"/>
<rect x="1144.30" y="1248.41" width="9.13" height="11.40" fill="#f0432e" stroke="#111" stroke-width="1.1"/>
<line x1="1148.21" y1="1248.41" x2="1148.21" y2="1259.81" stroke="#111" stroke-width="1.1"/>
<circle cx="1141.69" cy="1254.11" r="2.85" fill="#fff" stroke="#111" stroke-width="1.15"/>
<circle cx="1146.39" cy="1254.11" r="2.85" fill="#fff" stroke="#111" stroke-width="1.15"/>
<circle cx="1149.52" cy="1254.11" r="2.85" fill="#fff" stroke="#111" stroke-width="1.15"/>
<circle cx="1152.13" cy="1254.11" r="2.85" fill="#fff" stroke="#111" stroke-width="1.15"/>
<circle cx="1153.95" cy="1254.11" r="2.85" fill="#fff" stroke="#111" stroke-width="1.15"/>
<circle cx="1156.56" cy="1254.11" r="2.85" fill="#fff" stroke="#111" stroke-width="1.15"/>
<circle cx="1169.60" cy="1254.11" r="2.85" fill="#fff" stroke="#111" stroke-width="1.15"/>
<text x="1520.00" y="945.60" font-size="49.5" font-weight="bold" fill="#222">j</text>
<rect x="1565.20" y="955.25" width="10.40" height="19.46" fill="#5b9c97"/>
<rect x="1565.20" y="974.61" width="10.40" height="19.46" fill="#6fd0c6"/>
<rect x="1565.20" y="993.96" width="10.40" height="19.46" fill="#1f3a72"/>
<rect x="1565.20" y="1013.32" width="10.40" height="19.46" fill="#1466d2"/>
<rect x="1565.20" y="1032.67" width="10.40" height="19.46" fill="#78a4e0"/>
<rect x="1565.20" y="1052.03" width="10.40" height="19.46" fill="#5a2c9a"/>
<rect x="1565.20" y="1071.39" width="10.40" height="19.46" fill="#6c50ac"/>
<rect x="1565.20" y="1090.74" width="10.40" height="19.46" fill="#7f7cc4"/>
<rect x="1565.20" y="1110.10" width="10.40" height="19.46" fill="#0d6b3a"/>
<rect x="1565.20" y="1129.46" width="10.40" height="19.46" fill="#6fc07e"/>
<rect x="1565.20" y="1148.81" width="10.40" height="19.46" fill="#dc5428"/>
<rect x="1565.20" y="1168.17" width="10.40" height="19.46" fill="#f58a48"/>
<rect x="1565.20" y="1187.53" width="10.40" height="19.46" fill="#ef6e2c"/>
<rect x="1565.20" y="1206.88" width="10.40" height="19.46" fill="#e5b42e"/>
<rect x="1565.20" y="1226.24" width="10.40" height="19.46" fill="#a51d2a"/>
<rect x="1565.20" y="1245.59" width="10.40" height="19.46" fill="#f0432e"/>
<line x1="1580.00" y1="952.20" x2="1580.00" y2="1267.65" stroke="#111" stroke-width="1.3"/>
<line x1="1579.35" y1="1267.00" x2="1895.65" y2="1267.00" stroke="#111" stroke-width="1.3"/>
<line x1="1580.00" y1="1267.00" x2="1580.00" y2="1272.50" stroke="#111" stroke-width="1.3"/>
<text x="1580.00" y="1292.40" font-size="18.8" text-anchor="middle">0</text>
<line x1="1685.20" y1="1267.00" x2="1685.20" y2="1272.50" stroke="#111" stroke-width="1.3"/>
<text x="1685.20" y="1292.40" font-size="18.8" text-anchor="middle">10</text>
<line x1="1790.10" y1="1267.00" x2="1790.10" y2="1272.50" stroke="#111" stroke-width="1.3"/>
<text x="1790.10" y="1292.40" font-size="18.8" text-anchor="middle">20</text>
<line x1="1895.00" y1="1267.00" x2="1895.00" y2="1272.50" stroke="#111" stroke-width="1.3"/>
<text x="1895.00" y="1292.40" font-size="18.8" text-anchor="middle">30</text>
<text x="1737.50" y="1314.60" font-size="18.7" font-weight="bold" text-anchor="middle">Proportion of 22:6 within PS (%)</text>
<line x1="1694.78" y1="965.50" x2="1797.78" y2="965.50" stroke="#222" stroke-width="1.1"/>
<rect x="1700.00" y="959.75" width="26.60" height="11.40" fill="#4f8e88" stroke="#111" stroke-width="1.1"/>
<line x1="1712.51" y1="959.75" x2="1712.51" y2="971.15" stroke="#111" stroke-width="1.1"/>
<circle cx="1694.78" cy="965.45" r="2.85" fill="#fff" stroke="#111" stroke-width="1.15"/>
<circle cx="1699.48" cy="965.45" r="2.85" fill="#fff" stroke="#111" stroke-width="1.15"/>
<circle cx="1708.34" cy="965.45" r="2.85" fill="#fff" stroke="#111" stroke-width="1.15"/>
<circle cx="1713.04" cy="965.45" r="2.85" fill="#fff" stroke="#111" stroke-width="1.15"/>
<circle cx="1719.55" cy="965.45" r="2.85" fill="#fff" stroke="#111" stroke-width="1.15"/>
<circle cx="1725.55" cy="965.45" r="2.85" fill="#fff" stroke="#111" stroke-width="1.15"/>
<circle cx="1733.37" cy="965.45" r="2.85" fill="#fff" stroke="#111" stroke-width="1.15"/>
<circle cx="1797.78" cy="965.45" r="2.85" fill="#fff" stroke="#111" stroke-width="1.15"/>
<line x1="1686.18" y1="984.50" x2="1798.30" y2="984.50" stroke="#222" stroke-width="1.1"/>
<rect x="1705.21" y="979.05" width="44.33" height="11.40" fill="#6fd0c6" stroke="#111" stroke-width="1.1"/>
<line x1="1722.16" y1="979.05" x2="1722.16" y2="990.45" stroke="#111" stroke-width="1.1"/>
<circle cx="1686.18" cy="984.75" r="2.85" fill="#fff" stroke="#111" stroke-width="1.15"/>
<circle cx="1693.48" cy="984.75" r="2.85" fill="#fff" stroke="#111" stroke-width="1.15"/>
<circle cx="1701.82" cy="984.75" r="2.85" fill="#fff" stroke="#111" stroke-width="1.15"/>
<circle cx="1708.34" cy="984.75" r="2.85" fill="#fff" stroke="#111" stroke-width="1.15"/>
<circle cx="1718.77" cy="984.75" r="2.85" fill="#fff" stroke="#111" stroke-width="1.15"/>
<circle cx="1722.68" cy="984.75" r="2.85" fill="#fff" stroke="#111" stroke-width="1.15"/>
<circle cx="1742.24" cy="984.75" r="2.85" fill="#fff" stroke="#111" stroke-width="1.15"/>
<circle cx="1757.89" cy="984.75" r="2.85" fill="#fff" stroke="#111" stroke-width="1.15"/>
<circle cx="1791.26" cy="984.75" r="2.85" fill="#fff" stroke="#111" stroke-width="1.15"/>
<circle cx="1798.30" cy="984.75" r="2.85" fill="#fff" stroke="#111" stroke-width="1.15"/>
<line x1="1640.02" y1="1004.50" x2="1735.98" y2="1004.50" stroke="#222" stroke-width="1.1"/>
<rect x="1657.75" y="998.34" width="23.99" height="11.40" fill="#1f3a72" stroke="#111" stroke-width="1.1"/>
<line x1="1668.19" y1="998.34" x2="1668.19" y2="1009.74" stroke="#111" stroke-width="1.1"/>
<circle cx="1640.02" cy="1004.04" r="2.85" fill="#fff" stroke="#111" stroke-width="1.15"/>
<circle cx="1655.67" cy="1004.04" r="2.85" fill="#fff" stroke="#111" stroke-width="1.15"/>
<circle cx="1660.88" cy="1004.04" r="2.85" fill="#fff" stroke="#111" stroke-width="1.15"/>
<circle cx="1664.80" cy="1004.04" r="2.85" fill="#fff" stroke="#111" stroke-width="1.15"/>
<circle cx="1669.23" cy="1004.04" r="2.85" fill="#fff" stroke="#111" stroke-width="1.15"/>
<circle cx="1671.31" cy="1004.04" r="2.85" fill="#fff" stroke="#111" stroke-width="1.15"/>
<circle cx="1679.92" cy="1004.04" r="2.85" fill="#fff" stroke="#111" stroke-width="1.15"/>
<circle cx="1684.87" cy="1004.04" r="2.85" fill="#fff" stroke="#111" stroke-width="1.15"/>
<circle cx="1694.00" cy="1004.04" r="2.85" fill="#fff" stroke="#111" stroke-width="1.15"/>
<circle cx="1735.98" cy="1004.04" r="2.85" fill="#fff" stroke="#111" stroke-width="1.15"/>
<line x1="1637.68" y1="1023.50" x2="1765.19" y2="1023.50" stroke="#222" stroke-width="1.1"/>
<rect x="1656.97" y="1017.64" width="41.72" height="11.40" fill="#1466d2" stroke="#111" stroke-width="1.1"/>
<line x1="1673.14" y1="1017.64" x2="1673.14" y2="1029.04" stroke="#111" stroke-width="1.1"/>
<circle cx="1637.68" cy="1023.34" r="2.85" fill="#fff" stroke="#111" stroke-width="1.15"/>
<circle cx="1653.84" cy="1023.34" r="2.85" fill="#fff" stroke="#111" stroke-width="1.15"/>
<circle cx="1656.19" cy="1023.34" r="2.85" fill="#fff" stroke="#111" stroke-width="1.15"/>
<circle cx="1665.58" cy="1023.34" r="2.85" fill="#fff" stroke="#111" stroke-width="1.15"/>
<circle cx="1679.66" cy="1023.34" r="2.85" fill="#fff" stroke="#111" stroke-width="1.15"/>
<circle cx="1684.35" cy="1023.34" r="2.85" fill="#fff" stroke="#111" stroke-width="1.15"/>
<circle cx="1700.00" cy="1023.34" r="2.85" fill="#fff" stroke="#111" stroke-width="1.15"/>
<circle cx="1765.19" cy="1023.34" r="2.85" fill="#fff" stroke="#111" stroke-width="1.15"/>
<line x1="1656.97" y1="1042.50" x2="1792.04" y2="1042.50" stroke="#222" stroke-width="1.1"/>
<rect x="1673.40" y="1036.93" width="44.85" height="11.40" fill="#78a4e0" stroke="#111" stroke-width="1.1"/>
<line x1="1700.52" y1="1036.93" x2="1700.52" y2="1048.33" stroke="#111" stroke-width="1.1"/>
<circle cx="1656.97" cy="1042.63" r="2.85" fill="#fff" stroke="#111" stroke-width="1.15"/>
<circle cx="1657.75" cy="1042.63" r="2.85" fill="#fff" stroke="#111" stroke-width="1.15"/>
<circle cx="1668.19" cy="1042.63" r="2.85" fill="#fff" stroke="#111" stroke-width="1.15"/>
<circle cx="1677.31" cy="1042.63" r="2.85" fill="#fff" stroke="#111" stroke-width="1.15"/>
<circle cx="1693.48" cy="1042.63" r="2.85" fill="#fff" stroke="#111" stroke-width="1.15"/>
<circle cx="1700.00" cy="1042.63" r="2.85" fill="#fff" stroke="#111" stroke-width="1.15"/>
<circle cx="1704.69" cy="1042.63" r="2.85" fill="#fff" stroke="#111" stroke-width="1.15"/>
<circle cx="1709.65" cy="1042.63" r="2.85" fill="#fff" stroke="#111" stroke-width="1.15"/>
<circle cx="1726.07" cy="1042.63" r="2.85" fill="#fff" stroke="#111" stroke-width="1.15"/>
<circle cx="1731.81" cy="1042.63" r="2.85" fill="#fff" stroke="#111" stroke-width="1.15"/>
<circle cx="1792.04" cy="1042.63" r="2.85" fill="#fff" stroke="#111" stroke-width="1.15"/>
<line x1="1650.98" y1="1061.50" x2="1757.89" y2="1061.50" stroke="#222" stroke-width="1.1"/>
<rect x="1670.01" y="1056.23" width="43.55" height="11.40" fill="#5a2c9a" stroke="#111" stroke-width="1.1"/>
<line x1="1683.05" y1="1056.23" x2="1683.05" y2="1067.63" stroke="#111" stroke-width="1.1"/>
<circle cx="1650.98" cy="1061.93" r="2.85" fill="#fff" stroke="#111" stroke-width="1.15"/>
<circle cx="1659.06" cy="1061.93" r="2.85" fill="#fff" stroke="#111" stroke-width="1.15"/>
<circle cx="1664.80" cy="1061.93" r="2.85" fill="#fff" stroke="#111" stroke-width="1.15"/>
<circle cx="1671.31" cy="1061.93" r="2.85" fill="#fff" stroke="#111" stroke-width="1.15"/>
<circle cx="1676.53" cy="1061.93" r="2.85" fill="#fff" stroke="#111" stroke-width="1.15"/>
<circle cx="1682.53" cy="1061.93" r="2.85" fill="#fff" stroke="#111" stroke-width="1.15"/>
<circle cx="1685.13" cy="1061.93" r="2.85" fill="#fff" stroke="#111" stroke-width="1.15"/>
<circle cx="1709.12" cy="1061.93" r="2.85" fill="#fff" stroke="#111" stroke-width="1.15"/>
<circle cx="1728.16" cy="1061.93" r="2.85" fill="#fff" stroke="#111" stroke-width="1.15"/>
<circle cx="1746.93" cy="1061.93" r="2.85" fill="#fff" stroke="#111" stroke-width="1.15"/>
<circle cx="1757.89" cy="1061.93" r="2.85" fill="#fff" stroke="#111" stroke-width="1.15"/>
<line x1="1649.93" y1="1081.50" x2="1757.89" y2="1081.50" stroke="#222" stroke-width="1.1"/>
<rect x="1681.74" y="1075.53" width="22.69" height="11.40" fill="#6c50ac" stroke="#111" stroke-width="1.1"/>
<line x1="1691.39" y1="1075.53" x2="1691.39" y2="1086.93" stroke="#111" stroke-width="1.1"/>
<circle cx="1649.93" cy="1081.23" r="2.85" fill="#fff" stroke="#111" stroke-width="1.15"/>
<circle cx="1663.49" cy="1081.23" r="2.85" fill="#fff" stroke="#111" stroke-width="1.15"/>
<circle cx="1679.14" cy="1081.23" r="2.85" fill="#fff" stroke="#111" stroke-width="1.15"/>
<circle cx="1686.96" cy="1081.23" r="2.85" fill="#fff" stroke="#111" stroke-width="1.15"/>
<circle cx="1691.65" cy="1081.23" r="2.85" fill="#fff" stroke="#111" stroke-width="1.15"/>
<circle cx="1697.39" cy="1081.23" r="2.85" fill="#fff" stroke="#111" stroke-width="1.15"/>
<circle cx="1703.91" cy="1081.23" r="2.85" fill="#fff" stroke="#111" stroke-width="1.15"/>
<circle cx="1707.82" cy="1081.23" r="2.85" fill="#fff" stroke="#111" stroke-width="1.15"/>
<circle cx="1757.89" cy="1081.23" r="2.85" fill="#fff" stroke="#111" stroke-width="1.15"/>
<line x1="1658.80" y1="1100.50" x2="1834.29" y2="1100.50" stroke="#222" stroke-width="1.1"/>
<rect x="1684.35" y="1094.56" width="59.45" height="11.40" fill="#7f7cc4" stroke="#111" stroke-width="1.1"/>
<line x1="1701.82" y1="1094.56" x2="1701.82" y2="1105.96" stroke="#111" stroke-width="1.1"/>
<circle cx="1658.80" cy="1100.26" r="2.85" fill="#fff" stroke="#111" stroke-width="1.15"/>
<circle cx="1664.01" cy="1100.26" r="2.85" fill="#fff" stroke="#111" stroke-width="1.15"/>
<circle cx="1673.92" cy="1100.26" r="2.85" fill="#fff" stroke="#111" stroke-width="1.15"/>
<circle cx="1694.00" cy="1100.26" r="2.85" fill="#fff" stroke="#111" stroke-width="1.15"/>
<circle cx="1700.78" cy="1100.26" r="2.85" fill="#fff" stroke="#111" stroke-width="1.15"/>
<circle cx="1701.82" cy="1100.26" r="2.85" fill="#fff" stroke="#111" stroke-width="1.15"/>
<circle cx="1722.94" cy="1100.26" r="2.85" fill="#fff" stroke="#111" stroke-width="1.15"/>
<circle cx="1732.59" cy="1100.26" r="2.85" fill="#fff" stroke="#111" stroke-width="1.15"/>
<circle cx="1737.02" cy="1100.26" r="2.85" fill="#fff" stroke="#111" stroke-width="1.15"/>
<circle cx="1751.37" cy="1100.26" r="2.85" fill="#fff" stroke="#111" stroke-width="1.15"/>
<circle cx="1821.25" cy="1100.26" r="2.85" fill="#fff" stroke="#111" stroke-width="1.15"/>
<circle cx="1834.29" cy="1100.26" r="2.85" fill="#fff" stroke="#111" stroke-width="1.15"/>
<line x1="1685.66" y1="1119.50" x2="1815.51" y2="1119.50" stroke="#222" stroke-width="1.1"/>
<rect x="1702.60" y="1113.86" width="52.93" height="11.40" fill="#0d6b3a" stroke="#111" stroke-width="1.1"/>
<line x1="1718.25" y1="1113.86" x2="1718.25" y2="1125.26" stroke="#111" stroke-width="1.1"/>
<circle cx="1685.66" cy="1119.56" r="2.85" fill="#fff" stroke="#111" stroke-width="1.15"/>
<circle cx="1689.57" cy="1119.56" r="2.85" fill="#fff" stroke="#111" stroke-width="1.15"/>
<circle cx="1700.78" cy="1119.56" r="2.85" fill="#fff" stroke="#111" stroke-width="1.15"/>
<circle cx="1705.21" cy="1119.56" r="2.85" fill="#fff" stroke="#111" stroke-width="1.15"/>
<circle cx="1710.43" cy="1119.56" r="2.85" fill="#fff" stroke="#111" stroke-width="1.15"/>
<circle cx="1724.77" cy="1119.56" r="2.85" fill="#fff" stroke="#111" stroke-width="1.15"/>
<circle cx="1748.24" cy="1119.56" r="2.85" fill="#fff" stroke="#111" stroke-width="1.15"/>
<circle cx="1758.67" cy="1119.56" r="2.85" fill="#fff" stroke="#111" stroke-width="1.15"/>
<circle cx="1785.53" cy="1119.56" r="2.85" fill="#fff" stroke="#111" stroke-width="1.15"/>
<circle cx="1815.51" cy="1119.56" r="2.85" fill="#fff" stroke="#111" stroke-width="1.15"/>
<line x1="1665.58" y1="1138.50" x2="1788.65" y2="1138.50" stroke="#222" stroke-width="1.1"/>
<rect x="1684.87" y="1132.89" width="36.51" height="11.40" fill="#6fc07e" stroke="#111" stroke-width="1.1"/>
<line x1="1709.12" y1="1132.89" x2="1709.12" y2="1144.29" stroke="#111" stroke-width="1.1"/>
<circle cx="1665.58" cy="1138.59" r="2.85" fill="#fff" stroke="#111" stroke-width="1.15"/>
<circle cx="1677.31" cy="1138.59" r="2.85" fill="#fff" stroke="#111" stroke-width="1.15"/>
<circle cx="1681.74" cy="1138.59" r="2.85" fill="#fff" stroke="#111" stroke-width="1.15"/>
<circle cx="1691.39" cy="1138.59" r="2.85" fill="#fff" stroke="#111" stroke-width="1.15"/>
<circle cx="1702.60" cy="1138.59" r="2.85" fill="#fff" stroke="#111" stroke-width="1.15"/>
<circle cx="1704.69" cy="1138.59" r="2.85" fill="#fff" stroke="#111" stroke-width="1.15"/>
<circle cx="1710.43" cy="1138.59" r="2.85" fill="#fff" stroke="#111" stroke-width="1.15"/>
<circle cx="1715.12" cy="1138.59" r="2.85" fill="#fff" stroke="#111" stroke-width="1.15"/>
<circle cx="1720.86" cy="1138.59" r="2.85" fill="#fff" stroke="#111" stroke-width="1.15"/>
<circle cx="1752.93" cy="1138.59" r="2.85" fill="#fff" stroke="#111" stroke-width="1.15"/>
<circle cx="1788.65" cy="1138.59" r="2.85" fill="#fff" stroke="#111" stroke-width="1.15"/>
<line x1="1648.37" y1="1158.50" x2="1718.25" y2="1158.50" stroke="#222" stroke-width="1.1"/>
<rect x="1658.28" y="1152.45" width="16.95" height="11.40" fill="#dc5428" stroke="#111" stroke-width="1.1"/>
<line x1="1668.19" y1="1152.45" x2="1668.19" y2="1163.85" stroke="#111" stroke-width="1.1"/>
<circle cx="1648.37" cy="1158.15" r="2.85" fill="#fff" stroke="#111" stroke-width="1.15"/>
<circle cx="1653.06" cy="1158.15" r="2.85" fill="#fff" stroke="#111" stroke-width="1.15"/>
<circle cx="1660.88" cy="1158.15" r="2.85" fill="#fff" stroke="#111" stroke-width="1.15"/>
<circle cx="1667.40" cy="1158.15" r="2.85" fill="#fff" stroke="#111" stroke-width="1.15"/>
<circle cx="1671.31" cy="1158.15" r="2.85" fill="#fff" stroke="#111" stroke-width="1.15"/>
<circle cx="1673.92" cy="1158.15" r="2.85" fill="#fff" stroke="#111" stroke-width="1.15"/>
<circle cx="1678.62" cy="1158.15" r="2.85" fill="#fff" stroke="#111" stroke-width="1.15"/>
<circle cx="1692.70" cy="1158.15" r="2.85" fill="#fff" stroke="#111" stroke-width="1.15"/>
<circle cx="1718.25" cy="1158.15" r="2.85" fill="#fff" stroke="#111" stroke-width="1.15"/>
<line x1="1679.14" y1="1177.50" x2="1746.93" y2="1177.50" stroke="#222" stroke-width="1.1"/>
<rect x="1690.35" y="1171.48" width="37.81" height="11.40" fill="#f58a48" stroke="#111" stroke-width="1.1"/>
<line x1="1706.52" y1="1171.48" x2="1706.52" y2="1182.88" stroke="#111" stroke-width="1.1"/>
<circle cx="1679.14" cy="1177.18" r="2.85" fill="#fff" stroke="#111" stroke-width="1.15"/>
<circle cx="1684.35" cy="1177.18" r="2.85" fill="#fff" stroke="#111" stroke-width="1.15"/>
<circle cx="1690.35" cy="1177.18" r="2.85" fill="#fff" stroke="#111" stroke-width="1.15"/>
<circle cx="1702.60" cy="1177.18" r="2.85" fill="#fff" stroke="#111" stroke-width="1.15"/>
<circle cx="1708.34" cy="1177.18" r="2.85" fill="#fff" stroke="#111" stroke-width="1.15"/>
<circle cx="1719.55" cy="1177.18" r="2.85" fill="#fff" stroke="#111" stroke-width="1.15"/>
<circle cx="1722.68" cy="1177.18" r="2.85" fill="#fff" stroke="#111" stroke-width="1.15"/>
<circle cx="1729.98" cy="1177.18" r="2.85" fill="#fff" stroke="#111" stroke-width="1.15"/>
<circle cx="1737.02" cy="1177.18" r="2.85" fill="#fff" stroke="#111" stroke-width="1.15"/>
<circle cx="1746.93" cy="1177.18" r="2.85" fill="#fff" stroke="#111" stroke-width="1.15"/>
<line x1="1692.17" y1="1196.50" x2="1792.57" y2="1196.50" stroke="#222" stroke-width="1.1"/>
<rect x="1702.08" y="1190.78" width="26.08" height="11.40" fill="#ef6e2c" stroke="#111" stroke-width="1.1"/>
<line x1="1722.68" y1="1190.78" x2="1722.68" y2="1202.18" stroke="#111" stroke-width="1.1"/>
<circle cx="1692.17" cy="1196.48" r="2.85" fill="#fff" stroke="#111" stroke-width="1.15"/>
<circle cx="1699.22" cy="1196.48" r="2.85" fill="#fff" stroke="#111" stroke-width="1.15"/>
<circle cx="1705.99" cy="1196.48" r="2.85" fill="#fff" stroke="#111" stroke-width="1.15"/>
<circle cx="1707.82" cy="1196.48" r="2.85" fill="#fff" stroke="#111" stroke-width="1.15"/>
<circle cx="1722.68" cy="1196.48" r="2.85" fill="#fff" stroke="#111" stroke-width="1.15"/>
<circle cx="1726.07" cy="1196.48" r="2.85" fill="#fff" stroke="#111" stroke-width="1.15"/>
<circle cx="1730.77" cy="1196.48" r="2.85" fill="#fff" stroke="#111" stroke-width="1.15"/>
<circle cx="1774.83" cy="1196.48" r="2.85" fill="#fff" stroke="#111" stroke-width="1.15"/>
<circle cx="1792.57" cy="1196.48" r="2.85" fill="#fff" stroke="#111" stroke-width="1.15"/>
<line x1="1582.66" y1="1215.50" x2="1598.30" y2="1215.50" stroke="#222" stroke-width="1.1"/>
<rect x="1585.26" y="1210.08" width="2.61" height="11.40" fill="#e5b42e" stroke="#111" stroke-width="1.1"/>
<line x1="1586.57" y1="1210.08" x2="1586.57" y2="1221.48" stroke="#111" stroke-width="1.1"/>
<circle cx="1582.66" cy="1215.78" r="2.85" fill="#fff" stroke="#111" stroke-width="1.15"/>
<circle cx="1584.74" cy="1215.78" r="2.85" fill="#fff" stroke="#111" stroke-width="1.15"/>
<circle cx="1587.35" cy="1215.78" r="2.85" fill="#fff" stroke="#111" stroke-width="1.15"/>
<circle cx="1589.18" cy="1215.78" r="2.85" fill="#fff" stroke="#111" stroke-width="1.15"/>
<circle cx="1591.00" cy="1215.78" r="2.85" fill="#fff" stroke="#111" stroke-width="1.15"/>
<circle cx="1598.30" cy="1215.78" r="2.85" fill="#fff" stroke="#111" stroke-width="1.15"/>
<line x1="1603.52" y1="1235.50" x2="1662.19" y2="1235.50" stroke="#222" stroke-width="1.1"/>
<rect x="1608.21" y="1229.37" width="14.08" height="11.40" fill="#a51d2a" stroke="#111" stroke-width="1.1"/>
<line x1="1613.95" y1="1229.37" x2="1613.95" y2="1240.77" stroke="#111" stroke-width="1.1"/>
<circle cx="1603.52" cy="1235.07" r="2.85" fill="#fff" stroke="#111" stroke-width="1.15"/>
<circle cx="1606.65" cy="1235.07" r="2.85" fill="#fff" stroke="#111" stroke-width="1.15"/>
<circle cx="1610.04" cy="1235.07" r="2.85" fill="#fff" stroke="#111" stroke-width="1.15"/>
<circle cx="1614.47" cy="1235.07" r="2.85" fill="#fff" stroke="#111" stroke-width="1.15"/>
<circle cx="1619.16" cy="1235.07" r="2.85" fill="#fff" stroke="#111" stroke-width="1.15"/>
<circle cx="1625.68" cy="1235.07" r="2.85" fill="#fff" stroke="#111" stroke-width="1.15"/>
<circle cx="1660.88" cy="1235.07" r="2.85" fill="#fff" stroke="#111" stroke-width="1.15"/>
<circle cx="1662.19" cy="1235.07" r="2.85" fill="#fff" stroke="#111" stroke-width="1.15"/>
<line x1="1582.14" y1="1254.50" x2="1592.31" y2="1254.50" stroke="#222" stroke-width="1.1"/>
<rect x="1583.44" y="1248.41" width="1.83" height="11.40" fill="#f0432e" stroke="#111" stroke-width="1.1"/>
<line x1="1584.48" y1="1248.41" x2="1584.48" y2="1259.81" stroke="#111" stroke-width="1.1"/>
<circle cx="1582.14" cy="1254.11" r="2.85" fill="#fff" stroke="#111" stroke-width="1.15"/>
<circle cx="1583.96" cy="1254.11" r="2.85" fill="#fff" stroke="#111" stroke-width="1.15"/>
<circle cx="1585.79" cy="1254.11" r="2.85" fill="#fff" stroke="#111" stroke-width="1.15"/>
<circle cx="1587.09" cy="1254.11" r="2.85" fill="#fff" stroke="#111" stroke-width="1.15"/>
<circle cx="1592.31" cy="1254.11" r="2.85" fill="#fff" stroke="#111" stroke-width="1.15"/>
<text x="16.60" y="1419.10" font-size="49.5" font-weight="bold" fill="#222">k</text>
<rect x="209.80" y="1429.95" width="10.50" height="38.53" fill="#6cc9c0"/>
<rect x="209.80" y="1468.38" width="10.50" height="38.53" fill="#18519c"/>
<rect x="209.80" y="1506.80" width="10.50" height="38.53" fill="#5a2d96"/>
<rect x="209.80" y="1545.23" width="10.50" height="38.53" fill="#72c17c"/>
<rect x="209.80" y="1583.65" width="10.50" height="38.53" fill="#f8a80e"/>
<rect x="209.80" y="1622.08" width="10.50" height="38.53" fill="#f6742a"/>
<rect x="209.80" y="1660.50" width="10.50" height="38.53" fill="#a01c2a"/>
<rect x="209.80" y="1698.93" width="10.50" height="38.53" fill="#f83a1e"/>
<line x1="224.60" y1="1426.70" x2="224.60" y2="1743.25" stroke="#111" stroke-width="1.3"/>
<line x1="223.95" y1="1742.60" x2="540.85" y2="1742.60" stroke="#111" stroke-width="1.3"/>
<line x1="224.60" y1="1742.60" x2="224.60" y2="1748.10" stroke="#111" stroke-width="1.3"/>
<text x="224.60" y="1768.30" font-size="18.8" text-anchor="middle">0</text>
<line x1="329.80" y1="1742.60" x2="329.80" y2="1748.10" stroke="#111" stroke-width="1.3"/>
<text x="329.80" y="1768.30" font-size="18.8" text-anchor="middle">5</text>
<line x1="435.00" y1="1742.60" x2="435.00" y2="1748.10" stroke="#111" stroke-width="1.3"/>
<text x="435.00" y="1768.30" font-size="18.8" text-anchor="middle">10</text>
<line x1="540.20" y1="1742.60" x2="540.20" y2="1748.10" stroke="#111" stroke-width="1.3"/>
<text x="540.20" y="1768.30" font-size="18.8" text-anchor="middle">15</text>
<text x="382.40" y="1791.00" font-size="18.7" font-weight="bold" text-anchor="middle">Proportion of 20:4 within diacyl PC (%)</text>
<text x="205.30" y="1458.10" font-size="16.40" text-anchor="end"><tspan>B Cells</tspan></text>
<text x="205.30" y="1495.97" font-size="16.40" text-anchor="end"><tspan>CD4 T Cells</tspan></text>
<text x="205.30" y="1533.84" font-size="16.40" text-anchor="end"><tspan>CD8 T Cells</tspan></text>
<text x="205.30" y="1571.71" font-size="16.40" text-anchor="end"><tspan>NK Cells</tspan></text>
<text x="205.30" y="1609.58" font-size="16.40" text-anchor="end"><tspan>Ly6C</tspan><tspan font-size="12.14" dy="-4.92">hi</tspan><tspan dy="4.92"> monocytes</tspan></text>
<text x="205.30" y="1647.45" font-size="16.40" text-anchor="end"><tspan>Ly6C</tspan><tspan font-size="12.14" dy="-4.92">lo</tspan><tspan dy="4.92"> monocytes</tspan></text>
<text x="205.30" y="1685.32" font-size="16.40" text-anchor="end"><tspan>Eosinophils</tspan></text>
<text x="205.30" y="1723.19" font-size="16.40" text-anchor="end"><tspan>Neutrophils</tspan></text>
<line x1="344.58" y1="1452.50" x2="442.23" y2="1452.50" stroke="#222" stroke-width="1.1"/>
<line x1="344.58" y1="1446.70" x2="344.58" y2="1457.90" stroke="#222" stroke-width="1.1"/>
<line x1="442.23" y1="1446.70" x2="442.23" y2="1457.90" stroke="#222" stroke-width="1.1"/>
<rect x="387.32" y="1440.45" width="23.02" height="23.70" fill="#6cc9c0" stroke="#111" stroke-width="1.1"/>
<line x1="403.43" y1="1440.45" x2="403.43" y2="1464.15" stroke="#111" stroke-width="1.1"/>
<circle cx="344.58" cy="1452.30" r="2.85" fill="#fff" stroke="#111" stroke-width="1.15"/>
<circle cx="383.05" cy="1452.30" r="2.85" fill="#fff" stroke="#111" stroke-width="1.15"/>
<circle cx="397.84" cy="1452.30" r="2.85" fill="#fff" stroke="#111" stroke-width="1.15"/>
<circle cx="401.79" cy="1452.30" r="2.85" fill="#fff" stroke="#111" stroke-width="1.15"/>
<circle cx="406.06" cy="1452.30" r="2.85" fill="#fff" stroke="#111" stroke-width="1.15"/>
<circle cx="410.34" cy="1452.30" r="2.85" fill="#fff" stroke="#111" stroke-width="1.15"/>
<circle cx="442.23" cy="1452.30" r="2.85" fill="#fff" stroke="#111" stroke-width="1.15"/>
<line x1="347.54" y1="1490.50" x2="451.44" y2="1490.50" stroke="#222" stroke-width="1.1"/>
<line x1="347.54" y1="1484.57" x2="347.54" y2="1495.77" stroke="#222" stroke-width="1.1"/>
<line x1="451.44" y1="1484.57" x2="451.44" y2="1495.77" stroke="#222" stroke-width="1.1"/>
<rect x="374.83" y="1478.32" width="61.48" height="23.70" fill="#18519c" stroke="#111" stroke-width="1.1"/>
<line x1="399.49" y1="1478.32" x2="399.49" y2="1502.02" stroke="#111" stroke-width="1.1"/>
<circle cx="347.54" cy="1490.17" r="2.85" fill="#fff" stroke="#111" stroke-width="1.15"/>
<circle cx="362.33" cy="1490.17" r="2.85" fill="#fff" stroke="#111" stroke-width="1.15"/>
<circle cx="386.34" cy="1490.17" r="2.85" fill="#fff" stroke="#111" stroke-width="1.15"/>
<circle cx="395.21" cy="1490.17" r="2.85" fill="#fff" stroke="#111" stroke-width="1.15"/>
<circle cx="399.49" cy="1490.17" r="2.85" fill="#fff" stroke="#111" stroke-width="1.15"/>
<circle cx="409.35" cy="1490.17" r="2.85" fill="#fff" stroke="#111" stroke-width="1.15"/>
<circle cx="434.67" cy="1490.17" r="2.85" fill="#fff" stroke="#111" stroke-width="1.15"/>
<circle cx="438.94" cy="1490.17" r="2.85" fill="#fff" stroke="#111" stroke-width="1.15"/>
<circle cx="451.44" cy="1490.17" r="2.85" fill="#fff" stroke="#111" stroke-width="1.15"/>
<line x1="385.35" y1="1528.50" x2="474.12" y2="1528.50" stroke="#222" stroke-width="1.1"/>
<line x1="385.35" y1="1522.44" x2="385.35" y2="1533.64" stroke="#222" stroke-width="1.1"/>
<line x1="474.12" y1="1522.44" x2="474.12" y2="1533.64" stroke="#222" stroke-width="1.1"/>
<rect x="387.32" y="1516.19" width="68.06" height="23.70" fill="#5a2d96" stroke="#111" stroke-width="1.1"/>
<line x1="412.64" y1="1516.19" x2="412.64" y2="1539.89" stroke="#111" stroke-width="1.1"/>
<circle cx="385.35" cy="1528.04" r="2.85" fill="#fff" stroke="#111" stroke-width="1.15"/>
<circle cx="389.62" cy="1528.04" r="2.85" fill="#fff" stroke="#111" stroke-width="1.15"/>
<circle cx="392.91" cy="1528.04" r="2.85" fill="#fff" stroke="#111" stroke-width="1.15"/>
<circle cx="431.38" cy="1528.04" r="2.85" fill="#fff" stroke="#111" stroke-width="1.15"/>
<circle cx="439.60" cy="1528.04" r="2.85" fill="#fff" stroke="#111" stroke-width="1.15"/>
<circle cx="461.96" cy="1528.04" r="2.85" fill="#fff" stroke="#111" stroke-width="1.15"/>
<circle cx="474.12" cy="1528.04" r="2.85" fill="#fff" stroke="#111" stroke-width="1.15"/>
<line x1="272.90" y1="1565.50" x2="441.57" y2="1565.50" stroke="#222" stroke-width="1.1"/>
<line x1="272.90" y1="1560.31" x2="272.90" y2="1571.51" stroke="#222" stroke-width="1.1"/>
<line x1="441.57" y1="1560.31" x2="441.57" y2="1571.51" stroke="#222" stroke-width="1.1"/>
<rect x="392.25" y="1554.06" width="42.41" height="23.70" fill="#72c17c" stroke="#111" stroke-width="1.1"/>
<line x1="410.99" y1="1554.06" x2="410.99" y2="1577.76" stroke="#111" stroke-width="1.1"/>
<circle cx="272.90" cy="1565.91" r="2.85" fill="#fff" stroke="#111" stroke-width="1.15"/>
<circle cx="383.05" cy="1565.91" r="2.85" fill="#fff" stroke="#111" stroke-width="1.15"/>
<circle cx="400.14" cy="1565.91" r="2.85" fill="#fff" stroke="#111" stroke-width="1.15"/>
<circle cx="407.71" cy="1565.91" r="2.85" fill="#fff" stroke="#111" stroke-width="1.15"/>
<circle cx="419.21" cy="1565.91" r="2.85" fill="#fff" stroke="#111" stroke-width="1.15"/>
<circle cx="422.50" cy="1565.91" r="2.85" fill="#fff" stroke="#111" stroke-width="1.15"/>
<circle cx="429.74" cy="1565.91" r="2.85" fill="#fff" stroke="#111" stroke-width="1.15"/>
<circle cx="440.59" cy="1565.91" r="2.85" fill="#fff" stroke="#111" stroke-width="1.15"/>
<circle cx="441.57" cy="1565.91" r="2.85" fill="#fff" stroke="#111" stroke-width="1.15"/>
<line x1="307.42" y1="1603.50" x2="373.18" y2="1603.50" stroke="#222" stroke-width="1.1"/>
<line x1="307.42" y1="1598.18" x2="307.42" y2="1609.38" stroke="#222" stroke-width="1.1"/>
<line x1="373.18" y1="1598.18" x2="373.18" y2="1609.38" stroke="#222" stroke-width="1.1"/>
<rect x="324.19" y="1591.93" width="33.54" height="23.70" fill="#f8a80e" stroke="#111" stroke-width="1.1"/>
<line x1="339.32" y1="1591.93" x2="339.32" y2="1615.63" stroke="#111" stroke-width="1.1"/>
<circle cx="307.42" cy="1603.78" r="2.85" fill="#fff" stroke="#111" stroke-width="1.15"/>
<circle cx="318.93" cy="1603.78" r="2.85" fill="#fff" stroke="#111" stroke-width="1.15"/>
<circle cx="324.85" cy="1603.78" r="2.85" fill="#fff" stroke="#111" stroke-width="1.15"/>
<circle cx="338.66" cy="1603.78" r="2.85" fill="#fff" stroke="#111" stroke-width="1.15"/>
<circle cx="345.24" cy="1603.78" r="2.85" fill="#fff" stroke="#111" stroke-width="1.15"/>
<circle cx="355.76" cy="1603.78" r="2.85" fill="#fff" stroke="#111" stroke-width="1.15"/>
<circle cx="365.62" cy="1603.78" r="2.85" fill="#fff" stroke="#111" stroke-width="1.15"/>
<circle cx="373.18" cy="1603.78" r="2.85" fill="#fff" stroke="#111" stroke-width="1.15"/>
<line x1="328.80" y1="1641.50" x2="396.86" y2="1641.50" stroke="#222" stroke-width="1.1"/>
<line x1="328.80" y1="1636.05" x2="328.80" y2="1647.25" stroke="#222" stroke-width="1.1"/>
<line x1="396.86" y1="1636.05" x2="396.86" y2="1647.25" stroke="#222" stroke-width="1.1"/>
<rect x="344.25" y="1629.80" width="38.47" height="23.70" fill="#f6742a" stroke="#111" stroke-width="1.1"/>
<line x1="357.40" y1="1629.80" x2="357.40" y2="1653.50" stroke="#111" stroke-width="1.1"/>
<circle cx="328.80" cy="1641.65" r="2.85" fill="#fff" stroke="#111" stroke-width="1.15"/>
<circle cx="340.96" cy="1641.65" r="2.85" fill="#fff" stroke="#111" stroke-width="1.15"/>
<circle cx="346.88" cy="1641.65" r="2.85" fill="#fff" stroke="#111" stroke-width="1.15"/>
<circle cx="351.15" cy="1641.65" r="2.85" fill="#fff" stroke="#111" stroke-width="1.15"/>
<circle cx="357.40" cy="1641.65" r="2.85" fill="#fff" stroke="#111" stroke-width="1.15"/>
<circle cx="371.54" cy="1641.65" r="2.85" fill="#fff" stroke="#111" stroke-width="1.15"/>
<circle cx="394.56" cy="1641.65" r="2.85" fill="#fff" stroke="#111" stroke-width="1.15"/>
<circle cx="396.86" cy="1641.65" r="2.85" fill="#fff" stroke="#111" stroke-width="1.15"/>
<line x1="248.24" y1="1679.50" x2="363.98" y2="1679.50" stroke="#222" stroke-width="1.1"/>
<line x1="248.24" y1="1673.92" x2="248.24" y2="1685.12" stroke="#222" stroke-width="1.1"/>
<line x1="363.98" y1="1673.92" x2="363.98" y2="1685.12" stroke="#222" stroke-width="1.1"/>
<rect x="259.75" y="1667.67" width="26.63" height="23.70" fill="#a01c2a" stroke="#111" stroke-width="1.1"/>
<line x1="279.48" y1="1667.67" x2="279.48" y2="1691.37" stroke="#111" stroke-width="1.1"/>
<circle cx="248.24" cy="1679.52" r="2.85" fill="#fff" stroke="#111" stroke-width="1.15"/>
<circle cx="259.09" cy="1679.52" r="2.85" fill="#fff" stroke="#111" stroke-width="1.15"/>
<circle cx="269.61" cy="1679.52" r="2.85" fill="#fff" stroke="#111" stroke-width="1.15"/>
<circle cx="278.82" cy="1679.52" r="2.85" fill="#fff" stroke="#111" stroke-width="1.15"/>
<circle cx="282.76" cy="1679.52" r="2.85" fill="#fff" stroke="#111" stroke-width="1.15"/>
<circle cx="290.98" cy="1679.52" r="2.85" fill="#fff" stroke="#111" stroke-width="1.15"/>
<circle cx="363.98" cy="1679.52" r="2.85" fill="#fff" stroke="#111" stroke-width="1.15"/>
<line x1="231.14" y1="1717.50" x2="283.42" y2="1717.50" stroke="#222" stroke-width="1.1"/>
<line x1="231.14" y1="1711.79" x2="231.14" y2="1722.99" stroke="#222" stroke-width="1.1"/>
<line x1="283.42" y1="1711.79" x2="283.42" y2="1722.99" stroke="#222" stroke-width="1.1"/>
<rect x="235.75" y="1705.54" width="24.99" height="23.70" fill="#f83a1e" stroke="#111" stroke-width="1.1"/>
<line x1="249.88" y1="1705.54" x2="249.88" y2="1729.24" stroke="#111" stroke-width="1.1"/>
<circle cx="231.14" cy="1717.39" r="2.85" fill="#fff" stroke="#111" stroke-width="1.15"/>
<circle cx="236.73" cy="1717.39" r="2.85" fill="#fff" stroke="#111" stroke-width="1.15"/>
<circle cx="247.25" cy="1717.39" r="2.85" fill="#fff" stroke="#111" stroke-width="1.15"/>
<circle cx="252.19" cy="1717.39" r="2.85" fill="#fff" stroke="#111" stroke-width="1.15"/>
<circle cx="255.47" cy="1717.39" r="2.85" fill="#fff" stroke="#111" stroke-width="1.15"/>
<circle cx="276.19" cy="1717.39" r="2.85" fill="#fff" stroke="#111" stroke-width="1.15"/>
<circle cx="283.42" cy="1717.39" r="2.85" fill="#fff" stroke="#111" stroke-width="1.15"/>
<text x="590.00" y="1419.10" font-size="49.5" font-weight="bold" fill="#222">l</text>
<rect x="650.90" y="1430.05" width="10.50" height="38.49" fill="#6cc9c0"/>
<rect x="650.90" y="1468.44" width="10.50" height="38.49" fill="#18519c"/>
<rect x="650.90" y="1506.83" width="10.50" height="38.49" fill="#5a2d96"/>
<rect x="650.90" y="1545.21" width="10.50" height="38.49" fill="#72c17c"/>
<rect x="650.90" y="1583.60" width="10.50" height="38.49" fill="#f8a80e"/>
<rect x="650.90" y="1621.99" width="10.50" height="38.49" fill="#f6742a"/>
<rect x="650.90" y="1660.38" width="10.50" height="38.49" fill="#a01c2a"/>
<rect x="650.90" y="1698.76" width="10.50" height="38.49" fill="#f83a1e"/>
<line x1="665.50" y1="1426.40" x2="665.50" y2="1743.15" stroke="#111" stroke-width="1.3"/>
<line x1="664.85" y1="1742.50" x2="982.35" y2="1742.50" stroke="#111" stroke-width="1.3"/>
<line x1="665.50" y1="1742.50" x2="665.50" y2="1748.00" stroke="#111" stroke-width="1.3"/>
<text x="665.50" y="1768.30" font-size="18.8" text-anchor="middle">10</text>
<line x1="744.50" y1="1742.50" x2="744.50" y2="1748.00" stroke="#111" stroke-width="1.3"/>
<text x="744.50" y="1768.30" font-size="18.8" text-anchor="middle">15</text>
<line x1="823.60" y1="1742.50" x2="823.60" y2="1748.00" stroke="#111" stroke-width="1.3"/>
<text x="823.60" y="1768.30" font-size="18.8" text-anchor="middle">20</text>
<line x1="902.70" y1="1742.50" x2="902.70" y2="1748.00" stroke="#111" stroke-width="1.3"/>
<text x="902.70" y="1768.30" font-size="18.8" text-anchor="middle">25</text>
<line x1="981.70" y1="1742.50" x2="981.70" y2="1748.00" stroke="#111" stroke-width="1.3"/>
<text x="981.70" y="1768.30" font-size="18.8" text-anchor="middle">30</text>
<text x="823.60" y="1791.00" font-size="18.7" font-weight="bold" text-anchor="middle">Proportion of 20:4 within diacyl PE (%)</text>
<line x1="852.49" y1="1452.50" x2="898.64" y2="1452.50" stroke="#222" stroke-width="1.1"/>
<line x1="852.49" y1="1446.70" x2="852.49" y2="1457.90" stroke="#222" stroke-width="1.1"/>
<line x1="898.64" y1="1446.70" x2="898.64" y2="1457.90" stroke="#222" stroke-width="1.1"/>
<rect x="869.70" y="1440.45" width="26.60" height="23.70" fill="#6cc9c0" stroke="#111" stroke-width="1.1"/>
<line x1="884.56" y1="1440.45" x2="884.56" y2="1464.15" stroke="#111" stroke-width="1.1"/>
<circle cx="852.49" cy="1452.30" r="2.85" fill="#fff" stroke="#111" stroke-width="1.15"/>
<circle cx="866.83" cy="1452.30" r="2.85" fill="#fff" stroke="#111" stroke-width="1.15"/>
<circle cx="875.18" cy="1452.30" r="2.85" fill="#fff" stroke="#111" stroke-width="1.15"/>
<circle cx="881.17" cy="1452.30" r="2.85" fill="#fff" stroke="#111" stroke-width="1.15"/>
<circle cx="887.17" cy="1452.30" r="2.85" fill="#fff" stroke="#111" stroke-width="1.15"/>
<circle cx="890.30" cy="1452.30" r="2.85" fill="#fff" stroke="#111" stroke-width="1.15"/>
<circle cx="898.64" cy="1452.30" r="2.85" fill="#fff" stroke="#111" stroke-width="1.15"/>
<line x1="864.75" y1="1490.50" x2="915.07" y2="1490.50" stroke="#222" stroke-width="1.1"/>
<line x1="864.75" y1="1484.57" x2="864.75" y2="1495.77" stroke="#222" stroke-width="1.1"/>
<line x1="915.07" y1="1484.57" x2="915.07" y2="1495.77" stroke="#222" stroke-width="1.1"/>
<rect x="880.13" y="1478.32" width="26.34" height="23.70" fill="#18519c" stroke="#111" stroke-width="1.1"/>
<line x1="889.00" y1="1478.32" x2="889.00" y2="1502.02" stroke="#111" stroke-width="1.1"/>
<circle cx="864.75" cy="1490.17" r="2.85" fill="#fff" stroke="#111" stroke-width="1.15"/>
<circle cx="877.78" cy="1490.17" r="2.85" fill="#fff" stroke="#111" stroke-width="1.15"/>
<circle cx="881.17" cy="1490.17" r="2.85" fill="#fff" stroke="#111" stroke-width="1.15"/>
<circle cx="885.08" cy="1490.17" r="2.85" fill="#fff" stroke="#111" stroke-width="1.15"/>
<circle cx="889.78" cy="1490.17" r="2.85" fill="#fff" stroke="#111" stroke-width="1.15"/>
<circle cx="896.30" cy="1490.17" r="2.85" fill="#fff" stroke="#111" stroke-width="1.15"/>
<circle cx="902.56" cy="1490.17" r="2.85" fill="#fff" stroke="#111" stroke-width="1.15"/>
<circle cx="911.16" cy="1490.17" r="2.85" fill="#fff" stroke="#111" stroke-width="1.15"/>
<circle cx="915.07" cy="1490.17" r="2.85" fill="#fff" stroke="#111" stroke-width="1.15"/>
<line x1="879.09" y1="1528.50" x2="899.43" y2="1528.50" stroke="#222" stroke-width="1.1"/>
<line x1="879.09" y1="1522.44" x2="879.09" y2="1533.64" stroke="#222" stroke-width="1.1"/>
<line x1="899.43" y1="1522.44" x2="899.43" y2="1533.64" stroke="#222" stroke-width="1.1"/>
<rect x="882.48" y="1516.19" width="9.13" height="23.70" fill="#5a2d96" stroke="#111" stroke-width="1.1"/>
<line x1="887.17" y1="1516.19" x2="887.17" y2="1539.89" stroke="#111" stroke-width="1.1"/>
<circle cx="879.09" cy="1528.04" r="2.85" fill="#fff" stroke="#111" stroke-width="1.15"/>
<circle cx="883.00" cy="1528.04" r="2.85" fill="#fff" stroke="#111" stroke-width="1.15"/>
<circle cx="889.00" cy="1528.04" r="2.85" fill="#fff" stroke="#111" stroke-width="1.15"/>
<circle cx="891.60" cy="1528.04" r="2.85" fill="#fff" stroke="#111" stroke-width="1.15"/>
<circle cx="899.43" cy="1528.04" r="2.85" fill="#fff" stroke="#111" stroke-width="1.15"/>
<line x1="857.44" y1="1565.50" x2="932.54" y2="1565.50" stroke="#222" stroke-width="1.1"/>
<line x1="857.44" y1="1560.31" x2="857.44" y2="1571.51" stroke="#222" stroke-width="1.1"/>
<line x1="932.54" y1="1560.31" x2="932.54" y2="1571.51" stroke="#222" stroke-width="1.1"/>
<rect x="881.43" y="1554.06" width="36.25" height="23.70" fill="#72c17c" stroke="#111" stroke-width="1.1"/>
<line x1="907.25" y1="1554.06" x2="907.25" y2="1577.76" stroke="#111" stroke-width="1.1"/>
<circle cx="857.44" cy="1565.91" r="2.85" fill="#fff" stroke="#111" stroke-width="1.15"/>
<circle cx="877.78" cy="1565.91" r="2.85" fill="#fff" stroke="#111" stroke-width="1.15"/>
<circle cx="883.78" cy="1565.91" r="2.85" fill="#fff" stroke="#111" stroke-width="1.15"/>
<circle cx="898.12" cy="1565.91" r="2.85" fill="#fff" stroke="#111" stroke-width="1.15"/>
<circle cx="907.25" cy="1565.91" r="2.85" fill="#fff" stroke="#111" stroke-width="1.15"/>
<circle cx="912.46" cy="1565.91" r="2.85" fill="#fff" stroke="#111" stroke-width="1.15"/>
<circle cx="922.37" cy="1565.91" r="2.85" fill="#fff" stroke="#111" stroke-width="1.15"/>
<circle cx="932.54" cy="1565.91" r="2.85" fill="#fff" stroke="#111" stroke-width="1.15"/>
<line x1="846.49" y1="1603.50" x2="902.03" y2="1603.50" stroke="#222" stroke-width="1.1"/>
<line x1="846.49" y1="1598.18" x2="846.49" y2="1609.38" stroke="#222" stroke-width="1.1"/>
<line x1="902.03" y1="1598.18" x2="902.03" y2="1609.38" stroke="#222" stroke-width="1.1"/>
<rect x="858.49" y="1591.93" width="25.81" height="23.70" fill="#f8a80e" stroke="#111" stroke-width="1.1"/>
<line x1="874.65" y1="1591.93" x2="874.65" y2="1615.63" stroke="#111" stroke-width="1.1"/>
<circle cx="846.49" cy="1603.78" r="2.85" fill="#fff" stroke="#111" stroke-width="1.15"/>
<circle cx="850.40" cy="1603.78" r="2.85" fill="#fff" stroke="#111" stroke-width="1.15"/>
<circle cx="860.83" cy="1603.78" r="2.85" fill="#fff" stroke="#111" stroke-width="1.15"/>
<circle cx="870.22" cy="1603.78" r="2.85" fill="#fff" stroke="#111" stroke-width="1.15"/>
<circle cx="879.87" cy="1603.78" r="2.85" fill="#fff" stroke="#111" stroke-width="1.15"/>
<circle cx="882.48" cy="1603.78" r="2.85" fill="#fff" stroke="#111" stroke-width="1.15"/>
<circle cx="885.61" cy="1603.78" r="2.85" fill="#fff" stroke="#111" stroke-width="1.15"/>
<circle cx="902.03" cy="1603.78" r="2.85" fill="#fff" stroke="#111" stroke-width="1.15"/>
<line x1="815.46" y1="1641.50" x2="864.75" y2="1641.50" stroke="#222" stroke-width="1.1"/>
<line x1="815.46" y1="1636.05" x2="815.46" y2="1647.25" stroke="#222" stroke-width="1.1"/>
<line x1="864.75" y1="1636.05" x2="864.75" y2="1647.25" stroke="#222" stroke-width="1.1"/>
<rect x="825.63" y="1629.80" width="34.68" height="23.70" fill="#f6742a" stroke="#111" stroke-width="1.1"/>
<line x1="836.32" y1="1629.80" x2="836.32" y2="1653.50" stroke="#111" stroke-width="1.1"/>
<circle cx="815.46" cy="1641.65" r="2.85" fill="#fff" stroke="#111" stroke-width="1.15"/>
<circle cx="823.81" cy="1641.65" r="2.85" fill="#fff" stroke="#111" stroke-width="1.15"/>
<circle cx="829.02" cy="1641.65" r="2.85" fill="#fff" stroke="#111" stroke-width="1.15"/>
<circle cx="836.32" cy="1641.65" r="2.85" fill="#fff" stroke="#111" stroke-width="1.15"/>
<circle cx="854.58" cy="1641.65" r="2.85" fill="#fff" stroke="#111" stroke-width="1.15"/>
<circle cx="859.01" cy="1641.65" r="2.85" fill="#fff" stroke="#111" stroke-width="1.15"/>
<circle cx="864.75" cy="1641.65" r="2.85" fill="#fff" stroke="#111" stroke-width="1.15"/>
<line x1="768.27" y1="1679.50" x2="808.16" y2="1679.50" stroke="#222" stroke-width="1.1"/>
<line x1="768.27" y1="1673.92" x2="768.27" y2="1685.12" stroke="#222" stroke-width="1.1"/>
<line x1="808.16" y1="1673.92" x2="808.16" y2="1685.12" stroke="#222" stroke-width="1.1"/>
<rect x="775.31" y="1667.67" width="24.51" height="23.70" fill="#a01c2a" stroke="#111" stroke-width="1.1"/>
<line x1="788.60" y1="1667.67" x2="788.60" y2="1691.37" stroke="#111" stroke-width="1.1"/>
<circle cx="768.27" cy="1679.52" r="2.85" fill="#fff" stroke="#111" stroke-width="1.15"/>
<circle cx="771.13" cy="1679.52" r="2.85" fill="#fff" stroke="#111" stroke-width="1.15"/>
<circle cx="778.70" cy="1679.52" r="2.85" fill="#fff" stroke="#111" stroke-width="1.15"/>
<circle cx="783.39" cy="1679.52" r="2.85" fill="#fff" stroke="#111" stroke-width="1.15"/>
<circle cx="788.60" cy="1679.52" r="2.85" fill="#fff" stroke="#111" stroke-width="1.15"/>
<circle cx="795.91" cy="1679.52" r="2.85" fill="#fff" stroke="#111" stroke-width="1.15"/>
<circle cx="804.25" cy="1679.52" r="2.85" fill="#fff" stroke="#111" stroke-width="1.15"/>
<circle cx="808.16" cy="1679.52" r="2.85" fill="#fff" stroke="#111" stroke-width="1.15"/>
<line x1="758.10" y1="1717.50" x2="818.07" y2="1717.50" stroke="#222" stroke-width="1.1"/>
<line x1="758.10" y1="1711.79" x2="758.10" y2="1722.99" stroke="#222" stroke-width="1.1"/>
<line x1="818.07" y1="1711.79" x2="818.07" y2="1722.99" stroke="#222" stroke-width="1.1"/>
<rect x="770.35" y="1705.54" width="41.20" height="23.70" fill="#f83a1e" stroke="#111" stroke-width="1.1"/>
<line x1="783.39" y1="1705.54" x2="783.39" y2="1729.24" stroke="#111" stroke-width="1.1"/>
<circle cx="758.10" cy="1717.39" r="2.85" fill="#fff" stroke="#111" stroke-width="1.15"/>
<circle cx="768.27" cy="1717.39" r="2.85" fill="#fff" stroke="#111" stroke-width="1.15"/>
<circle cx="776.87" cy="1717.39" r="2.85" fill="#fff" stroke="#111" stroke-width="1.15"/>
<circle cx="780.78" cy="1717.39" r="2.85" fill="#fff" stroke="#111" stroke-width="1.15"/>
<circle cx="786.52" cy="1717.39" r="2.85" fill="#fff" stroke="#111" stroke-width="1.15"/>
<circle cx="797.73" cy="1717.39" r="2.85" fill="#fff" stroke="#111" stroke-width="1.15"/>
<circle cx="811.29" cy="1717.39" r="2.85" fill="#fff" stroke="#111" stroke-width="1.15"/>
<circle cx="813.90" cy="1717.39" r="2.85" fill="#fff" stroke="#111" stroke-width="1.15"/>
<circle cx="818.07" cy="1717.39" r="2.85" fill="#fff" stroke="#111" stroke-width="1.15"/>
<text x="1050.00" y="1419.10" font-size="49.5" font-weight="bold" fill="#222">m</text>
<rect x="1121.10" y="1430.05" width="10.70" height="38.59" fill="#6cc9c0"/>
<rect x="1121.10" y="1468.54" width="10.70" height="38.59" fill="#18519c"/>
<rect x="1121.10" y="1507.02" width="10.70" height="38.59" fill="#5a2d96"/>
<rect x="1121.10" y="1545.51" width="10.70" height="38.59" fill="#72c17c"/>
<rect x="1121.10" y="1584.00" width="10.70" height="38.59" fill="#f8a80e"/>
<rect x="1121.10" y="1622.49" width="10.70" height="38.59" fill="#f6742a"/>
<rect x="1121.10" y="1660.98" width="10.70" height="38.59" fill="#a01c2a"/>
<rect x="1121.10" y="1699.46" width="10.70" height="38.59" fill="#f83a1e"/>
<line x1="1135.70" y1="1426.40" x2="1135.70" y2="1743.15" stroke="#111" stroke-width="1.3"/>
<line x1="1135.05" y1="1742.50" x2="1452.65" y2="1742.50" stroke="#111" stroke-width="1.3"/>
<line x1="1135.70" y1="1742.50" x2="1135.70" y2="1748.00" stroke="#111" stroke-width="1.3"/>
<text x="1135.70" y="1768.30" font-size="18.8" text-anchor="middle">0</text>
<line x1="1214.80" y1="1742.50" x2="1214.80" y2="1748.00" stroke="#111" stroke-width="1.3"/>
<text x="1214.80" y="1768.30" font-size="18.8" text-anchor="middle">10</text>
<line x1="1293.90" y1="1742.50" x2="1293.90" y2="1748.00" stroke="#111" stroke-width="1.3"/>
<text x="1293.90" y="1768.30" font-size="18.8" text-anchor="middle">20</text>
<line x1="1373.00" y1="1742.50" x2="1373.00" y2="1748.00" stroke="#111" stroke-width="1.3"/>
<text x="1373.00" y="1768.30" font-size="18.8" text-anchor="middle">30</text>
<line x1="1452.00" y1="1742.50" x2="1452.00" y2="1748.00" stroke="#111" stroke-width="1.3"/>
<text x="1452.00" y="1768.30" font-size="18.8" text-anchor="middle">40</text>
<text x="1293.85" y="1794.70" font-size="18.7" font-weight="bold" text-anchor="middle">Proportion of 22:6 within PE(P) (%)</text>
<line x1="1298.15" y1="1452.50" x2="1365.95" y2="1452.50" stroke="#222" stroke-width="1.1"/>
<line x1="1298.15" y1="1446.70" x2="1298.15" y2="1457.90" stroke="#222" stroke-width="1.1"/>
<line x1="1365.95" y1="1446.70" x2="1365.95" y2="1457.90" stroke="#222" stroke-width="1.1"/>
<rect x="1313.27" y="1440.45" width="40.42" height="23.70" fill="#6cc9c0" stroke="#111" stroke-width="1.1"/>
<line x1="1341.17" y1="1440.45" x2="1341.17" y2="1464.15" stroke="#111" stroke-width="1.1"/>
<circle cx="1298.15" cy="1452.30" r="2.85" fill="#fff" stroke="#111" stroke-width="1.15"/>
<circle cx="1304.15" cy="1452.30" r="2.85" fill="#fff" stroke="#111" stroke-width="1.15"/>
<circle cx="1339.09" cy="1452.30" r="2.85" fill="#fff" stroke="#111" stroke-width="1.15"/>
<circle cx="1340.39" cy="1452.30" r="2.85" fill="#fff" stroke="#111" stroke-width="1.15"/>
<circle cx="1341.96" cy="1452.30" r="2.85" fill="#fff" stroke="#111" stroke-width="1.15"/>
<circle cx="1349.78" cy="1452.30" r="2.85" fill="#fff" stroke="#111" stroke-width="1.15"/>
<circle cx="1355.51" cy="1452.30" r="2.85" fill="#fff" stroke="#111" stroke-width="1.15"/>
<circle cx="1365.95" cy="1452.30" r="2.85" fill="#fff" stroke="#111" stroke-width="1.15"/>
<line x1="1245.22" y1="1490.50" x2="1295.54" y2="1490.50" stroke="#222" stroke-width="1.1"/>
<line x1="1245.22" y1="1484.57" x2="1245.22" y2="1495.77" stroke="#222" stroke-width="1.1"/>
<line x1="1295.54" y1="1484.57" x2="1295.54" y2="1495.77" stroke="#222" stroke-width="1.1"/>
<rect x="1265.55" y="1478.32" width="20.08" height="23.70" fill="#18519c" stroke="#111" stroke-width="1.1"/>
<line x1="1279.37" y1="1478.32" x2="1279.37" y2="1502.02" stroke="#111" stroke-width="1.1"/>
<circle cx="1245.22" cy="1490.17" r="2.85" fill="#fff" stroke="#111" stroke-width="1.15"/>
<circle cx="1261.64" cy="1490.17" r="2.85" fill="#fff" stroke="#111" stroke-width="1.15"/>
<circle cx="1268.16" cy="1490.17" r="2.85" fill="#fff" stroke="#111" stroke-width="1.15"/>
<circle cx="1272.07" cy="1490.17" r="2.85" fill="#fff" stroke="#111" stroke-width="1.15"/>
<circle cx="1279.37" cy="1490.17" r="2.85" fill="#fff" stroke="#111" stroke-width="1.15"/>
<circle cx="1286.41" cy="1490.17" r="2.85" fill="#fff" stroke="#111" stroke-width="1.15"/>
<circle cx="1295.54" cy="1490.17" r="2.85" fill="#fff" stroke="#111" stroke-width="1.15"/>
<line x1="1259.82" y1="1528.50" x2="1296.06" y2="1528.50" stroke="#222" stroke-width="1.1"/>
<line x1="1259.82" y1="1522.44" x2="1259.82" y2="1533.64" stroke="#222" stroke-width="1.1"/>
<line x1="1296.06" y1="1522.44" x2="1296.06" y2="1533.64" stroke="#222" stroke-width="1.1"/>
<rect x="1271.55" y="1516.19" width="20.60" height="23.70" fill="#5a2d96" stroke="#111" stroke-width="1.1"/>
<line x1="1283.02" y1="1516.19" x2="1283.02" y2="1539.89" stroke="#111" stroke-width="1.1"/>
<circle cx="1259.82" cy="1528.04" r="2.85" fill="#fff" stroke="#111" stroke-width="1.15"/>
<circle cx="1269.47" cy="1528.04" r="2.85" fill="#fff" stroke="#111" stroke-width="1.15"/>
<circle cx="1277.29" cy="1528.04" r="2.85" fill="#fff" stroke="#111" stroke-width="1.15"/>
<circle cx="1283.02" cy="1528.04" r="2.85" fill="#fff" stroke="#111" stroke-width="1.15"/>
<circle cx="1286.41" cy="1528.04" r="2.85" fill="#fff" stroke="#111" stroke-width="1.15"/>
<circle cx="1296.06" cy="1528.04" r="2.85" fill="#fff" stroke="#111" stroke-width="1.15"/>
<line x1="1229.57" y1="1565.50" x2="1311.71" y2="1565.50" stroke="#222" stroke-width="1.1"/>
<line x1="1229.57" y1="1560.31" x2="1229.57" y2="1571.51" stroke="#222" stroke-width="1.1"/>
<line x1="1311.71" y1="1560.31" x2="1311.71" y2="1571.51" stroke="#222" stroke-width="1.1"/>
<rect x="1268.68" y="1554.06" width="38.59" height="23.70" fill="#72c17c" stroke="#111" stroke-width="1.1"/>
<line x1="1294.24" y1="1554.06" x2="1294.24" y2="1577.76" stroke="#111" stroke-width="1.1"/>
<circle cx="1229.57" cy="1565.91" r="2.85" fill="#fff" stroke="#111" stroke-width="1.15"/>
<circle cx="1265.03" cy="1565.91" r="2.85" fill="#fff" stroke="#111" stroke-width="1.15"/>
<circle cx="1271.29" cy="1565.91" r="2.85" fill="#fff" stroke="#111" stroke-width="1.15"/>
<circle cx="1277.29" cy="1565.91" r="2.85" fill="#fff" stroke="#111" stroke-width="1.15"/>
<circle cx="1294.24" cy="1565.91" r="2.85" fill="#fff" stroke="#111" stroke-width="1.15"/>
<circle cx="1303.36" cy="1565.91" r="2.85" fill="#fff" stroke="#111" stroke-width="1.15"/>
<circle cx="1307.80" cy="1565.91" r="2.85" fill="#fff" stroke="#111" stroke-width="1.15"/>
<circle cx="1311.71" cy="1565.91" r="2.85" fill="#fff" stroke="#111" stroke-width="1.15"/>
<line x1="1162.56" y1="1603.50" x2="1191.76" y2="1603.50" stroke="#222" stroke-width="1.1"/>
<line x1="1162.56" y1="1598.18" x2="1162.56" y2="1609.38" stroke="#222" stroke-width="1.1"/>
<line x1="1191.76" y1="1598.18" x2="1191.76" y2="1609.38" stroke="#222" stroke-width="1.1"/>
<rect x="1166.47" y="1591.93" width="8.60" height="23.70" fill="#f8a80e" stroke="#111" stroke-width="1.1"/>
<line x1="1167.77" y1="1591.93" x2="1167.77" y2="1615.63" stroke="#111" stroke-width="1.1"/>
<circle cx="1162.56" cy="1603.78" r="2.85" fill="#fff" stroke="#111" stroke-width="1.15"/>
<circle cx="1167.25" cy="1603.78" r="2.85" fill="#fff" stroke="#111" stroke-width="1.15"/>
<circle cx="1173.51" cy="1603.78" r="2.85" fill="#fff" stroke="#111" stroke-width="1.15"/>
<circle cx="1180.81" cy="1603.78" r="2.85" fill="#fff" stroke="#111" stroke-width="1.15"/>
<circle cx="1191.76" cy="1603.78" r="2.85" fill="#fff" stroke="#111" stroke-width="1.15"/>
<line x1="1180.81" y1="1641.50" x2="1208.71" y2="1641.50" stroke="#222" stroke-width="1.1"/>
<line x1="1180.81" y1="1636.05" x2="1180.81" y2="1647.25" stroke="#222" stroke-width="1.1"/>
<line x1="1208.71" y1="1636.05" x2="1208.71" y2="1647.25" stroke="#222" stroke-width="1.1"/>
<rect x="1184.20" y="1629.80" width="6.26" height="23.70" fill="#f6742a" stroke="#111" stroke-width="1.1"/>
<line x1="1187.33" y1="1629.80" x2="1187.33" y2="1653.50" stroke="#111" stroke-width="1.1"/>
<circle cx="1180.81" cy="1641.65" r="2.85" fill="#fff" stroke="#111" stroke-width="1.15"/>
<circle cx="1185.50" cy="1641.65" r="2.85" fill="#fff" stroke="#111" stroke-width="1.15"/>
<circle cx="1189.15" cy="1641.65" r="2.85" fill="#fff" stroke="#111" stroke-width="1.15"/>
<circle cx="1193.85" cy="1641.65" r="2.85" fill="#fff" stroke="#111" stroke-width="1.15"/>
<circle cx="1208.71" cy="1641.65" r="2.85" fill="#fff" stroke="#111" stroke-width="1.15"/>
<line x1="1156.56" y1="1679.50" x2="1175.07" y2="1679.50" stroke="#222" stroke-width="1.1"/>
<line x1="1156.56" y1="1673.92" x2="1156.56" y2="1685.12" stroke="#222" stroke-width="1.1"/>
<line x1="1175.07" y1="1673.92" x2="1175.07" y2="1685.12" stroke="#222" stroke-width="1.1"/>
<rect x="1158.90" y="1667.67" width="5.74" height="23.70" fill="#a01c2a" stroke="#111" stroke-width="1.1"/>
<line x1="1161.25" y1="1667.67" x2="1161.25" y2="1691.37" stroke="#111" stroke-width="1.1"/>
<circle cx="1156.56" cy="1679.52" r="2.85" fill="#fff" stroke="#111" stroke-width="1.15"/>
<circle cx="1159.17" cy="1679.52" r="2.85" fill="#fff" stroke="#111" stroke-width="1.15"/>
<circle cx="1160.47" cy="1679.52" r="2.85" fill="#fff" stroke="#111" stroke-width="1.15"/>
<circle cx="1166.47" cy="1679.52" r="2.85" fill="#fff" stroke="#111" stroke-width="1.15"/>
<circle cx="1175.07" cy="1679.52" r="2.85" fill="#fff" stroke="#111" stroke-width="1.15"/>
<line x1="1151.34" y1="1717.50" x2="1165.95" y2="1717.50" stroke="#222" stroke-width="1.1"/>
<line x1="1151.34" y1="1711.79" x2="1151.34" y2="1722.99" stroke="#222" stroke-width="1.1"/>
<line x1="1165.95" y1="1711.79" x2="1165.95" y2="1722.99" stroke="#222" stroke-width="1.1"/>
<rect x="1152.65" y="1705.54" width="6.78" height="23.70" fill="#f83a1e" stroke="#111" stroke-width="1.1"/>
<line x1="1154.73" y1="1705.54" x2="1154.73" y2="1729.24" stroke="#111" stroke-width="1.1"/>
<circle cx="1151.34" cy="1717.39" r="2.85" fill="#fff" stroke="#111" stroke-width="1.15"/>
<circle cx="1152.65" cy="1717.39" r="2.85" fill="#fff" stroke="#111" stroke-width="1.15"/>
<circle cx="1158.64" cy="1717.39" r="2.85" fill="#fff" stroke="#111" stroke-width="1.15"/>
<circle cx="1165.95" cy="1717.39" r="2.85" fill="#fff" stroke="#111" stroke-width="1.15"/>
<text x="1508.50" y="1419.10" font-size="49.5" font-weight="bold" fill="#222">n</text>
<rect x="1566.20" y="1430.05" width="10.50" height="38.49" fill="#6cc9c0"/>
<rect x="1566.20" y="1468.44" width="10.50" height="38.49" fill="#18519c"/>
<rect x="1566.20" y="1506.83" width="10.50" height="38.49" fill="#5a2d96"/>
<rect x="1566.20" y="1545.21" width="10.50" height="38.49" fill="#72c17c"/>
<rect x="1566.20" y="1583.60" width="10.50" height="38.49" fill="#f8a80e"/>
<rect x="1566.20" y="1621.99" width="10.50" height="38.49" fill="#f6742a"/>
<rect x="1566.20" y="1660.38" width="10.50" height="38.49" fill="#a01c2a"/>
<rect x="1566.20" y="1698.76" width="10.50" height="38.49" fill="#f83a1e"/>
<line x1="1580.80" y1="1427.00" x2="1580.80" y2="1743.15" stroke="#111" stroke-width="1.3"/>
<line x1="1580.15" y1="1742.50" x2="1897.55" y2="1742.50" stroke="#111" stroke-width="1.3"/>
<line x1="1580.80" y1="1742.50" x2="1580.80" y2="1748.00" stroke="#111" stroke-width="1.3"/>
<text x="1580.80" y="1768.30" font-size="18.8" text-anchor="middle">0</text>
<line x1="1659.80" y1="1742.50" x2="1659.80" y2="1748.00" stroke="#111" stroke-width="1.3"/>
<text x="1659.80" y="1768.30" font-size="18.8" text-anchor="middle">10</text>
<line x1="1738.90" y1="1742.50" x2="1738.90" y2="1748.00" stroke="#111" stroke-width="1.3"/>
<text x="1738.90" y="1768.30" font-size="18.8" text-anchor="middle">20</text>
<line x1="1817.90" y1="1742.50" x2="1817.90" y2="1748.00" stroke="#111" stroke-width="1.3"/>
<text x="1817.90" y="1768.30" font-size="18.8" text-anchor="middle">30</text>
<line x1="1896.90" y1="1742.50" x2="1896.90" y2="1748.00" stroke="#111" stroke-width="1.3"/>
<text x="1896.90" y="1768.30" font-size="18.8" text-anchor="middle">40</text>
<text x="1738.85" y="1793.00" font-size="18.7" font-weight="bold" text-anchor="middle">Proportion of 22:6 within PS (%)</text>
<line x1="1812.12" y1="1452.50" x2="1866.10" y2="1452.50" stroke="#222" stroke-width="1.1"/>
<line x1="1812.12" y1="1446.70" x2="1812.12" y2="1457.90" stroke="#222" stroke-width="1.1"/>
<line x1="1866.10" y1="1446.70" x2="1866.10" y2="1457.90" stroke="#222" stroke-width="1.1"/>
<rect x="1821.25" y="1440.45" width="41.20" height="23.70" fill="#6cc9c0" stroke="#111" stroke-width="1.1"/>
<line x1="1850.45" y1="1440.45" x2="1850.45" y2="1464.15" stroke="#111" stroke-width="1.1"/>
<circle cx="1812.12" cy="1452.30" r="2.85" fill="#fff" stroke="#111" stroke-width="1.15"/>
<circle cx="1843.93" cy="1452.30" r="2.85" fill="#fff" stroke="#111" stroke-width="1.15"/>
<circle cx="1846.02" cy="1452.30" r="2.85" fill="#fff" stroke="#111" stroke-width="1.15"/>
<circle cx="1855.15" cy="1452.30" r="2.85" fill="#fff" stroke="#111" stroke-width="1.15"/>
<circle cx="1861.14" cy="1452.30" r="2.85" fill="#fff" stroke="#111" stroke-width="1.15"/>
<circle cx="1866.10" cy="1452.30" r="2.85" fill="#fff" stroke="#111" stroke-width="1.15"/>
<line x1="1740.41" y1="1490.50" x2="1814.21" y2="1490.50" stroke="#222" stroke-width="1.1"/>
<line x1="1740.41" y1="1484.57" x2="1740.41" y2="1495.77" stroke="#222" stroke-width="1.1"/>
<line x1="1814.21" y1="1484.57" x2="1814.21" y2="1495.77" stroke="#222" stroke-width="1.1"/>
<rect x="1749.54" y="1478.32" width="53.46" height="23.70" fill="#18519c" stroke="#111" stroke-width="1.1"/>
<line x1="1780.83" y1="1478.32" x2="1780.83" y2="1502.02" stroke="#111" stroke-width="1.1"/>
<circle cx="1740.41" cy="1490.17" r="2.85" fill="#fff" stroke="#111" stroke-width="1.15"/>
<circle cx="1743.02" cy="1490.17" r="2.85" fill="#fff" stroke="#111" stroke-width="1.15"/>
<circle cx="1754.76" cy="1490.17" r="2.85" fill="#fff" stroke="#111" stroke-width="1.15"/>
<circle cx="1780.83" cy="1490.17" r="2.85" fill="#fff" stroke="#111" stroke-width="1.15"/>
<circle cx="1785.53" cy="1490.17" r="2.85" fill="#fff" stroke="#111" stroke-width="1.15"/>
<circle cx="1803.78" cy="1490.17" r="2.85" fill="#fff" stroke="#111" stroke-width="1.15"/>
<circle cx="1814.21" cy="1490.17" r="2.85" fill="#fff" stroke="#111" stroke-width="1.15"/>
<line x1="1796.48" y1="1528.50" x2="1833.50" y2="1528.50" stroke="#222" stroke-width="1.1"/>
<line x1="1796.48" y1="1522.44" x2="1796.48" y2="1533.64" stroke="#222" stroke-width="1.1"/>
<line x1="1833.50" y1="1522.44" x2="1833.50" y2="1533.64" stroke="#222" stroke-width="1.1"/>
<rect x="1802.47" y="1516.19" width="22.69" height="23.70" fill="#5a2d96" stroke="#111" stroke-width="1.1"/>
<line x1="1806.91" y1="1516.19" x2="1806.91" y2="1539.89" stroke="#111" stroke-width="1.1"/>
<circle cx="1796.48" cy="1528.04" r="2.85" fill="#fff" stroke="#111" stroke-width="1.15"/>
<circle cx="1801.17" cy="1528.04" r="2.85" fill="#fff" stroke="#111" stroke-width="1.15"/>
<circle cx="1806.91" cy="1528.04" r="2.85" fill="#fff" stroke="#111" stroke-width="1.15"/>
<circle cx="1814.73" cy="1528.04" r="2.85" fill="#fff" stroke="#111" stroke-width="1.15"/>
<circle cx="1829.07" cy="1528.04" r="2.85" fill="#fff" stroke="#111" stroke-width="1.15"/>
<circle cx="1833.50" cy="1528.04" r="2.85" fill="#fff" stroke="#111" stroke-width="1.15"/>
<line x1="1718.25" y1="1565.50" x2="1850.71" y2="1565.50" stroke="#222" stroke-width="1.1"/>
<line x1="1718.25" y1="1560.31" x2="1718.25" y2="1571.51" stroke="#222" stroke-width="1.1"/>
<line x1="1850.71" y1="1560.31" x2="1850.71" y2="1571.51" stroke="#222" stroke-width="1.1"/>
<rect x="1823.07" y="1554.06" width="18.51" height="23.70" fill="#72c17c" stroke="#111" stroke-width="1.1"/>
<line x1="1830.38" y1="1554.06" x2="1830.38" y2="1577.76" stroke="#111" stroke-width="1.1"/>
<circle cx="1718.25" cy="1565.91" r="2.85" fill="#fff" stroke="#111" stroke-width="1.15"/>
<circle cx="1821.77" cy="1565.91" r="2.85" fill="#fff" stroke="#111" stroke-width="1.15"/>
<circle cx="1824.64" cy="1565.91" r="2.85" fill="#fff" stroke="#111" stroke-width="1.15"/>
<circle cx="1830.38" cy="1565.91" r="2.85" fill="#fff" stroke="#111" stroke-width="1.15"/>
<circle cx="1837.42" cy="1565.91" r="2.85" fill="#fff" stroke="#111" stroke-width="1.15"/>
<circle cx="1844.72" cy="1565.91" r="2.85" fill="#fff" stroke="#111" stroke-width="1.15"/>
<circle cx="1850.71" cy="1565.91" r="2.85" fill="#fff" stroke="#111" stroke-width="1.15"/>
<line x1="1666.88" y1="1603.50" x2="1720.08" y2="1603.50" stroke="#222" stroke-width="1.1"/>
<line x1="1666.88" y1="1598.18" x2="1666.88" y2="1609.38" stroke="#222" stroke-width="1.1"/>
<line x1="1720.08" y1="1598.18" x2="1720.08" y2="1609.38" stroke="#222" stroke-width="1.1"/>
<rect x="1672.62" y="1591.93" width="27.90" height="23.70" fill="#f8a80e" stroke="#111" stroke-width="1.1"/>
<line x1="1683.57" y1="1591.93" x2="1683.57" y2="1615.63" stroke="#111" stroke-width="1.1"/>
<circle cx="1666.88" cy="1603.78" r="2.85" fill="#fff" stroke="#111" stroke-width="1.15"/>
<circle cx="1673.40" cy="1603.78" r="2.85" fill="#fff" stroke="#111" stroke-width="1.15"/>
<circle cx="1679.92" cy="1603.78" r="2.85" fill="#fff" stroke="#111" stroke-width="1.15"/>
<circle cx="1684.35" cy="1603.78" r="2.85" fill="#fff" stroke="#111" stroke-width="1.15"/>
<circle cx="1696.87" cy="1603.78" r="2.85" fill="#fff" stroke="#111" stroke-width="1.15"/>
<circle cx="1711.21" cy="1603.78" r="2.85" fill="#fff" stroke="#111" stroke-width="1.15"/>
<circle cx="1720.08" cy="1603.78" r="2.85" fill="#fff" stroke="#111" stroke-width="1.15"/>
<line x1="1672.62" y1="1641.50" x2="1729.46" y2="1641.50" stroke="#222" stroke-width="1.1"/>
<line x1="1672.62" y1="1636.05" x2="1672.62" y2="1647.25" stroke="#222" stroke-width="1.1"/>
<line x1="1729.46" y1="1636.05" x2="1729.46" y2="1647.25" stroke="#222" stroke-width="1.1"/>
<rect x="1683.57" y="1629.80" width="35.72" height="23.70" fill="#f6742a" stroke="#111" stroke-width="1.1"/>
<line x1="1709.91" y1="1629.80" x2="1709.91" y2="1653.50" stroke="#111" stroke-width="1.1"/>
<circle cx="1672.62" cy="1641.65" r="2.85" fill="#fff" stroke="#111" stroke-width="1.15"/>
<circle cx="1681.22" cy="1641.65" r="2.85" fill="#fff" stroke="#111" stroke-width="1.15"/>
<circle cx="1684.35" cy="1641.65" r="2.85" fill="#fff" stroke="#111" stroke-width="1.15"/>
<circle cx="1695.56" cy="1641.65" r="2.85" fill="#fff" stroke="#111" stroke-width="1.15"/>
<circle cx="1709.91" cy="1641.65" r="2.85" fill="#fff" stroke="#111" stroke-width="1.15"/>
<circle cx="1711.73" cy="1641.65" r="2.85" fill="#fff" stroke="#111" stroke-width="1.15"/>
<circle cx="1726.07" cy="1641.65" r="2.85" fill="#fff" stroke="#111" stroke-width="1.15"/>
<circle cx="1729.46" cy="1641.65" r="2.85" fill="#fff" stroke="#111" stroke-width="1.15"/>
<line x1="1619.16" y1="1679.50" x2="1656.45" y2="1679.50" stroke="#222" stroke-width="1.1"/>
<line x1="1619.16" y1="1673.92" x2="1619.16" y2="1685.12" stroke="#222" stroke-width="1.1"/>
<line x1="1656.45" y1="1673.92" x2="1656.45" y2="1685.12" stroke="#222" stroke-width="1.1"/>
<rect x="1624.38" y="1667.67" width="19.04" height="23.70" fill="#a01c2a" stroke="#111" stroke-width="1.1"/>
<line x1="1630.11" y1="1667.67" x2="1630.11" y2="1691.37" stroke="#111" stroke-width="1.1"/>
<circle cx="1619.16" cy="1679.52" r="2.85" fill="#fff" stroke="#111" stroke-width="1.15"/>
<circle cx="1621.25" cy="1679.52" r="2.85" fill="#fff" stroke="#111" stroke-width="1.15"/>
<circle cx="1625.68" cy="1679.52" r="2.85" fill="#fff" stroke="#111" stroke-width="1.15"/>
<circle cx="1630.11" cy="1679.52" r="2.85" fill="#fff" stroke="#111" stroke-width="1.15"/>
<circle cx="1634.81" cy="1679.52" r="2.85" fill="#fff" stroke="#111" stroke-width="1.15"/>
<circle cx="1640.02" cy="1679.52" r="2.85" fill="#fff" stroke="#111" stroke-width="1.15"/>
<circle cx="1647.32" cy="1679.52" r="2.85" fill="#fff" stroke="#111" stroke-width="1.15"/>
<circle cx="1656.45" cy="1679.52" r="2.85" fill="#fff" stroke="#111" stroke-width="1.15"/>
<line x1="1610.56" y1="1717.50" x2="1671.31" y2="1717.50" stroke="#222" stroke-width="1.1"/>
<line x1="1610.56" y1="1711.79" x2="1610.56" y2="1722.99" stroke="#222" stroke-width="1.1"/>
<line x1="1671.31" y1="1711.79" x2="1671.31" y2="1722.99" stroke="#222" stroke-width="1.1"/>
<rect x="1619.42" y="1705.54" width="31.03" height="23.70" fill="#f83a1e" stroke="#111" stroke-width="1.1"/>
<line x1="1626.46" y1="1705.54" x2="1626.46" y2="1729.24" stroke="#111" stroke-width="1.1"/>
<circle cx="1610.56" cy="1717.39" r="2.85" fill="#fff" stroke="#111" stroke-width="1.15"/>
<circle cx="1616.56" cy="1717.39" r="2.85" fill="#fff" stroke="#111" stroke-width="1.15"/>
<circle cx="1619.95" cy="1717.39" r="2.85" fill="#fff" stroke="#111" stroke-width="1.15"/>
<circle cx="1623.86" cy="1717.39" r="2.85" fill="#fff" stroke="#111" stroke-width="1.15"/>
<circle cx="1628.29" cy="1717.39" r="2.85" fill="#fff" stroke="#111" stroke-width="1.15"/>
<circle cx="1631.42" cy="1717.39" r="2.85" fill="#fff" stroke="#111" stroke-width="1.15"/>
<circle cx="1645.24" cy="1717.39" r="2.85" fill="#fff" stroke="#111" stroke-width="1.15"/>
<circle cx="1667.40" cy="1717.39" r="2.85" fill="#fff" stroke="#111" stroke-width="1.15"/>
<circle cx="1671.31" cy="1717.39" r="2.85" fill="#fff" stroke="#111" stroke-width="1.15"/>
<text x="17.90" y="1911.00" font-size="49.5" font-weight="bold" fill="#222">o</text>
<rect x="209.80" y="1914.25" width="10.50" height="19.48" fill="#5b9c97"/>
<rect x="209.80" y="1933.62" width="10.50" height="19.48" fill="#6fd0c6"/>
<rect x="209.80" y="1953.00" width="10.50" height="19.48" fill="#1f3a72"/>
<rect x="209.80" y="1972.38" width="10.50" height="19.48" fill="#1466d2"/>
<rect x="209.80" y="1991.75" width="10.50" height="19.48" fill="#78a4e0"/>
<rect x="209.80" y="2011.12" width="10.50" height="19.48" fill="#5a2c9a"/>
<rect x="209.80" y="2030.50" width="10.50" height="19.48" fill="#6c50ac"/>
<rect x="209.80" y="2049.88" width="10.50" height="19.48" fill="#7f7cc4"/>
<rect x="209.80" y="2069.25" width="10.50" height="19.48" fill="#0d6b3a"/>
<rect x="209.80" y="2088.62" width="10.50" height="19.48" fill="#6fc07e"/>
<rect x="209.80" y="2108.00" width="10.50" height="19.48" fill="#dc5428"/>
<rect x="209.80" y="2127.38" width="10.50" height="19.48" fill="#f58a48"/>
<rect x="209.80" y="2146.75" width="10.50" height="19.48" fill="#ef6e2c"/>
<rect x="209.80" y="2166.12" width="10.50" height="19.48" fill="#e5b42e"/>
<rect x="209.80" y="2185.50" width="10.50" height="19.48" fill="#a51d2a"/>
<rect x="209.80" y="2204.88" width="10.50" height="19.48" fill="#f0432e"/>
<line x1="224.60" y1="1911.00" x2="224.60" y2="2227.25" stroke="#111" stroke-width="1.3"/>
<line x1="223.95" y1="2226.60" x2="540.85" y2="2226.60" stroke="#111" stroke-width="1.3"/>
<line x1="224.60" y1="2226.60" x2="224.60" y2="2232.10" stroke="#111" stroke-width="1.3"/>
<text x="224.60" y="2252.90" font-size="18.8" text-anchor="middle">0</text>
<line x1="382.40" y1="2226.60" x2="382.40" y2="2232.10" stroke="#111" stroke-width="1.3"/>
<text x="382.40" y="2252.90" font-size="18.8" text-anchor="middle">50000</text>
<line x1="540.20" y1="2226.60" x2="540.20" y2="2232.10" stroke="#111" stroke-width="1.3"/>
<text x="540.20" y="2252.90" font-size="18.8" text-anchor="middle">100000</text>
<text x="382.40" y="2280.20" font-size="18.7" font-weight="bold" text-anchor="middle">PE(18:0_20:4)</text>
<text x="382.40" y="2302.60" font-size="18.7" font-weight="bold" text-anchor="middle"><tspan font-weight="normal">ρ</tspan>mol/<tspan font-weight="normal">μ</tspan>mol total lipidome</text>
<text x="199.50" y="1930.57" font-size="16.40" text-anchor="end"><tspan>Naive B cells</tspan></text>
<text x="199.50" y="1949.64" font-size="16.40" text-anchor="end"><tspan>Memory B cells</tspan></text>
<text x="199.50" y="1965.91" font-size="16.40" text-anchor="end"><tspan>CD4 T</tspan><tspan font-size="12.14" dy="5.41">Naive</tspan></text>
<text x="199.50" y="1985.31" font-size="16.40" text-anchor="end"><tspan>CD4 T</tspan><tspan font-size="12.14" dy="5.41">CM</tspan></text>
<text x="199.50" y="2004.71" font-size="16.40" text-anchor="end"><tspan>CD4 T</tspan><tspan font-size="12.14" dy="5.41">EM</tspan></text>
<text x="199.50" y="2024.11" font-size="16.40" text-anchor="end"><tspan>CD8 T</tspan><tspan font-size="12.14" dy="5.41">Naive</tspan></text>
<text x="199.50" y="2043.18" font-size="16.40" text-anchor="end"><tspan>CD8 T</tspan><tspan font-size="12.14" dy="5.41">CM</tspan></text>
<text x="199.50" y="2062.58" font-size="16.40" text-anchor="end"><tspan>CD8 T</tspan><tspan font-size="12.14" dy="5.41">EM</tspan></text>
<text x="199.50" y="2084.45" font-size="16.40" text-anchor="end"><tspan>CD56</tspan><tspan font-size="12.14" dy="-4.92">dim</tspan><tspan dy="4.92"> NK cells</tspan></text>
<text x="199.50" y="2104.18" font-size="16.40" text-anchor="end"><tspan>CD56</tspan><tspan font-size="12.14" dy="-4.92">bright</tspan><tspan dy="4.92"> NK cells</tspan></text>
<text x="199.50" y="2123.25" font-size="16.40" text-anchor="end"><tspan>Classical Monocytes</tspan></text>
<text x="199.50" y="2142.32" font-size="16.40" text-anchor="end"><tspan>Intermediate Monocytes</tspan></text>
<text x="199.50" y="2161.72" font-size="16.40" text-anchor="end"><tspan>Non-Classical Monocytes</tspan></text>
<text x="199.50" y="2180.79" font-size="16.40" text-anchor="end"><tspan>Basophils</tspan></text>
<text x="199.50" y="2200.19" font-size="16.40" text-anchor="end"><tspan>Eosinophils</tspan></text>
<text x="199.50" y="2219.26" font-size="16.40" text-anchor="end"><tspan>Neutrophils</tspan></text>
<line x1="353.46" y1="1924.50" x2="459.33" y2="1924.50" stroke="#222" stroke-width="1.1"/>
<rect x="388.97" y="1919.07" width="29.26" height="11.40" fill="#4f8e88" stroke="#111" stroke-width="1.1"/>
<line x1="400.47" y1="1919.07" x2="400.47" y2="1930.47" stroke="#111" stroke-width="1.1"/>
<circle cx="353.46" cy="1924.77" r="2.85" fill="#fff" stroke="#111" stroke-width="1.15"/>
<circle cx="356.74" cy="1924.77" r="2.85" fill="#fff" stroke="#111" stroke-width="1.15"/>
<circle cx="375.48" cy="1924.77" r="2.85" fill="#fff" stroke="#111" stroke-width="1.15"/>
<circle cx="392.25" cy="1924.77" r="2.85" fill="#fff" stroke="#111" stroke-width="1.15"/>
<circle cx="397.84" cy="1924.77" r="2.85" fill="#fff" stroke="#111" stroke-width="1.15"/>
<circle cx="401.13" cy="1924.77" r="2.85" fill="#fff" stroke="#111" stroke-width="1.15"/>
<circle cx="410.99" cy="1924.77" r="2.85" fill="#fff" stroke="#111" stroke-width="1.15"/>
<circle cx="413.63" cy="1924.77" r="2.85" fill="#fff" stroke="#111" stroke-width="1.15"/>
<circle cx="420.86" cy="1924.77" r="2.85" fill="#fff" stroke="#111" stroke-width="1.15"/>
<circle cx="459.33" cy="1924.77" r="2.85" fill="#fff" stroke="#111" stroke-width="1.15"/>
<line x1="354.44" y1="1943.50" x2="473.47" y2="1943.50" stroke="#222" stroke-width="1.1"/>
<rect x="384.69" y="1938.14" width="63.46" height="11.40" fill="#6fd0c6" stroke="#111" stroke-width="1.1"/>
<line x1="416.91" y1="1938.14" x2="416.91" y2="1949.54" stroke="#111" stroke-width="1.1"/>
<circle cx="354.44" cy="1943.84" r="2.85" fill="#fff" stroke="#111" stroke-width="1.15"/>
<circle cx="367.59" cy="1943.84" r="2.85" fill="#fff" stroke="#111" stroke-width="1.15"/>
<circle cx="371.54" cy="1943.84" r="2.85" fill="#fff" stroke="#111" stroke-width="1.15"/>
<circle cx="396.20" cy="1943.84" r="2.85" fill="#fff" stroke="#111" stroke-width="1.15"/>
<circle cx="399.49" cy="1943.84" r="2.85" fill="#fff" stroke="#111" stroke-width="1.15"/>
<circle cx="412.64" cy="1943.84" r="2.85" fill="#fff" stroke="#111" stroke-width="1.15"/>
<circle cx="419.21" cy="1943.84" r="2.85" fill="#fff" stroke="#111" stroke-width="1.15"/>
<circle cx="424.15" cy="1943.84" r="2.85" fill="#fff" stroke="#111" stroke-width="1.15"/>
<circle cx="446.18" cy="1943.84" r="2.85" fill="#fff" stroke="#111" stroke-width="1.15"/>
<circle cx="451.11" cy="1943.84" r="2.85" fill="#fff" stroke="#111" stroke-width="1.15"/>
<circle cx="459.33" cy="1943.84" r="2.85" fill="#fff" stroke="#111" stroke-width="1.15"/>
<circle cx="473.47" cy="1943.84" r="2.85" fill="#fff" stroke="#111" stroke-width="1.15"/>
<line x1="405.41" y1="1962.50" x2="506.35" y2="1962.50" stroke="#222" stroke-width="1.1"/>
<rect x="426.45" y="1957.21" width="64.12" height="11.40" fill="#1f3a72" stroke="#111" stroke-width="1.1"/>
<line x1="437.30" y1="1957.21" x2="437.30" y2="1968.61" stroke="#111" stroke-width="1.1"/>
<circle cx="405.41" cy="1962.91" r="2.85" fill="#fff" stroke="#111" stroke-width="1.15"/>
<circle cx="421.52" cy="1962.91" r="2.85" fill="#fff" stroke="#111" stroke-width="1.15"/>
<circle cx="429.08" cy="1962.91" r="2.85" fill="#fff" stroke="#111" stroke-width="1.15"/>
<circle cx="433.35" cy="1962.91" r="2.85" fill="#fff" stroke="#111" stroke-width="1.15"/>
<circle cx="437.30" cy="1962.91" r="2.85" fill="#fff" stroke="#111" stroke-width="1.15"/>
<circle cx="463.60" cy="1962.91" r="2.85" fill="#fff" stroke="#111" stroke-width="1.15"/>
<circle cx="482.67" cy="1962.91" r="2.85" fill="#fff" stroke="#111" stroke-width="1.15"/>
<circle cx="499.77" cy="1962.91" r="2.85" fill="#fff" stroke="#111" stroke-width="1.15"/>
<circle cx="506.35" cy="1962.91" r="2.85" fill="#fff" stroke="#111" stroke-width="1.15"/>
<line x1="402.78" y1="1982.50" x2="481.69" y2="1982.50" stroke="#222" stroke-width="1.1"/>
<rect x="459.33" y="1976.61" width="14.14" height="11.40" fill="#1466d2" stroke="#111" stroke-width="1.1"/>
<line x1="465.25" y1="1976.61" x2="465.25" y2="1988.01" stroke="#111" stroke-width="1.1"/>
<circle cx="402.78" cy="1982.31" r="2.85" fill="#fff" stroke="#111" stroke-width="1.15"/>
<circle cx="435.65" cy="1982.31" r="2.85" fill="#fff" stroke="#111" stroke-width="1.15"/>
<circle cx="459.33" cy="1982.31" r="2.85" fill="#fff" stroke="#111" stroke-width="1.15"/>
<circle cx="461.96" cy="1982.31" r="2.85" fill="#fff" stroke="#111" stroke-width="1.15"/>
<circle cx="466.23" cy="1982.31" r="2.85" fill="#fff" stroke="#111" stroke-width="1.15"/>
<circle cx="472.81" cy="1982.31" r="2.85" fill="#fff" stroke="#111" stroke-width="1.15"/>
<circle cx="481.69" cy="1982.31" r="2.85" fill="#fff" stroke="#111" stroke-width="1.15"/>
<line x1="385.68" y1="2001.50" x2="490.56" y2="2001.50" stroke="#222" stroke-width="1.1"/>
<rect x="410.99" y="1996.01" width="42.74" height="11.40" fill="#78a4e0" stroke="#111" stroke-width="1.1"/>
<line x1="437.30" y1="1996.01" x2="437.30" y2="2007.41" stroke="#111" stroke-width="1.1"/>
<circle cx="385.68" cy="2001.71" r="2.85" fill="#fff" stroke="#111" stroke-width="1.15"/>
<circle cx="396.86" cy="2001.71" r="2.85" fill="#fff" stroke="#111" stroke-width="1.15"/>
<circle cx="410.99" cy="2001.71" r="2.85" fill="#fff" stroke="#111" stroke-width="1.15"/>
<circle cx="437.30" cy="2001.71" r="2.85" fill="#fff" stroke="#111" stroke-width="1.15"/>
<circle cx="442.23" cy="2001.71" r="2.85" fill="#fff" stroke="#111" stroke-width="1.15"/>
<circle cx="447.16" cy="2001.71" r="2.85" fill="#fff" stroke="#111" stroke-width="1.15"/>
<circle cx="449.46" cy="2001.71" r="2.85" fill="#fff" stroke="#111" stroke-width="1.15"/>
<circle cx="464.59" cy="2001.71" r="2.85" fill="#fff" stroke="#111" stroke-width="1.15"/>
<circle cx="490.56" cy="2001.71" r="2.85" fill="#fff" stroke="#111" stroke-width="1.15"/>
<line x1="346.22" y1="2021.50" x2="526.07" y2="2021.50" stroke="#222" stroke-width="1.1"/>
<rect x="437.30" y="2015.41" width="74.97" height="11.40" fill="#5a2c9a" stroke="#111" stroke-width="1.1"/>
<line x1="458.01" y1="2015.41" x2="458.01" y2="2026.81" stroke="#111" stroke-width="1.1"/>
<circle cx="346.22" cy="2021.11" r="2.85" fill="#fff" stroke="#111" stroke-width="1.15"/>
<circle cx="366.61" cy="2021.11" r="2.85" fill="#fff" stroke="#111" stroke-width="1.15"/>
<circle cx="435.65" cy="2021.11" r="2.85" fill="#fff" stroke="#111" stroke-width="1.15"/>
<circle cx="447.82" cy="2021.11" r="2.85" fill="#fff" stroke="#111" stroke-width="1.15"/>
<circle cx="458.01" cy="2021.11" r="2.85" fill="#fff" stroke="#111" stroke-width="1.15"/>
<circle cx="462.94" cy="2021.11" r="2.85" fill="#fff" stroke="#111" stroke-width="1.15"/>
<circle cx="465.25" cy="2021.11" r="2.85" fill="#fff" stroke="#111" stroke-width="1.15"/>
<circle cx="476.10" cy="2021.11" r="2.85" fill="#fff" stroke="#111" stroke-width="1.15"/>
<circle cx="509.63" cy="2021.11" r="2.85" fill="#fff" stroke="#111" stroke-width="1.15"/>
<circle cx="518.84" cy="2021.11" r="2.85" fill="#fff" stroke="#111" stroke-width="1.15"/>
<circle cx="526.07" cy="2021.11" r="2.85" fill="#fff" stroke="#111" stroke-width="1.15"/>
<line x1="340.30" y1="2040.50" x2="476.75" y2="2040.50" stroke="#222" stroke-width="1.1"/>
<rect x="395.21" y="2034.48" width="72.66" height="11.40" fill="#6c50ac" stroke="#111" stroke-width="1.1"/>
<line x1="416.91" y1="2034.48" x2="416.91" y2="2045.88" stroke="#111" stroke-width="1.1"/>
<circle cx="340.30" cy="2040.18" r="2.85" fill="#fff" stroke="#111" stroke-width="1.15"/>
<circle cx="360.69" cy="2040.18" r="2.85" fill="#fff" stroke="#111" stroke-width="1.15"/>
<circle cx="395.21" cy="2040.18" r="2.85" fill="#fff" stroke="#111" stroke-width="1.15"/>
<circle cx="403.76" cy="2040.18" r="2.85" fill="#fff" stroke="#111" stroke-width="1.15"/>
<circle cx="413.63" cy="2040.18" r="2.85" fill="#fff" stroke="#111" stroke-width="1.15"/>
<circle cx="417.57" cy="2040.18" r="2.85" fill="#fff" stroke="#111" stroke-width="1.15"/>
<circle cx="447.82" cy="2040.18" r="2.85" fill="#fff" stroke="#111" stroke-width="1.15"/>
<circle cx="459.66" cy="2040.18" r="2.85" fill="#fff" stroke="#111" stroke-width="1.15"/>
<circle cx="471.16" cy="2040.18" r="2.85" fill="#fff" stroke="#111" stroke-width="1.15"/>
<circle cx="476.75" cy="2040.18" r="2.85" fill="#fff" stroke="#111" stroke-width="1.15"/>
<line x1="398.83" y1="2059.50" x2="492.21" y2="2059.50" stroke="#222" stroke-width="1.1"/>
<rect x="419.21" y="2053.88" width="60.83" height="11.40" fill="#7f7cc4" stroke="#111" stroke-width="1.1"/>
<line x1="443.87" y1="2053.88" x2="443.87" y2="2065.28" stroke="#111" stroke-width="1.1"/>
<circle cx="398.83" cy="2059.58" r="2.85" fill="#fff" stroke="#111" stroke-width="1.15"/>
<circle cx="401.79" cy="2059.58" r="2.85" fill="#fff" stroke="#111" stroke-width="1.15"/>
<circle cx="417.57" cy="2059.58" r="2.85" fill="#fff" stroke="#111" stroke-width="1.15"/>
<circle cx="434.01" cy="2059.58" r="2.85" fill="#fff" stroke="#111" stroke-width="1.15"/>
<circle cx="437.30" cy="2059.58" r="2.85" fill="#fff" stroke="#111" stroke-width="1.15"/>
<circle cx="443.87" cy="2059.58" r="2.85" fill="#fff" stroke="#111" stroke-width="1.15"/>
<circle cx="459.66" cy="2059.58" r="2.85" fill="#fff" stroke="#111" stroke-width="1.15"/>
<circle cx="473.47" cy="2059.58" r="2.85" fill="#fff" stroke="#111" stroke-width="1.15"/>
<circle cx="487.60" cy="2059.58" r="2.85" fill="#fff" stroke="#111" stroke-width="1.15"/>
<circle cx="492.21" cy="2059.58" r="2.85" fill="#fff" stroke="#111" stroke-width="1.15"/>
<line x1="407.71" y1="2078.50" x2="527.72" y2="2078.50" stroke="#222" stroke-width="1.1"/>
<rect x="425.13" y="2072.95" width="79.57" height="11.40" fill="#0d6b3a" stroke="#111" stroke-width="1.1"/>
<line x1="455.38" y1="2072.95" x2="455.38" y2="2084.35" stroke="#111" stroke-width="1.1"/>
<circle cx="407.71" cy="2078.65" r="2.85" fill="#fff" stroke="#111" stroke-width="1.15"/>
<circle cx="417.57" cy="2078.65" r="2.85" fill="#fff" stroke="#111" stroke-width="1.15"/>
<circle cx="445.52" cy="2078.65" r="2.85" fill="#fff" stroke="#111" stroke-width="1.15"/>
<circle cx="448.81" cy="2078.65" r="2.85" fill="#fff" stroke="#111" stroke-width="1.15"/>
<circle cx="460.97" cy="2078.65" r="2.85" fill="#fff" stroke="#111" stroke-width="1.15"/>
<circle cx="482.34" cy="2078.65" r="2.85" fill="#fff" stroke="#111" stroke-width="1.15"/>
<circle cx="494.84" cy="2078.65" r="2.85" fill="#fff" stroke="#111" stroke-width="1.15"/>
<circle cx="509.63" cy="2078.65" r="2.85" fill="#fff" stroke="#111" stroke-width="1.15"/>
<circle cx="527.72" cy="2078.65" r="2.85" fill="#fff" stroke="#111" stroke-width="1.15"/>
<line x1="349.18" y1="2098.50" x2="426.78" y2="2098.50" stroke="#222" stroke-width="1.1"/>
<rect x="375.48" y="2092.68" width="20.71" height="11.40" fill="#6fc07e" stroke="#111" stroke-width="1.1"/>
<line x1="387.98" y1="2092.68" x2="387.98" y2="2104.08" stroke="#111" stroke-width="1.1"/>
<circle cx="349.18" cy="2098.38" r="2.85" fill="#fff" stroke="#111" stroke-width="1.15"/>
<circle cx="369.90" cy="2098.38" r="2.85" fill="#fff" stroke="#111" stroke-width="1.15"/>
<circle cx="371.54" cy="2098.38" r="2.85" fill="#fff" stroke="#111" stroke-width="1.15"/>
<circle cx="386.34" cy="2098.38" r="2.85" fill="#fff" stroke="#111" stroke-width="1.15"/>
<circle cx="389.62" cy="2098.38" r="2.85" fill="#fff" stroke="#111" stroke-width="1.15"/>
<circle cx="392.91" cy="2098.38" r="2.85" fill="#fff" stroke="#111" stroke-width="1.15"/>
<circle cx="403.43" cy="2098.38" r="2.85" fill="#fff" stroke="#111" stroke-width="1.15"/>
<circle cx="426.78" cy="2098.38" r="2.85" fill="#fff" stroke="#111" stroke-width="1.15"/>
<line x1="304.79" y1="2117.50" x2="354.11" y2="2117.50" stroke="#222" stroke-width="1.1"/>
<rect x="329.78" y="2111.75" width="13.81" height="11.40" fill="#dc5428" stroke="#111" stroke-width="1.1"/>
<line x1="336.03" y1="2111.75" x2="336.03" y2="2123.15" stroke="#111" stroke-width="1.1"/>
<circle cx="304.79" cy="2117.45" r="2.85" fill="#fff" stroke="#111" stroke-width="1.15"/>
<circle cx="325.51" cy="2117.45" r="2.85" fill="#fff" stroke="#111" stroke-width="1.15"/>
<circle cx="330.44" cy="2117.45" r="2.85" fill="#fff" stroke="#111" stroke-width="1.15"/>
<circle cx="335.37" cy="2117.45" r="2.85" fill="#fff" stroke="#111" stroke-width="1.15"/>
<circle cx="340.30" cy="2117.45" r="2.85" fill="#fff" stroke="#111" stroke-width="1.15"/>
<circle cx="345.89" cy="2117.45" r="2.85" fill="#fff" stroke="#111" stroke-width="1.15"/>
<circle cx="354.11" cy="2117.45" r="2.85" fill="#fff" stroke="#111" stroke-width="1.15"/>
<line x1="312.36" y1="2136.50" x2="364.96" y2="2136.50" stroke="#222" stroke-width="1.1"/>
<rect x="325.51" y="2130.82" width="27.95" height="11.40" fill="#f58a48" stroke="#111" stroke-width="1.1"/>
<line x1="332.08" y1="2130.82" x2="332.08" y2="2142.22" stroke="#111" stroke-width="1.1"/>
<circle cx="312.36" cy="2136.52" r="2.85" fill="#fff" stroke="#111" stroke-width="1.15"/>
<circle cx="315.64" cy="2136.52" r="2.85" fill="#fff" stroke="#111" stroke-width="1.15"/>
<circle cx="327.15" cy="2136.52" r="2.85" fill="#fff" stroke="#111" stroke-width="1.15"/>
<circle cx="330.44" cy="2136.52" r="2.85" fill="#fff" stroke="#111" stroke-width="1.15"/>
<circle cx="343.59" cy="2136.52" r="2.85" fill="#fff" stroke="#111" stroke-width="1.15"/>
<circle cx="350.17" cy="2136.52" r="2.85" fill="#fff" stroke="#111" stroke-width="1.15"/>
<circle cx="364.96" cy="2136.52" r="2.85" fill="#fff" stroke="#111" stroke-width="1.15"/>
<line x1="302.49" y1="2155.50" x2="365.95" y2="2155.50" stroke="#222" stroke-width="1.1"/>
<rect x="326.17" y="2150.22" width="27.95" height="11.40" fill="#ef6e2c" stroke="#111" stroke-width="1.1"/>
<line x1="337.02" y1="2150.22" x2="337.02" y2="2161.62" stroke="#111" stroke-width="1.1"/>
<circle cx="302.49" cy="2155.92" r="2.85" fill="#fff" stroke="#111" stroke-width="1.15"/>
<circle cx="320.58" cy="2155.92" r="2.85" fill="#fff" stroke="#111" stroke-width="1.15"/>
<circle cx="325.51" cy="2155.92" r="2.85" fill="#fff" stroke="#111" stroke-width="1.15"/>
<circle cx="334.71" cy="2155.92" r="2.85" fill="#fff" stroke="#111" stroke-width="1.15"/>
<circle cx="337.02" cy="2155.92" r="2.85" fill="#fff" stroke="#111" stroke-width="1.15"/>
<circle cx="343.59" cy="2155.92" r="2.85" fill="#fff" stroke="#111" stroke-width="1.15"/>
<circle cx="346.88" cy="2155.92" r="2.85" fill="#fff" stroke="#111" stroke-width="1.15"/>
<circle cx="361.02" cy="2155.92" r="2.85" fill="#fff" stroke="#111" stroke-width="1.15"/>
<circle cx="365.95" cy="2155.92" r="2.85" fill="#fff" stroke="#111" stroke-width="1.15"/>
<line x1="261.39" y1="2174.50" x2="311.70" y2="2174.50" stroke="#222" stroke-width="1.1"/>
<rect x="270.60" y="2169.29" width="24.66" height="11.40" fill="#e5b42e" stroke="#111" stroke-width="1.1"/>
<line x1="279.48" y1="2169.29" x2="279.48" y2="2180.69" stroke="#111" stroke-width="1.1"/>
<circle cx="261.39" cy="2174.99" r="2.85" fill="#fff" stroke="#111" stroke-width="1.15"/>
<circle cx="265.67" cy="2174.99" r="2.85" fill="#fff" stroke="#111" stroke-width="1.15"/>
<circle cx="271.26" cy="2174.99" r="2.85" fill="#fff" stroke="#111" stroke-width="1.15"/>
<circle cx="276.19" cy="2174.99" r="2.85" fill="#fff" stroke="#111" stroke-width="1.15"/>
<circle cx="282.11" cy="2174.99" r="2.85" fill="#fff" stroke="#111" stroke-width="1.15"/>
<circle cx="286.05" cy="2174.99" r="2.85" fill="#fff" stroke="#111" stroke-width="1.15"/>
<circle cx="297.56" cy="2174.99" r="2.85" fill="#fff" stroke="#111" stroke-width="1.15"/>
<circle cx="311.70" cy="2174.99" r="2.85" fill="#fff" stroke="#111" stroke-width="1.15"/>
<line x1="239.03" y1="2194.50" x2="255.47" y2="2194.50" stroke="#222" stroke-width="1.1"/>
<rect x="242.65" y="2188.69" width="5.59" height="11.40" fill="#a51d2a" stroke="#111" stroke-width="1.1"/>
<line x1="244.95" y1="2188.69" x2="244.95" y2="2200.09" stroke="#111" stroke-width="1.1"/>
<circle cx="239.03" cy="2194.39" r="2.85" fill="#fff" stroke="#111" stroke-width="1.15"/>
<circle cx="241.67" cy="2194.39" r="2.85" fill="#fff" stroke="#111" stroke-width="1.15"/>
<circle cx="244.95" cy="2194.39" r="2.85" fill="#fff" stroke="#111" stroke-width="1.15"/>
<circle cx="249.88" cy="2194.39" r="2.85" fill="#fff" stroke="#111" stroke-width="1.15"/>
<circle cx="255.47" cy="2194.39" r="2.85" fill="#fff" stroke="#111" stroke-width="1.15"/>
<line x1="228.51" y1="2213.50" x2="234.10" y2="2213.50" stroke="#222" stroke-width="1.1"/>
<rect x="231.14" y="2207.76" width="2.30" height="11.40" fill="#f0432e" stroke="#111" stroke-width="1.1"/>
<line x1="232.13" y1="2207.76" x2="232.13" y2="2219.16" stroke="#111" stroke-width="1.1"/>
<circle cx="228.51" cy="2213.46" r="2.85" fill="#fff" stroke="#111" stroke-width="1.15"/>
<circle cx="231.14" cy="2213.46" r="2.85" fill="#fff" stroke="#111" stroke-width="1.15"/>
<circle cx="234.10" cy="2213.46" r="2.85" fill="#fff" stroke="#111" stroke-width="1.15"/>
<text x="589.60" y="1911.00" font-size="49.5" font-weight="bold" fill="#222">p</text>
<rect x="726.80" y="1913.05" width="10.90" height="38.71" fill="#6cc9c0"/>
<rect x="726.80" y="1951.66" width="10.90" height="38.71" fill="#18519c"/>
<rect x="726.80" y="1990.27" width="10.90" height="38.71" fill="#5a2d96"/>
<rect x="726.80" y="2028.89" width="10.90" height="38.71" fill="#72c17c"/>
<rect x="726.80" y="2067.50" width="10.90" height="38.71" fill="#f8a80e"/>
<rect x="726.80" y="2106.11" width="10.90" height="38.71" fill="#f6742a"/>
<rect x="726.80" y="2144.72" width="10.90" height="38.71" fill="#a01c2a"/>
<rect x="726.80" y="2183.34" width="10.90" height="38.71" fill="#f83a1e"/>
<line x1="741.60" y1="1910.10" x2="741.60" y2="2227.15" stroke="#111" stroke-width="1.3"/>
<line x1="740.95" y1="2226.50" x2="1058.25" y2="2226.50" stroke="#111" stroke-width="1.3"/>
<line x1="741.60" y1="2226.50" x2="741.60" y2="2232.00" stroke="#111" stroke-width="1.3"/>
<text x="741.60" y="2252.30" font-size="18.8" text-anchor="middle">0</text>
<line x1="831.80" y1="2226.50" x2="831.80" y2="2232.00" stroke="#111" stroke-width="1.3"/>
<text x="831.80" y="2252.30" font-size="18.8" text-anchor="middle">20000</text>
<line x1="922.00" y1="2226.50" x2="922.00" y2="2232.00" stroke="#111" stroke-width="1.3"/>
<text x="922.00" y="2252.30" font-size="18.8" text-anchor="middle">40000</text>
<line x1="1012.20" y1="2226.50" x2="1012.20" y2="2232.00" stroke="#111" stroke-width="1.3"/>
<text x="1012.20" y="2252.30" font-size="18.8" text-anchor="middle">60000</text>
<text x="900.40" y="2278.10" font-size="18.7" font-weight="bold" text-anchor="middle">PE(18:0_20:4)</text>
<text x="900.40" y="2301.00" font-size="18.7" font-weight="bold" text-anchor="middle"><tspan font-weight="normal">ρ</tspan>mol/<tspan font-weight="normal">μ</tspan>mol total lipidome</text>
<text x="721.90" y="1941.57" font-size="16.40" text-anchor="end"><tspan>B Cells</tspan></text>
<text x="721.90" y="1979.30" font-size="16.40" text-anchor="end"><tspan>CD4 T Cells</tspan></text>
<text x="721.90" y="2017.33" font-size="16.40" text-anchor="end"><tspan>CD8 T Cells</tspan></text>
<text x="721.90" y="2055.36" font-size="16.40" text-anchor="end"><tspan>NK Cells</tspan></text>
<text x="721.90" y="2093.39" font-size="16.40" text-anchor="end"><tspan>Ly6C</tspan><tspan font-size="12.14" dy="-4.92">hi</tspan><tspan dy="4.92"> monocytes</tspan></text>
<text x="721.90" y="2131.13" font-size="16.40" text-anchor="end"><tspan>Ly6C</tspan><tspan font-size="12.14" dy="-4.92">lo</tspan><tspan dy="4.92"> monocytes</tspan></text>
<text x="721.90" y="2169.16" font-size="16.40" text-anchor="end"><tspan>Eosinophils</tspan></text>
<text x="721.90" y="2207.19" font-size="16.40" text-anchor="end"><tspan>Neutrophils</tspan></text>
<line x1="845.33" y1="1935.50" x2="931.42" y2="1935.50" stroke="#222" stroke-width="1.1"/>
<line x1="845.33" y1="1930.17" x2="845.33" y2="1941.37" stroke="#222" stroke-width="1.1"/>
<line x1="931.42" y1="1930.17" x2="931.42" y2="1941.37" stroke="#222" stroke-width="1.1"/>
<rect x="857.12" y="1924.02" width="48.64" height="23.50" fill="#6cc9c0" stroke="#111" stroke-width="1.1"/>
<line x1="871.86" y1="1924.02" x2="871.86" y2="1947.52" stroke="#111" stroke-width="1.1"/>
<circle cx="845.33" cy="1935.77" r="2.85" fill="#fff" stroke="#111" stroke-width="1.15"/>
<circle cx="853.29" cy="1935.77" r="2.85" fill="#fff" stroke="#111" stroke-width="1.15"/>
<circle cx="867.44" cy="1935.77" r="2.85" fill="#fff" stroke="#111" stroke-width="1.15"/>
<circle cx="869.80" cy="1935.77" r="2.85" fill="#fff" stroke="#111" stroke-width="1.15"/>
<circle cx="875.70" cy="1935.77" r="2.85" fill="#fff" stroke="#111" stroke-width="1.15"/>
<circle cx="915.20" cy="1935.77" r="2.85" fill="#fff" stroke="#111" stroke-width="1.15"/>
<circle cx="931.42" cy="1935.77" r="2.85" fill="#fff" stroke="#111" stroke-width="1.15"/>
<line x1="809.95" y1="1973.50" x2="887.49" y2="1973.50" stroke="#222" stroke-width="1.1"/>
<line x1="809.95" y1="1967.90" x2="809.95" y2="1979.10" stroke="#222" stroke-width="1.1"/>
<line x1="887.49" y1="1967.90" x2="887.49" y2="1979.10" stroke="#222" stroke-width="1.1"/>
<rect x="820.27" y="1961.75" width="61.03" height="23.50" fill="#18519c" stroke="#111" stroke-width="1.1"/>
<line x1="845.33" y1="1961.75" x2="845.33" y2="1985.25" stroke="#111" stroke-width="1.1"/>
<circle cx="809.95" cy="1973.50" r="2.85" fill="#fff" stroke="#111" stroke-width="1.15"/>
<circle cx="813.79" cy="1973.50" r="2.85" fill="#fff" stroke="#111" stroke-width="1.15"/>
<circle cx="826.17" cy="1973.50" r="2.85" fill="#fff" stroke="#111" stroke-width="1.15"/>
<circle cx="842.38" cy="1973.50" r="2.85" fill="#fff" stroke="#111" stroke-width="1.15"/>
<circle cx="845.33" cy="1973.50" r="2.85" fill="#fff" stroke="#111" stroke-width="1.15"/>
<circle cx="853.29" cy="1973.50" r="2.85" fill="#fff" stroke="#111" stroke-width="1.15"/>
<circle cx="879.82" cy="1973.50" r="2.85" fill="#fff" stroke="#111" stroke-width="1.15"/>
<circle cx="887.49" cy="1973.50" r="2.85" fill="#fff" stroke="#111" stroke-width="1.15"/>
<line x1="835.60" y1="2011.50" x2="909.60" y2="2011.50" stroke="#222" stroke-width="1.1"/>
<line x1="835.60" y1="2005.93" x2="835.60" y2="2017.13" stroke="#222" stroke-width="1.1"/>
<line x1="909.60" y1="2005.93" x2="909.60" y2="2017.13" stroke="#222" stroke-width="1.1"/>
<rect x="842.97" y="1999.78" width="59.26" height="23.50" fill="#5a2d96" stroke="#111" stroke-width="1.1"/>
<line x1="868.03" y1="1999.78" x2="868.03" y2="2023.28" stroke="#111" stroke-width="1.1"/>
<circle cx="835.60" cy="2011.53" r="2.85" fill="#fff" stroke="#111" stroke-width="1.15"/>
<circle cx="840.02" cy="2011.53" r="2.85" fill="#fff" stroke="#111" stroke-width="1.15"/>
<circle cx="850.34" cy="2011.53" r="2.85" fill="#fff" stroke="#111" stroke-width="1.15"/>
<circle cx="854.17" cy="2011.53" r="2.85" fill="#fff" stroke="#111" stroke-width="1.15"/>
<circle cx="880.71" cy="2011.53" r="2.85" fill="#fff" stroke="#111" stroke-width="1.15"/>
<circle cx="886.60" cy="2011.53" r="2.85" fill="#fff" stroke="#111" stroke-width="1.15"/>
<circle cx="907.83" cy="2011.53" r="2.85" fill="#fff" stroke="#111" stroke-width="1.15"/>
<circle cx="909.60" cy="2011.53" r="2.85" fill="#fff" stroke="#111" stroke-width="1.15"/>
<line x1="821.16" y1="2049.50" x2="1028.11" y2="2049.50" stroke="#222" stroke-width="1.1"/>
<line x1="821.16" y1="2043.96" x2="821.16" y2="2055.16" stroke="#222" stroke-width="1.1"/>
<line x1="1028.11" y1="2043.96" x2="1028.11" y2="2055.16" stroke="#222" stroke-width="1.1"/>
<rect x="838.84" y="2037.81" width="63.97" height="23.50" fill="#72c17c" stroke="#111" stroke-width="1.1"/>
<line x1="882.18" y1="2037.81" x2="882.18" y2="2061.31" stroke="#111" stroke-width="1.1"/>
<circle cx="821.16" cy="2049.56" r="2.85" fill="#fff" stroke="#111" stroke-width="1.15"/>
<circle cx="838.55" cy="2049.56" r="2.85" fill="#fff" stroke="#111" stroke-width="1.15"/>
<circle cx="860.66" cy="2049.56" r="2.85" fill="#fff" stroke="#111" stroke-width="1.15"/>
<circle cx="882.18" cy="2049.56" r="2.85" fill="#fff" stroke="#111" stroke-width="1.15"/>
<circle cx="883.66" cy="2049.56" r="2.85" fill="#fff" stroke="#111" stroke-width="1.15"/>
<circle cx="893.09" cy="2049.56" r="2.85" fill="#fff" stroke="#111" stroke-width="1.15"/>
<circle cx="913.14" cy="2049.56" r="2.85" fill="#fff" stroke="#111" stroke-width="1.15"/>
<circle cx="1028.11" cy="2049.56" r="2.85" fill="#fff" stroke="#111" stroke-width="1.15"/>
<line x1="836.49" y1="2087.50" x2="904.29" y2="2087.50" stroke="#222" stroke-width="1.1"/>
<line x1="836.49" y1="2081.99" x2="836.49" y2="2093.19" stroke="#222" stroke-width="1.1"/>
<line x1="904.29" y1="2081.99" x2="904.29" y2="2093.19" stroke="#222" stroke-width="1.1"/>
<rect x="856.24" y="2075.84" width="39.21" height="23.50" fill="#f8a80e" stroke="#111" stroke-width="1.1"/>
<line x1="879.82" y1="2075.84" x2="879.82" y2="2099.34" stroke="#111" stroke-width="1.1"/>
<circle cx="836.49" cy="2087.59" r="2.85" fill="#fff" stroke="#111" stroke-width="1.15"/>
<circle cx="853.58" cy="2087.59" r="2.85" fill="#fff" stroke="#111" stroke-width="1.15"/>
<circle cx="856.53" cy="2087.59" r="2.85" fill="#fff" stroke="#111" stroke-width="1.15"/>
<circle cx="862.13" cy="2087.59" r="2.85" fill="#fff" stroke="#111" stroke-width="1.15"/>
<circle cx="872.75" cy="2087.59" r="2.85" fill="#fff" stroke="#111" stroke-width="1.15"/>
<circle cx="886.60" cy="2087.59" r="2.85" fill="#fff" stroke="#111" stroke-width="1.15"/>
<circle cx="893.97" cy="2087.59" r="2.85" fill="#fff" stroke="#111" stroke-width="1.15"/>
<circle cx="900.75" cy="2087.59" r="2.85" fill="#fff" stroke="#111" stroke-width="1.15"/>
<circle cx="904.29" cy="2087.59" r="2.85" fill="#fff" stroke="#111" stroke-width="1.15"/>
<line x1="801.70" y1="2125.50" x2="869.50" y2="2125.50" stroke="#222" stroke-width="1.1"/>
<line x1="801.70" y1="2119.73" x2="801.70" y2="2130.93" stroke="#222" stroke-width="1.1"/>
<line x1="869.50" y1="2119.73" x2="869.50" y2="2130.93" stroke="#222" stroke-width="1.1"/>
<rect x="817.91" y="2113.58" width="46.58" height="23.50" fill="#f6742a" stroke="#111" stroke-width="1.1"/>
<line x1="838.84" y1="2113.58" x2="838.84" y2="2137.08" stroke="#111" stroke-width="1.1"/>
<circle cx="801.70" cy="2125.33" r="2.85" fill="#fff" stroke="#111" stroke-width="1.15"/>
<circle cx="816.73" cy="2125.33" r="2.85" fill="#fff" stroke="#111" stroke-width="1.15"/>
<circle cx="829.12" cy="2125.33" r="2.85" fill="#fff" stroke="#111" stroke-width="1.15"/>
<circle cx="838.84" cy="2125.33" r="2.85" fill="#fff" stroke="#111" stroke-width="1.15"/>
<circle cx="852.70" cy="2125.33" r="2.85" fill="#fff" stroke="#111" stroke-width="1.15"/>
<circle cx="863.02" cy="2125.33" r="2.85" fill="#fff" stroke="#111" stroke-width="1.15"/>
<circle cx="865.97" cy="2125.33" r="2.85" fill="#fff" stroke="#111" stroke-width="1.15"/>
<circle cx="869.50" cy="2125.33" r="2.85" fill="#fff" stroke="#111" stroke-width="1.15"/>
<line x1="769.56" y1="2163.50" x2="810.54" y2="2163.50" stroke="#222" stroke-width="1.1"/>
<line x1="769.56" y1="2157.76" x2="769.56" y2="2168.96" stroke="#222" stroke-width="1.1"/>
<line x1="810.54" y1="2157.76" x2="810.54" y2="2168.96" stroke="#222" stroke-width="1.1"/>
<rect x="789.32" y="2151.61" width="9.43" height="23.50" fill="#a01c2a" stroke="#111" stroke-width="1.1"/>
<line x1="792.26" y1="2151.61" x2="792.26" y2="2175.11" stroke="#111" stroke-width="1.1"/>
<circle cx="769.56" cy="2163.36" r="2.85" fill="#fff" stroke="#111" stroke-width="1.15"/>
<circle cx="789.32" cy="2163.36" r="2.85" fill="#fff" stroke="#111" stroke-width="1.15"/>
<circle cx="792.85" cy="2163.36" r="2.85" fill="#fff" stroke="#111" stroke-width="1.15"/>
<circle cx="798.75" cy="2163.36" r="2.85" fill="#fff" stroke="#111" stroke-width="1.15"/>
<circle cx="810.54" cy="2163.36" r="2.85" fill="#fff" stroke="#111" stroke-width="1.15"/>
<line x1="762.19" y1="2201.50" x2="788.73" y2="2201.50" stroke="#222" stroke-width="1.1"/>
<line x1="762.19" y1="2195.79" x2="762.19" y2="2206.99" stroke="#222" stroke-width="1.1"/>
<line x1="788.73" y1="2195.79" x2="788.73" y2="2206.99" stroke="#222" stroke-width="1.1"/>
<rect x="765.14" y="2189.64" width="13.27" height="23.50" fill="#f83a1e" stroke="#111" stroke-width="1.1"/>
<line x1="767.21" y1="2189.64" x2="767.21" y2="2213.14" stroke="#111" stroke-width="1.1"/>
<circle cx="762.19" cy="2201.39" r="2.85" fill="#fff" stroke="#111" stroke-width="1.15"/>
<circle cx="764.85" cy="2201.39" r="2.85" fill="#fff" stroke="#111" stroke-width="1.15"/>
<circle cx="772.22" cy="2201.39" r="2.85" fill="#fff" stroke="#111" stroke-width="1.15"/>
<circle cx="775.46" cy="2201.39" r="2.85" fill="#fff" stroke="#111" stroke-width="1.15"/>
<circle cx="783.42" cy="2201.39" r="2.85" fill="#fff" stroke="#111" stroke-width="1.15"/>
<circle cx="788.73" cy="2201.39" r="2.85" fill="#fff" stroke="#111" stroke-width="1.15"/>
</svg></body></html>
